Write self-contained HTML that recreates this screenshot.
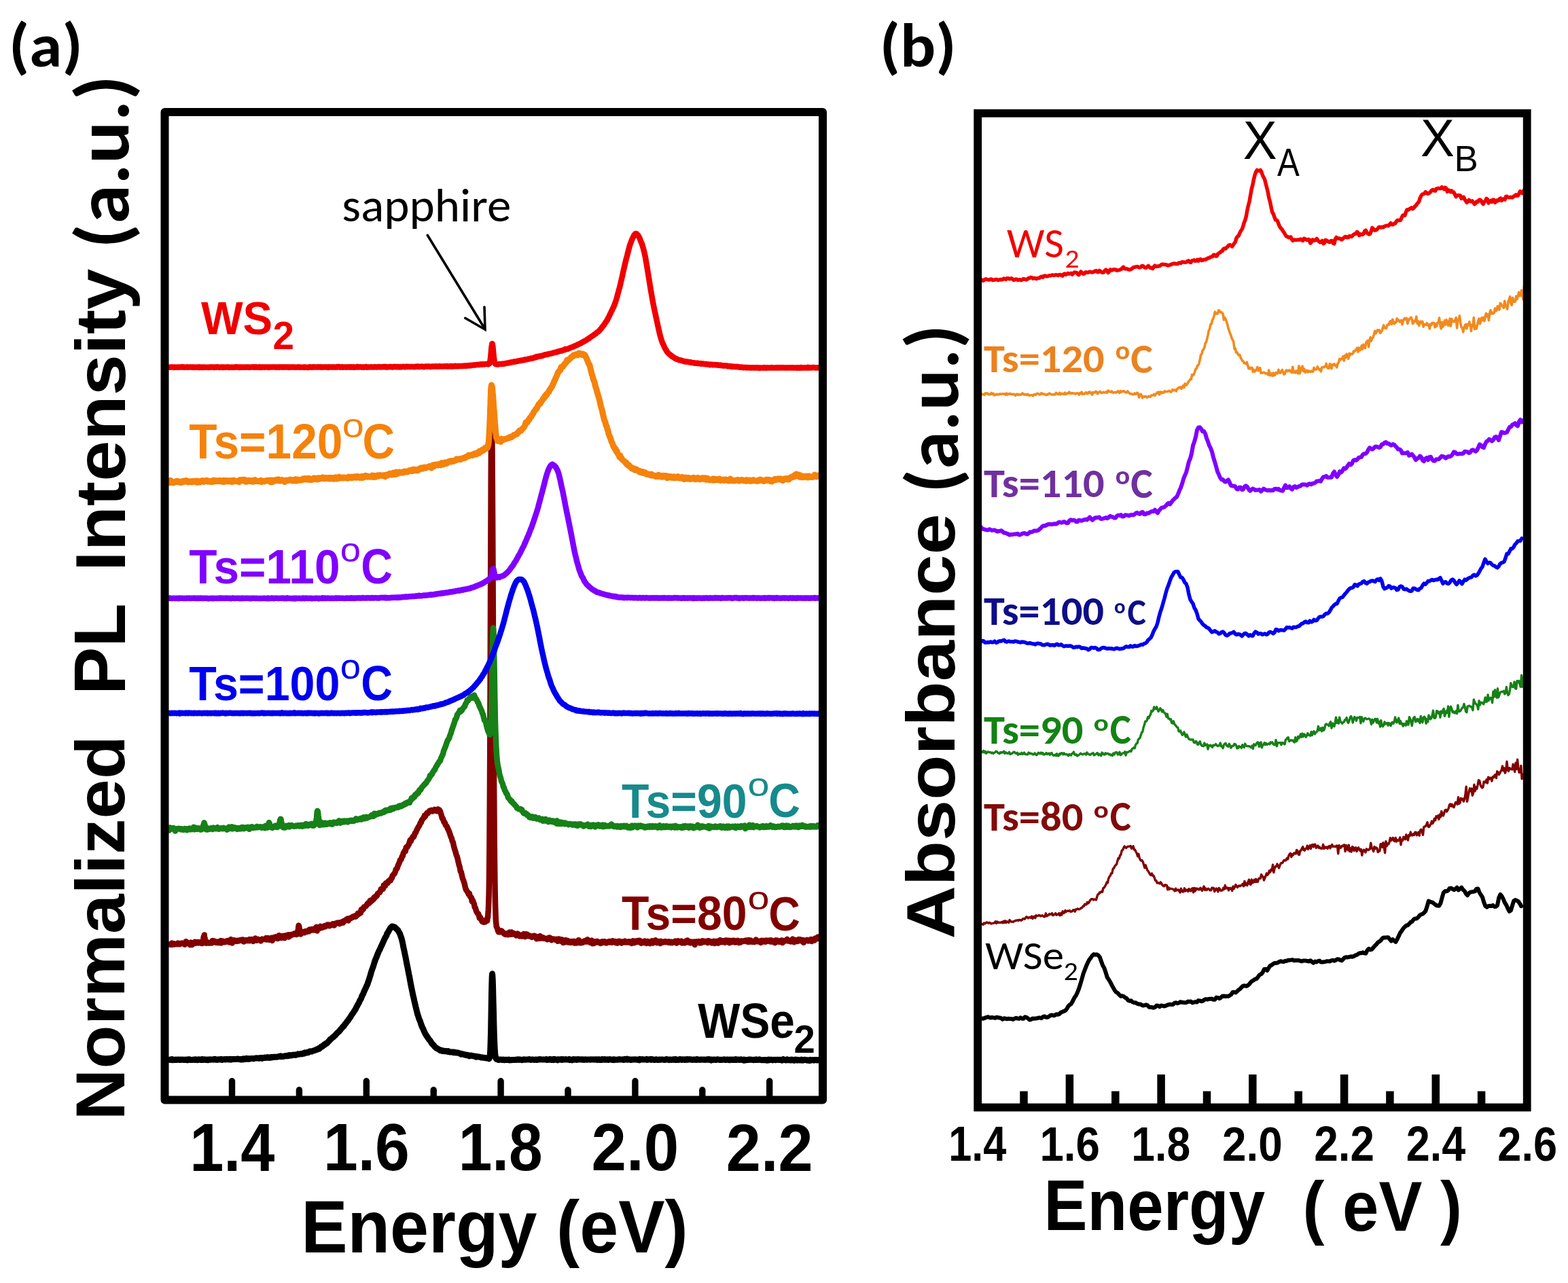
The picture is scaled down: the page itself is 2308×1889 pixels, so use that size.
<!DOCTYPE html>
<html><head><meta charset="utf-8"><title>PL and absorbance spectra</title>
<style>html,body{margin:0;padding:0;background:#fff;}svg{display:block;}</style></head>
<body><svg xmlns="http://www.w3.org/2000/svg" width="2308" height="1889" viewBox="0 0 2308 1889">
<rect width="2308" height="1889" fill="#fff"/>
<polyline points="249.8,1390.4 250.8,1390.9 251.8,1390.3 252.8,1388.5 253.8,1390.9 254.8,1390.3 255.8,1389.2 256.8,1390.4 257.8,1390.1 258.8,1390.0 259.8,1389.7 260.8,1390.2 261.8,1388.8 262.8,1389.4 263.8,1389.0 264.8,1390.1 265.8,1389.5 266.8,1389.1 267.8,1388.5 268.8,1389.1 269.8,1389.3 270.8,1389.0 271.8,1390.6 272.8,1390.3 273.8,1386.2 274.8,1387.0 275.8,1388.9 276.8,1388.6 277.8,1389.2 278.8,1389.2 279.8,1391.2 280.8,1387.6 281.8,1388.4 282.8,1391.0 283.8,1389.4 284.8,1389.4 285.8,1388.1 286.8,1386.8 287.8,1388.7 288.8,1388.6 289.8,1387.1 290.8,1387.7 291.8,1388.3 292.8,1387.3 293.8,1388.2 294.8,1388.3 295.8,1388.2 296.5,1387.6 296.8,1388.8 296.8,1389.1 297.0,1388.5 297.2,1387.2 297.5,1388.8 297.8,1387.3 297.8,1388.8 298.0,1386.5 298.2,1388.3 298.5,1386.7 298.8,1384.5 298.8,1385.4 299.0,1384.9 299.2,1383.8 299.5,1380.9 299.8,1379.2 299.8,1380.4 300.0,1378.7 300.2,1378.6 300.5,1378.8 300.8,1376.5 300.8,1378.7 301.0,1380.5 301.2,1380.1 301.5,1381.0 301.8,1384.2 301.8,1383.9 302.0,1385.6 302.2,1385.4 302.5,1384.9 302.8,1387.0 302.8,1386.7 303.0,1388.3 303.2,1387.8 303.5,1385.9 303.8,1386.5 303.8,1388.7 304.0,1388.5 304.2,1387.1 304.8,1387.8 305.8,1388.2 306.8,1388.2 307.8,1388.6 308.8,1387.8 309.8,1387.4 310.8,1387.2 311.8,1388.6 312.8,1384.9 313.8,1387.1 314.8,1387.3 315.8,1385.6 316.8,1387.5 317.8,1386.4 318.8,1388.0 319.8,1386.8 320.8,1387.6 321.8,1388.2 322.8,1387.2 323.8,1385.8 324.8,1385.0 325.8,1388.5 326.8,1386.4 327.8,1385.7 328.8,1386.6 329.8,1386.2 330.8,1387.3 331.8,1386.3 332.8,1386.2 333.8,1385.4 334.8,1386.6 335.8,1384.9 336.8,1386.7 337.8,1387.6 338.8,1384.2 339.8,1383.1 340.8,1386.4 341.8,1388.5 342.8,1384.5 343.8,1384.2 344.8,1386.2 345.8,1384.5 346.8,1384.8 347.8,1385.0 348.8,1385.9 349.8,1384.8 350.8,1385.5 351.8,1384.9 352.8,1384.2 353.8,1384.7 354.8,1383.9 355.8,1384.9 356.8,1383.6 357.8,1383.6 358.8,1386.4 359.8,1384.7 360.8,1384.6 361.8,1385.2 362.8,1384.1 363.8,1384.3 364.8,1385.0 365.8,1384.7 366.8,1383.1 367.8,1385.2 368.8,1383.6 369.8,1383.1 370.8,1383.2 371.8,1383.7 372.8,1385.9 373.8,1382.7 374.8,1384.1 375.8,1381.5 376.8,1383.8 377.8,1384.8 378.8,1383.4 379.8,1382.9 380.8,1383.8 381.8,1384.3 382.8,1384.2 383.8,1385.5 384.8,1383.5 385.8,1382.6 386.8,1383.0 387.8,1383.0 388.8,1383.1 389.8,1382.9 390.8,1383.0 391.8,1380.9 392.8,1383.5 393.8,1381.9 394.8,1381.1 395.8,1383.0 396.8,1383.7 397.8,1382.6 398.8,1382.1 399.8,1380.8 400.8,1384.9 401.8,1382.5 402.8,1380.2 403.8,1380.4 404.8,1381.2 405.8,1379.3 406.8,1381.0 407.8,1380.2 408.8,1381.9 409.8,1381.4 410.8,1377.2 411.8,1380.1 412.8,1378.1 413.8,1380.9 414.8,1379.7 415.8,1379.9 416.8,1377.9 417.8,1380.9 418.8,1381.0 419.8,1377.4 420.8,1378.8 421.8,1377.4 422.8,1377.9 423.8,1376.4 424.8,1379.6 425.8,1376.3 426.8,1376.9 427.8,1377.5 428.8,1376.1 429.8,1376.3 430.8,1375.7 431.8,1376.0 432.8,1374.7 433.8,1375.3 434.8,1375.3 435.8,1375.0 436.1,1375.3 436.3,1374.9 436.6,1376.0 436.8,1374.7 437.1,1374.7 437.3,1373.9 437.6,1373.6 437.8,1372.2 438.1,1373.3 438.3,1370.3 438.6,1369.4 438.8,1369.0 439.1,1367.5 439.3,1365.3 439.6,1362.6 439.8,1364.9 440.1,1365.0 440.3,1364.0 440.6,1367.6 440.8,1367.4 441.1,1368.4 441.3,1371.0 441.6,1371.7 441.8,1372.9 442.1,1371.4 442.3,1375.4 442.6,1372.9 442.8,1372.0 443.1,1374.3 443.3,1373.2 443.6,1373.9 443.8,1373.2 444.8,1373.2 445.8,1373.3 446.8,1372.0 447.8,1373.3 448.8,1371.7 449.8,1371.0 450.8,1371.8 451.8,1371.9 452.8,1370.9 453.8,1370.0 454.8,1371.3 455.8,1368.4 456.8,1368.9 457.8,1369.8 458.8,1368.0 459.8,1369.2 460.8,1368.9 461.8,1369.6 462.8,1367.3 463.8,1367.4 464.8,1368.1 465.8,1364.8 466.8,1370.6 467.8,1366.1 468.8,1365.8 469.8,1367.3 470.8,1366.0 471.8,1363.8 472.8,1366.1 473.8,1366.1 474.8,1364.4 475.8,1364.3 476.8,1364.9 477.8,1363.1 478.8,1364.3 479.8,1363.7 480.8,1362.5 481.8,1361.5 482.8,1362.5 483.8,1361.5 484.8,1363.3 485.8,1362.2 486.8,1362.6 487.8,1361.7 488.8,1361.6 489.8,1360.2 490.8,1361.6 491.8,1362.6 492.8,1360.0 493.8,1359.5 494.8,1359.7 495.8,1359.1 496.8,1358.6 497.8,1359.3 498.8,1358.6 499.8,1360.2 500.8,1358.3 501.8,1358.4 502.8,1358.8 503.8,1357.1 504.8,1358.6 505.8,1356.0 506.8,1355.5 507.8,1355.6 508.8,1355.5 509.8,1353.7 510.8,1354.8 511.8,1352.6 512.8,1355.5 513.8,1353.4 514.8,1352.4 515.8,1351.6 516.8,1351.7 517.8,1351.3 518.8,1349.9 519.8,1349.5 520.8,1349.7 521.8,1348.8 522.8,1349.8 523.8,1349.4 524.8,1347.5 525.8,1347.4 526.8,1344.7 527.8,1346.1 528.8,1344.5 529.8,1344.1 530.8,1344.3 531.8,1338.9 532.8,1340.6 533.8,1337.9 534.8,1338.6 535.8,1335.3 536.8,1335.0 537.8,1334.6 538.8,1333.9 539.8,1332.3 540.8,1330.4 541.8,1329.7 542.8,1330.4 543.8,1328.5 544.8,1325.8 545.8,1327.7 546.8,1326.4 547.8,1326.0 548.8,1323.7 549.8,1324.1 550.8,1321.1 551.8,1321.8 552.8,1319.6 553.8,1319.8 554.8,1318.9 555.8,1315.8 556.8,1315.3 557.8,1314.1 558.8,1314.1 559.8,1312.3 560.8,1308.9 561.8,1309.4 562.8,1308.5 563.8,1308.8 564.8,1303.5 565.8,1303.6 566.8,1304.6 567.8,1300.6 568.8,1299.8 569.8,1300.6 570.8,1300.2 571.8,1297.3 572.8,1297.5 573.8,1295.9 574.8,1296.2 575.8,1293.2 576.8,1292.9 577.8,1289.2 578.8,1288.3 579.8,1286.6 580.8,1286.1 581.8,1283.5 582.8,1280.0 583.8,1279.5 584.8,1277.5 585.8,1274.5 586.8,1272.2 587.8,1270.2 588.8,1266.5 589.8,1266.5 590.8,1264.4 591.8,1260.9 592.8,1260.5 593.8,1255.9 594.8,1254.7 595.8,1252.6 596.8,1253.3 597.8,1247.4 598.8,1248.0 599.8,1246.7 600.8,1244.4 601.8,1243.7 602.8,1239.8 603.8,1236.8 604.8,1238.6 605.8,1234.9 606.8,1234.2 607.8,1231.6 608.8,1232.3 609.8,1230.2 610.8,1226.6 611.8,1226.4 612.8,1223.6 613.8,1221.4 614.8,1219.6 615.8,1217.4 616.8,1216.4 617.8,1214.1 618.8,1211.5 619.8,1211.1 620.8,1207.4 621.8,1206.4 622.8,1204.8 623.8,1204.3 624.8,1200.8 625.8,1202.2 626.8,1199.5 627.8,1198.2 628.8,1196.8 629.8,1197.5 630.8,1196.2 631.8,1194.3 632.8,1193.6 633.8,1193.6 634.8,1193.0 635.8,1194.5 636.8,1194.5 637.8,1193.7 638.8,1193.0 639.8,1191.9 640.8,1192.3 641.8,1193.0 642.8,1194.3 643.8,1192.9 644.8,1191.5 645.8,1192.0 646.8,1192.6 647.8,1194.2 648.8,1197.4 649.8,1200.5 650.8,1204.8 651.8,1205.0 652.8,1208.4 653.8,1210.9 654.8,1211.0 655.8,1214.7 656.8,1215.7 657.8,1216.6 658.8,1219.5 659.8,1221.5 660.8,1223.6 661.8,1226.3 662.8,1229.4 663.8,1232.6 664.8,1234.2 665.8,1238.4 666.8,1240.0 667.8,1245.2 668.8,1249.0 669.8,1251.9 670.8,1255.3 671.8,1259.1 672.8,1261.2 673.8,1265.3 674.8,1269.7 675.8,1273.9 676.8,1276.9 677.8,1283.0 678.8,1283.7 679.8,1288.6 680.8,1292.8 681.8,1295.3 682.8,1298.4 683.8,1301.5 684.8,1306.1 685.8,1309.7 686.8,1310.9 687.8,1312.8 688.8,1314.0 689.8,1316.7 690.8,1315.4 691.8,1319.6 692.8,1321.0 693.8,1321.3 694.8,1327.2 695.8,1325.5 696.8,1328.3 697.8,1330.8 698.8,1336.0 699.8,1336.5 700.8,1340.7 701.8,1343.0 702.8,1344.8 703.8,1344.9 704.8,1347.5 705.8,1351.8 706.8,1350.4 707.8,1352.5 708.8,1354.7 709.8,1356.9 710.8,1357.0 711.8,1357.8 712.8,1355.7 713.8,1357.6 714.8,1356.8 715.8,1353.9 716.8,1355.9 717.2,1355.7 717.6,1350.9 717.8,1350.9 718.0,1351.3 718.4,1345.1 718.8,1339.5 719.2,1331.3 719.6,1316.3 719.8,1304.7 720.0,1291.2 720.4,1249.4 720.8,1187.3 720.8,1189.3 721.2,1109.4 721.6,1008.5 721.8,953.1 722.0,895.1 722.4,784.1 722.8,685.7 722.8,687.6 723.2,621.5 723.6,600.1 723.8,602.9 724.0,610.8 724.4,649.0 724.8,707.3 724.8,704.7 725.2,777.5 725.6,858.5 725.8,899.8 726.0,944.6 726.4,1026.6 726.8,1100.8 726.8,1100.2 727.2,1164.9 727.6,1219.4 727.8,1241.3 728.0,1263.3 728.4,1296.4 728.8,1320.5 728.8,1318.9 729.2,1336.7 729.6,1348.2 729.8,1354.7 730.8,1364.6 731.8,1366.0 732.8,1369.9 733.8,1372.2 734.8,1371.5 735.8,1372.3 736.8,1372.0 737.8,1370.3 738.8,1371.0 739.8,1372.1 740.8,1373.7 741.8,1374.6 742.8,1375.3 743.8,1374.4 744.8,1376.0 745.8,1374.8 746.8,1374.4 747.8,1376.3 748.8,1374.4 749.8,1372.5 750.8,1374.4 751.8,1375.8 752.8,1372.4 753.8,1375.4 754.8,1375.5 755.8,1374.4 756.8,1374.3 757.8,1375.5 758.8,1375.5 759.8,1377.5 760.8,1376.6 761.8,1374.5 762.8,1375.3 763.8,1377.1 764.8,1378.4 765.8,1376.8 766.8,1376.8 767.8,1378.5 768.8,1376.5 769.8,1376.3 770.8,1375.1 771.8,1376.2 772.8,1379.2 773.8,1375.3 774.8,1377.0 775.8,1375.5 776.8,1377.3 777.8,1378.3 778.8,1377.2 779.8,1378.4 780.8,1378.5 781.8,1378.4 782.8,1379.9 783.8,1379.0 784.8,1378.0 785.8,1377.8 786.8,1377.8 787.8,1379.4 788.8,1378.7 789.8,1382.2 790.8,1381.5 791.8,1379.4 792.8,1379.4 793.8,1381.8 794.8,1378.1 795.8,1379.8 796.8,1381.5 797.8,1379.7 798.8,1380.3 799.8,1380.6 800.8,1381.8 801.8,1381.4 802.8,1381.9 803.8,1382.3 804.8,1381.8 805.8,1383.2 806.8,1381.3 807.8,1380.7 808.8,1380.5 809.8,1380.9 810.8,1382.2 811.8,1384.2 812.8,1383.4 813.8,1382.7 814.8,1382.4 815.8,1383.2 816.8,1383.5 817.8,1383.5 818.8,1382.7 819.8,1384.0 820.8,1385.8 821.8,1382.4 822.8,1384.7 823.8,1382.8 824.8,1385.5 825.8,1384.7 826.8,1383.3 827.8,1385.9 828.8,1387.9 829.8,1386.2 830.8,1387.4 831.8,1386.2 832.8,1384.0 833.8,1387.0 834.8,1386.1 835.8,1385.1 836.8,1387.6 837.8,1387.1 838.8,1386.3 839.8,1387.9 840.8,1386.0 841.8,1387.7 842.8,1386.0 843.8,1387.6 844.8,1385.8 845.8,1388.6 846.8,1387.3 847.8,1388.6 848.8,1386.1 849.8,1386.5 850.8,1388.0 851.8,1384.0 852.8,1385.9 853.8,1388.2 854.8,1387.6 855.8,1388.1 856.8,1386.7 857.8,1387.7 858.8,1386.3 859.8,1385.6 860.8,1385.2 861.8,1386.5 862.8,1386.5 863.8,1386.4 864.8,1383.2 865.8,1384.9 866.8,1386.5 867.8,1387.4 868.8,1386.5 869.8,1386.1 870.8,1384.6 871.8,1389.3 872.8,1385.9 873.8,1389.0 874.8,1388.8 875.8,1387.4 876.8,1386.5 877.8,1387.3 878.8,1385.8 879.8,1387.4 880.8,1387.1 881.8,1387.7 882.8,1388.2 883.8,1389.0 884.8,1386.7 885.8,1388.3 886.8,1386.3 887.8,1386.2 888.8,1386.5 889.8,1386.1 890.8,1388.2 891.8,1388.2 892.8,1388.5 893.8,1387.1 894.8,1387.5 895.8,1386.5 896.8,1385.9 897.8,1387.6 898.8,1387.5 899.8,1385.9 900.8,1387.8 901.8,1385.2 902.8,1387.0 903.8,1386.5 904.8,1386.6 905.8,1386.0 906.8,1388.2 907.8,1387.8 908.8,1388.5 909.8,1387.3 910.8,1385.7 911.8,1386.8 912.8,1385.9 913.8,1387.7 914.8,1388.5 915.8,1387.5 916.8,1386.5 917.8,1386.8 918.8,1387.4 919.8,1385.6 920.8,1387.3 921.8,1387.4 922.8,1386.6 923.8,1386.7 924.8,1387.4 925.8,1386.3 926.8,1386.3 927.8,1388.0 928.8,1387.4 929.8,1389.0 930.8,1386.1 931.8,1385.2 932.8,1388.2 933.8,1388.2 934.8,1386.4 935.8,1385.6 936.8,1387.1 937.8,1385.2 938.8,1386.8 939.8,1384.8 940.8,1386.9 941.8,1384.8 942.8,1386.9 943.8,1388.8 944.8,1386.9 945.8,1388.0 946.8,1386.5 947.8,1386.2 948.8,1385.5 949.8,1388.3 950.8,1387.1 951.8,1388.9 952.8,1385.9 953.8,1386.9 954.8,1387.2 955.8,1388.7 956.8,1389.2 957.8,1386.4 958.8,1385.9 959.8,1385.2 960.8,1388.6 961.8,1387.0 962.8,1386.4 963.8,1387.1 964.8,1384.3 965.8,1385.2 966.8,1388.2 967.8,1387.6 968.8,1387.3 969.8,1386.0 970.8,1387.8 971.8,1389.1 972.8,1385.8 973.8,1387.1 974.8,1386.6 975.8,1387.5 976.8,1387.1 977.8,1386.9 978.8,1386.1 979.8,1387.1 980.8,1386.4 981.8,1386.9 982.8,1387.0 983.8,1387.8 984.8,1386.4 985.8,1386.7 986.8,1388.2 987.8,1386.8 988.8,1386.8 989.8,1388.0 990.8,1387.3 991.8,1387.1 992.8,1387.3 993.8,1385.6 994.8,1387.5 995.8,1388.5 996.8,1387.6 997.8,1385.3 998.8,1387.3 999.8,1386.0 1000.8,1386.7 1001.8,1387.1 1002.8,1385.6 1003.8,1388.4 1004.8,1386.9 1005.8,1387.8 1006.8,1387.6 1007.8,1388.4 1008.8,1388.2 1009.8,1385.3 1010.8,1386.9 1011.8,1384.5 1012.8,1386.4 1013.8,1387.7 1014.8,1387.9 1015.8,1388.3 1016.8,1386.4 1017.8,1387.2 1018.8,1386.9 1019.8,1388.2 1020.8,1388.6 1021.8,1386.4 1022.8,1391.0 1023.8,1386.8 1024.8,1386.4 1025.8,1387.4 1026.8,1387.6 1027.8,1387.3 1028.8,1386.0 1029.8,1388.4 1030.8,1386.8 1031.8,1388.4 1032.8,1388.2 1033.8,1385.3 1034.8,1385.6 1035.8,1385.6 1036.8,1386.9 1037.8,1386.7 1038.8,1386.9 1039.8,1385.7 1040.8,1387.1 1041.8,1388.2 1042.8,1385.1 1043.8,1386.4 1044.8,1386.9 1045.8,1386.4 1046.8,1386.3 1047.8,1388.5 1048.8,1388.0 1049.8,1387.5 1050.8,1385.7 1051.8,1389.0 1052.8,1386.9 1053.8,1385.9 1054.8,1386.1 1055.8,1385.9 1056.8,1388.8 1057.8,1386.7 1058.8,1386.5 1059.8,1384.1 1060.8,1387.2 1061.8,1385.2 1062.8,1385.1 1063.8,1387.1 1064.8,1385.4 1065.8,1387.3 1066.8,1387.6 1067.8,1384.4 1068.8,1386.2 1069.8,1384.6 1070.8,1386.2 1071.8,1387.3 1072.8,1384.8 1073.8,1388.2 1074.8,1385.9 1075.8,1384.9 1076.8,1386.1 1077.8,1387.1 1078.8,1384.7 1079.8,1386.2 1080.8,1384.7 1081.8,1387.5 1082.8,1386.3 1083.8,1385.7 1084.8,1387.3 1085.8,1384.7 1086.8,1385.7 1087.8,1388.1 1088.8,1386.0 1089.8,1387.6 1090.8,1386.3 1091.8,1385.3 1092.8,1385.8 1093.8,1386.1 1094.8,1385.6 1095.8,1385.1 1096.8,1385.1 1097.8,1384.4 1098.8,1386.1 1099.8,1386.4 1100.8,1386.8 1101.8,1384.0 1102.8,1386.8 1103.8,1385.9 1104.8,1384.4 1105.8,1386.0 1106.8,1386.8 1107.8,1386.5 1108.8,1386.7 1109.8,1386.9 1110.8,1386.9 1111.8,1385.8 1112.8,1383.6 1113.8,1385.0 1114.8,1386.2 1115.8,1385.3 1116.8,1386.6 1117.8,1386.7 1118.8,1385.9 1119.8,1387.9 1120.8,1384.7 1121.8,1386.8 1122.8,1385.3 1123.8,1384.9 1124.8,1386.4 1125.8,1385.1 1126.8,1386.7 1127.8,1384.5 1128.8,1385.8 1129.8,1384.8 1130.8,1385.5 1131.8,1385.3 1132.8,1384.5 1133.8,1386.4 1134.8,1384.3 1135.8,1384.6 1136.8,1386.7 1137.8,1386.7 1138.8,1386.4 1139.8,1386.0 1140.8,1388.2 1141.8,1384.3 1142.8,1384.8 1143.8,1384.5 1144.8,1386.6 1145.8,1385.9 1146.8,1386.8 1147.8,1386.7 1148.8,1385.3 1149.8,1384.7 1150.8,1384.5 1151.8,1388.0 1152.8,1386.6 1153.8,1386.2 1154.8,1385.1 1155.8,1385.3 1156.8,1385.1 1157.8,1385.1 1158.8,1382.8 1159.8,1385.4 1160.8,1385.0 1161.8,1385.7 1162.8,1385.6 1163.8,1386.3 1164.8,1385.3 1165.8,1386.2 1166.8,1382.5 1167.8,1384.1 1168.8,1387.2 1169.8,1383.9 1170.8,1384.9 1171.8,1386.0 1172.8,1384.2 1173.8,1386.0 1174.8,1383.6 1175.8,1383.0 1176.8,1383.7 1177.8,1383.3 1178.8,1385.1 1179.8,1384.7 1180.8,1385.4 1181.8,1383.9 1182.8,1387.8 1183.8,1384.8 1184.8,1384.8 1185.8,1385.3 1186.8,1384.5 1187.8,1383.9 1188.8,1384.6 1189.8,1385.4 1190.8,1385.0 1191.8,1385.2 1192.8,1383.4 1193.8,1383.0 1194.8,1385.9 1195.8,1383.3 1196.8,1383.9 1197.8,1384.0 1198.8,1384.6 1199.8,1381.4 1200.8,1382.2 1201.8,1382.0 1202.8,1382.0 1203.8,1379.5 1204.8,1381.9" fill="none" stroke="#820000" stroke-width="8.5" stroke-linejoin="round" stroke-linecap="round"/>
<polyline points="249.8,1560.4 250.8,1560.1 251.8,1560.2 252.8,1559.6 253.8,1560.8 254.8,1560.6 255.8,1560.2 256.8,1560.5 257.8,1560.4 258.8,1560.1 259.8,1560.6 260.8,1560.2 261.8,1560.2 262.8,1560.0 263.8,1560.4 264.8,1560.3 265.8,1560.4 266.8,1560.1 267.8,1560.3 268.8,1560.0 269.8,1560.5 270.8,1560.3 271.8,1560.4 272.8,1560.4 273.8,1560.0 274.8,1560.5 275.8,1560.9 276.8,1559.7 277.8,1559.7 278.8,1559.8 279.8,1560.5 280.8,1560.3 281.8,1560.5 282.8,1560.4 283.8,1560.3 284.8,1560.3 285.8,1560.1 286.8,1560.5 287.8,1559.8 288.8,1560.1 289.8,1560.2 290.8,1560.7 291.8,1559.9 292.8,1559.8 293.8,1560.0 294.8,1560.4 295.8,1560.1 296.8,1560.5 297.8,1559.6 298.8,1560.4 299.8,1560.4 300.8,1559.7 301.8,1560.1 302.8,1560.4 303.8,1560.1 304.8,1560.4 305.8,1560.8 306.8,1560.1 307.8,1560.0 308.8,1559.8 309.8,1560.2 310.8,1559.9 311.8,1559.9 312.8,1560.0 313.8,1560.2 314.8,1559.6 315.8,1559.5 316.8,1559.2 317.8,1560.3 318.8,1560.0 319.8,1560.4 320.8,1559.9 321.8,1559.7 322.8,1560.0 323.8,1559.9 324.8,1559.5 325.8,1559.6 326.8,1560.4 327.8,1559.9 328.8,1559.9 329.8,1559.7 330.8,1559.6 331.8,1560.0 332.8,1559.7 333.8,1559.5 334.8,1559.7 335.8,1559.5 336.8,1559.8 337.8,1560.0 338.8,1559.4 339.8,1560.1 340.8,1559.5 341.8,1559.7 342.8,1559.4 343.8,1559.6 344.8,1559.6 345.8,1559.5 346.8,1559.4 347.8,1559.4 348.8,1559.3 349.8,1559.0 350.8,1559.4 351.8,1559.6 352.8,1559.7 353.8,1559.6 354.8,1560.1 355.8,1559.4 356.8,1559.2 357.8,1559.8 358.8,1558.9 359.8,1559.5 360.8,1558.8 361.8,1559.2 362.8,1558.4 363.8,1559.3 364.8,1558.9 365.8,1558.6 366.8,1559.3 367.8,1559.0 368.8,1558.7 369.8,1558.4 370.8,1558.6 371.8,1558.5 372.8,1558.7 373.8,1558.7 374.8,1558.2 375.8,1558.1 376.8,1558.1 377.8,1557.8 378.8,1557.9 379.8,1558.0 380.8,1558.2 381.8,1558.3 382.8,1557.6 383.8,1557.9 384.8,1557.6 385.8,1558.3 386.8,1557.6 387.8,1557.7 388.8,1557.2 389.8,1557.1 390.8,1557.4 391.8,1557.1 392.8,1557.3 393.8,1556.6 394.8,1557.2 395.8,1556.7 396.8,1557.4 397.8,1556.7 398.8,1557.1 399.8,1556.2 400.8,1556.7 401.8,1556.2 402.8,1556.3 403.8,1556.4 404.8,1556.2 405.8,1556.3 406.8,1556.3 407.8,1556.2 408.8,1555.9 409.8,1555.4 410.8,1555.5 411.8,1555.6 412.8,1554.9 413.8,1555.7 414.8,1555.3 415.8,1555.2 416.8,1555.5 417.8,1555.3 418.8,1555.0 419.8,1554.6 420.8,1554.8 421.8,1554.7 422.8,1554.3 423.8,1554.7 424.8,1554.4 425.8,1553.6 426.8,1554.1 427.8,1553.5 428.8,1554.1 429.8,1553.9 430.8,1553.2 431.8,1553.1 432.8,1553.3 433.8,1553.0 434.8,1553.4 435.8,1553.1 436.8,1552.6 437.8,1552.7 438.8,1551.8 439.8,1552.3 440.8,1552.3 441.8,1551.8 442.8,1551.5 443.8,1551.7 444.8,1551.9 445.8,1551.2 446.8,1550.5 447.8,1551.1 448.8,1549.9 449.8,1550.4 450.8,1549.8 451.8,1550.0 452.8,1549.2 453.8,1549.6 454.8,1549.0 455.8,1548.2 456.8,1547.8 457.8,1548.0 458.8,1548.2 459.8,1547.5 460.8,1547.2 461.8,1546.7 462.8,1546.7 463.8,1546.2 464.8,1545.8 465.8,1545.1 466.8,1545.3 467.8,1544.9 468.8,1543.7 469.8,1544.2 470.8,1543.2 471.8,1542.2 472.8,1541.1 473.8,1541.2 474.8,1540.5 475.8,1539.4 476.8,1538.3 477.8,1538.4 478.8,1537.1 479.8,1536.3 480.8,1536.5 481.8,1535.4 482.8,1534.2 483.8,1532.9 484.8,1532.3 485.8,1530.5 486.8,1530.3 487.8,1529.2 488.8,1528.1 489.8,1527.1 490.8,1526.8 491.8,1525.8 492.8,1524.8 493.8,1524.1 494.8,1522.6 495.8,1521.5 496.8,1520.3 497.8,1519.7 498.8,1518.9 499.8,1517.6 500.8,1516.7 501.8,1515.0 502.8,1514.1 503.8,1512.9 504.8,1511.5 505.8,1511.3 506.8,1509.7 507.8,1508.0 508.8,1506.8 509.8,1505.7 510.8,1504.0 511.8,1503.2 512.8,1501.4 513.8,1500.3 514.8,1498.7 515.8,1497.4 516.8,1495.7 517.8,1494.1 518.8,1492.8 519.8,1491.2 520.8,1489.7 521.8,1488.1 522.8,1486.8 523.8,1484.8 524.8,1482.6 525.8,1481.1 526.8,1478.8 527.8,1477.5 528.8,1475.3 529.8,1472.8 530.8,1471.4 531.8,1469.4 532.8,1466.3 533.8,1464.7 534.8,1462.7 535.8,1460.0 536.8,1458.0 537.8,1455.7 538.8,1453.7 539.8,1451.2 540.8,1449.4 541.8,1445.9 542.8,1443.5 543.8,1440.2 544.8,1437.2 545.8,1433.5 546.8,1430.1 547.8,1427.2 548.8,1424.5 549.8,1421.6 550.8,1418.2 551.8,1415.3 552.8,1412.1 553.8,1410.3 554.8,1407.7 555.8,1404.8 556.8,1402.6 557.8,1400.0 558.8,1398.6 559.8,1396.1 560.8,1393.8 561.8,1391.9 562.8,1389.8 563.8,1387.4 564.8,1385.1 565.8,1383.0 566.8,1380.8 567.8,1379.3 568.8,1377.7 569.8,1374.4 570.8,1373.1 571.8,1371.4 572.8,1369.4 573.8,1368.0 574.8,1366.0 575.8,1365.4 576.8,1364.0 577.8,1364.0 578.8,1364.4 579.8,1364.6 580.8,1364.8 581.8,1365.9 582.8,1367.1 583.8,1367.7 584.8,1368.8 585.8,1369.7 586.8,1371.5 587.8,1373.4 588.8,1375.1 589.8,1378.2 590.8,1380.9 591.8,1384.7 592.8,1389.0 593.8,1394.6 594.8,1398.9 595.8,1403.8 596.8,1408.4 597.8,1413.8 598.8,1418.8 599.8,1423.6 600.8,1428.9 601.8,1434.2 602.8,1438.7 603.8,1444.7 604.8,1449.8 605.8,1454.9 606.8,1459.6 607.8,1464.6 608.8,1468.7 609.8,1473.5 610.8,1477.6 611.8,1482.0 612.8,1485.9 613.8,1490.0 614.8,1493.9 615.8,1496.5 616.8,1500.2 617.8,1502.1 618.8,1504.7 619.8,1508.0 620.8,1510.5 621.8,1513.1 622.8,1514.7 623.8,1517.4 624.8,1519.5 625.8,1521.8 626.8,1523.2 627.8,1525.1 628.8,1526.2 629.8,1527.9 630.8,1529.2 631.8,1530.9 632.8,1531.8 633.8,1533.2 634.8,1534.9 635.8,1536.5 636.8,1537.3 637.8,1538.5 638.8,1539.4 639.8,1540.9 640.8,1541.7 641.8,1543.0 642.8,1543.4 643.8,1543.8 644.8,1544.6 645.8,1545.0 646.8,1545.4 647.8,1546.6 648.8,1546.8 649.8,1546.4 650.8,1547.5 651.8,1547.3 652.8,1547.1 653.8,1547.7 654.8,1547.8 655.8,1547.7 656.8,1547.5 657.8,1548.2 658.8,1548.4 659.8,1547.7 660.8,1548.8 661.8,1548.9 662.8,1548.7 663.8,1549.0 664.8,1549.0 665.8,1548.9 666.8,1549.2 667.8,1549.8 668.8,1549.1 669.8,1549.7 670.8,1549.9 671.8,1549.7 672.8,1550.0 673.8,1549.9 674.8,1550.2 675.8,1550.7 676.8,1551.0 677.8,1550.9 678.8,1552.3 679.8,1551.5 680.8,1551.9 681.8,1552.1 682.8,1552.3 683.8,1553.0 684.8,1552.7 685.8,1553.5 686.8,1553.7 687.8,1553.3 688.8,1554.1 689.8,1553.8 690.8,1555.0 691.8,1554.2 692.8,1554.2 693.8,1554.1 694.8,1554.4 695.8,1554.8 696.8,1554.8 697.8,1554.9 698.8,1555.2 699.8,1555.5 700.8,1556.2 701.8,1555.4 702.8,1555.9 703.8,1555.9 704.8,1555.9 705.8,1556.1 706.8,1556.3 707.8,1556.9 708.8,1556.8 709.8,1556.8 710.8,1557.3 711.8,1557.3 712.8,1557.3 713.8,1557.6 714.8,1557.4 715.8,1557.9 716.8,1558.0 717.8,1557.9 718.8,1557.8 719.3,1558.6 719.6,1558.2 719.8,1559.0 720.0,1557.8 720.3,1558.0 720.6,1556.9 720.8,1556.3 720.9,1555.8 721.3,1552.8 721.6,1548.6 721.8,1544.2 721.9,1541.7 722.2,1531.8 722.6,1518.4 722.8,1505.8 722.9,1501.6 723.2,1482.8 723.5,1464.1 723.8,1450.5 723.9,1448.4 724.2,1438.0 724.5,1433.8 724.8,1435.3 724.8,1436.2 725.2,1441.7 725.5,1450.9 725.8,1462.8 725.8,1463.0 726.1,1475.3 726.5,1489.4 726.8,1503.1 726.8,1503.9 727.1,1515.0 727.4,1525.8 727.8,1535.3 727.8,1536.0 728.1,1542.2 728.4,1547.7 728.7,1551.4 728.8,1552.4 729.1,1554.3 729.4,1556.2 729.7,1557.4 729.8,1558.3 730.8,1559.4 731.8,1559.7 732.8,1559.6 733.8,1560.6 734.8,1560.4 735.8,1560.2 736.8,1560.1 737.8,1559.9 738.8,1560.5 739.8,1560.5 740.8,1560.1 741.8,1560.8 742.8,1560.7 743.8,1560.2 744.8,1560.3 745.8,1560.4 746.8,1560.5 747.8,1560.4 748.8,1560.0 749.8,1560.9 750.8,1560.6 751.8,1560.8 752.8,1560.8 753.8,1560.4 754.8,1560.5 755.8,1560.6 756.8,1560.6 757.8,1560.4 758.8,1560.2 759.8,1560.4 760.8,1560.1 761.8,1560.2 762.8,1559.7 763.8,1560.4 764.8,1560.0 765.8,1560.1 766.8,1560.3 767.8,1560.4 768.8,1560.8 769.8,1560.3 770.8,1559.8 771.8,1560.3 772.8,1560.0 773.8,1560.3 774.8,1560.0 775.8,1560.0 776.8,1560.0 777.8,1560.0 778.8,1559.6 779.8,1559.9 780.8,1560.1 781.8,1560.5 782.8,1560.0 783.8,1560.0 784.8,1560.2 785.8,1560.2 786.8,1560.5 787.8,1560.2 788.8,1560.0 789.8,1560.4 790.8,1560.5 791.8,1559.9 792.8,1560.1 793.8,1559.5 794.8,1559.9 795.8,1559.7 796.8,1559.9 797.8,1559.9 798.8,1560.0 799.8,1560.0 800.8,1560.1 801.8,1560.1 802.8,1559.8 803.8,1559.6 804.8,1560.4 805.8,1560.4 806.8,1559.9 807.8,1560.2 808.8,1559.5 809.8,1559.5 810.8,1559.9 811.8,1560.4 812.8,1559.7 813.8,1559.7 814.8,1560.5 815.8,1559.4 816.8,1560.2 817.8,1560.1 818.8,1559.9 819.8,1560.1 820.8,1560.8 821.8,1559.7 822.8,1559.9 823.8,1559.9 824.8,1559.8 825.8,1559.6 826.8,1560.5 827.8,1560.1 828.8,1559.5 829.8,1559.8 830.8,1560.1 831.8,1560.1 832.8,1559.6 833.8,1560.0 834.8,1560.1 835.8,1560.1 836.8,1560.1 837.8,1559.5 838.8,1560.6 839.8,1560.1 840.8,1560.5 841.8,1560.9 842.8,1560.0 843.8,1559.6 844.8,1560.3 845.8,1559.9 846.8,1559.9 847.8,1559.7 848.8,1560.5 849.8,1559.9 850.8,1559.6 851.8,1559.9 852.8,1559.7 853.8,1560.0 854.8,1559.9 855.8,1559.7 856.8,1560.2 857.8,1559.8 858.8,1560.2 859.8,1560.4 860.8,1559.9 861.8,1559.8 862.8,1560.1 863.8,1560.3 864.8,1560.0 865.8,1560.0 866.8,1560.0 867.8,1560.1 868.8,1560.2 869.8,1559.8 870.8,1559.9 871.8,1560.0 872.8,1559.8 873.8,1560.0 874.8,1560.2 875.8,1560.0 876.8,1559.8 877.8,1559.8 878.8,1560.5 879.8,1560.3 880.8,1559.7 881.8,1559.8 882.8,1560.6 883.8,1560.5 884.8,1560.0 885.8,1560.4 886.8,1559.6 887.8,1560.0 888.8,1560.2 889.8,1559.5 890.8,1559.8 891.8,1560.2 892.8,1560.3 893.8,1559.8 894.8,1560.1 895.8,1560.5 896.8,1559.9 897.8,1559.6 898.8,1560.0 899.8,1559.9 900.8,1560.4 901.8,1560.1 902.8,1559.8 903.8,1560.7 904.8,1559.9 905.8,1560.2 906.8,1560.2 907.8,1560.3 908.8,1560.1 909.8,1560.2 910.8,1560.0 911.8,1559.6 912.8,1560.0 913.8,1560.0 914.8,1560.0 915.8,1560.1 916.8,1559.8 917.8,1560.4 918.8,1560.5 919.8,1559.4 920.8,1560.0 921.8,1559.8 922.8,1559.2 923.8,1560.1 924.8,1559.8 925.8,1559.9 926.8,1559.8 927.8,1560.4 928.8,1560.4 929.8,1560.1 930.8,1560.2 931.8,1560.0 932.8,1560.1 933.8,1559.8 934.8,1560.0 935.8,1559.8 936.8,1560.1 937.8,1560.3 938.8,1560.1 939.8,1560.4 940.8,1560.8 941.8,1559.4 942.8,1560.0 943.8,1559.9 944.8,1559.9 945.8,1559.6 946.8,1560.1 947.8,1560.0 948.8,1559.9 949.8,1560.0 950.8,1559.9 951.8,1559.3 952.8,1560.4 953.8,1560.0 954.8,1559.8 955.8,1560.1 956.8,1559.8 957.8,1559.4 958.8,1560.3 959.8,1559.5 960.8,1560.0 961.8,1560.1 962.8,1560.5 963.8,1560.4 964.8,1560.1 965.8,1559.8 966.8,1559.9 967.8,1560.4 968.8,1560.6 969.8,1560.2 970.8,1559.9 971.8,1560.4 972.8,1560.0 973.8,1559.9 974.8,1560.0 975.8,1560.2 976.8,1560.2 977.8,1560.4 978.8,1560.5 979.8,1560.2 980.8,1559.4 981.8,1559.6 982.8,1560.1 983.8,1560.1 984.8,1560.7 985.8,1560.1 986.8,1560.0 987.8,1560.4 988.8,1560.4 989.8,1560.0 990.8,1560.2 991.8,1559.7 992.8,1559.8 993.8,1560.5 994.8,1559.7 995.8,1560.4 996.8,1560.3 997.8,1560.3 998.8,1560.4 999.8,1560.3 1000.8,1559.5 1001.8,1559.8 1002.8,1559.9 1003.8,1560.4 1004.8,1559.8 1005.8,1559.9 1006.8,1560.0 1007.8,1560.5 1008.8,1559.7 1009.8,1559.7 1010.8,1560.3 1011.8,1559.5 1012.8,1560.2 1013.8,1560.0 1014.8,1559.6 1015.8,1560.0 1016.8,1559.8 1017.8,1560.2 1018.8,1560.2 1019.8,1560.6 1020.8,1560.1 1021.8,1560.2 1022.8,1560.0 1023.8,1560.1 1024.8,1560.5 1025.8,1559.6 1026.8,1560.3 1027.8,1560.0 1028.8,1560.2 1029.8,1560.2 1030.8,1560.4 1031.8,1560.2 1032.8,1560.0 1033.8,1560.2 1034.8,1560.2 1035.8,1560.1 1036.8,1560.2 1037.8,1560.4 1038.8,1560.2 1039.8,1560.2 1040.8,1559.8 1041.8,1560.1 1042.8,1559.6 1043.8,1560.4 1044.8,1559.9 1045.8,1560.6 1046.8,1561.1 1047.8,1560.1 1048.8,1560.6 1049.8,1560.3 1050.8,1560.0 1051.8,1559.9 1052.8,1560.4 1053.8,1560.6 1054.8,1560.3 1055.8,1559.7 1056.8,1559.9 1057.8,1560.1 1058.8,1560.6 1059.8,1560.3 1060.8,1560.3 1061.8,1560.6 1062.8,1560.2 1063.8,1560.2 1064.8,1560.2 1065.8,1559.7 1066.8,1560.4 1067.8,1560.4 1068.8,1560.5 1069.8,1559.9 1070.8,1560.0 1071.8,1560.5 1072.8,1560.3 1073.8,1560.7 1074.8,1560.0 1075.8,1560.3 1076.8,1560.1 1077.8,1560.4 1078.8,1560.1 1079.8,1560.4 1080.8,1560.6 1081.8,1560.5 1082.8,1559.7 1083.8,1560.6 1084.8,1560.4 1085.8,1560.0 1086.8,1560.0 1087.8,1560.3 1088.8,1560.5 1089.8,1560.2 1090.8,1559.8 1091.8,1560.4 1092.8,1560.4 1093.8,1561.0 1094.8,1559.9 1095.8,1561.1 1096.8,1560.8 1097.8,1560.4 1098.8,1560.8 1099.8,1560.4 1100.8,1560.6 1101.8,1560.1 1102.8,1560.4 1103.8,1560.0 1104.8,1559.9 1105.8,1560.3 1106.8,1560.2 1107.8,1560.5 1108.8,1560.7 1109.8,1560.3 1110.8,1560.4 1111.8,1560.4 1112.8,1559.9 1113.8,1560.5 1114.8,1560.4 1115.8,1560.4 1116.8,1560.1 1117.8,1559.8 1118.8,1560.3 1119.8,1560.5 1120.8,1560.8 1121.8,1560.7 1122.8,1560.8 1123.8,1560.5 1124.8,1560.8 1125.8,1560.4 1126.8,1560.6 1127.8,1560.7 1128.8,1561.2 1129.8,1560.5 1130.8,1560.1 1131.8,1560.9 1132.8,1560.2 1133.8,1560.4 1134.8,1560.4 1135.8,1560.2 1136.8,1560.9 1137.8,1560.6 1138.8,1560.3 1139.8,1560.5 1140.8,1560.3 1141.8,1560.7 1142.8,1560.4 1143.8,1560.3 1144.8,1560.3 1145.8,1560.4 1146.8,1560.6 1147.8,1560.2 1148.8,1560.5 1149.8,1560.6 1150.8,1561.2 1151.8,1560.8 1152.8,1559.6 1153.8,1560.4 1154.8,1560.4 1155.8,1560.6 1156.8,1561.0 1157.8,1560.8 1158.8,1559.9 1159.8,1560.7 1160.8,1560.6 1161.8,1560.7 1162.8,1561.0 1163.8,1560.3 1164.8,1560.9 1165.8,1560.1 1166.8,1560.6 1167.8,1560.7 1168.8,1561.3 1169.8,1560.4 1170.8,1560.1 1171.8,1560.8 1172.8,1560.4 1173.8,1561.1 1174.8,1560.4 1175.8,1560.4 1176.8,1561.0 1177.8,1560.7 1178.8,1561.0 1179.8,1560.2 1180.8,1561.2 1181.8,1560.5 1182.8,1560.9 1183.8,1560.4 1184.8,1560.2 1185.8,1560.6 1186.8,1560.7 1187.8,1561.2 1188.8,1560.8 1189.8,1560.9 1190.8,1560.9 1191.8,1561.7 1192.8,1560.5 1193.8,1561.1 1194.8,1560.7 1195.8,1560.8 1196.8,1560.6 1197.8,1561.1 1198.8,1560.4 1199.8,1560.4 1200.8,1560.7 1201.8,1560.4 1202.8,1561.0 1203.8,1561.1 1204.8,1560.6" fill="none" stroke="#000000" stroke-width="9" stroke-linejoin="round" stroke-linecap="round"/>
<polyline points="249.0,1222.5 250.0,1218.4 251.0,1221.1 252.0,1220.2 253.0,1220.3 254.0,1220.5 255.0,1218.9 256.0,1220.5 257.0,1219.9 258.0,1223.6 259.0,1220.9 260.0,1220.3 261.0,1220.4 262.0,1220.0 263.0,1219.7 264.0,1220.3 265.0,1221.0 266.0,1220.4 267.0,1221.4 268.0,1220.4 269.0,1220.6 270.0,1221.9 271.0,1221.0 272.0,1220.1 273.0,1220.4 274.0,1221.0 275.0,1222.2 276.0,1220.2 277.0,1220.3 278.0,1221.4 279.0,1219.6 280.0,1220.2 281.0,1221.2 282.0,1220.9 283.0,1220.5 284.0,1221.0 285.0,1217.8 286.0,1221.3 287.0,1219.5 288.0,1218.8 289.0,1220.6 290.0,1220.9 291.0,1219.9 292.0,1219.3 293.0,1220.3 294.0,1220.2 295.0,1221.5 296.0,1220.9 296.5,1220.4 296.8,1221.2 297.0,1220.0 297.2,1219.3 297.5,1220.6 297.8,1220.5 298.0,1219.7 298.2,1218.9 298.5,1219.4 298.8,1216.4 299.0,1218.5 299.2,1217.4 299.5,1214.4 299.8,1214.9 300.0,1213.1 300.2,1214.0 300.5,1211.3 300.8,1212.5 301.0,1214.6 301.2,1215.9 301.5,1213.9 301.8,1216.4 302.0,1218.1 302.2,1218.0 302.5,1220.6 302.8,1218.5 303.0,1220.1 303.2,1219.0 303.5,1221.3 303.8,1220.0 304.0,1219.7 304.2,1218.5 305.0,1221.6 306.0,1220.7 307.0,1220.7 308.0,1221.0 309.0,1220.3 310.0,1219.4 311.0,1219.2 312.0,1219.2 313.0,1221.1 314.0,1218.6 315.0,1219.3 316.0,1219.5 317.0,1220.0 318.0,1220.3 319.0,1218.6 320.0,1218.2 321.0,1219.7 322.0,1220.8 323.0,1220.4 324.0,1219.9 325.0,1219.4 326.0,1219.9 327.0,1219.4 328.0,1220.3 329.0,1218.8 330.0,1219.7 331.0,1219.4 332.0,1220.0 333.0,1219.7 334.0,1221.7 335.0,1220.8 336.0,1220.8 337.0,1217.6 338.0,1219.1 339.0,1218.8 340.0,1219.8 341.0,1217.3 342.0,1220.3 343.0,1220.2 344.0,1218.1 345.0,1218.3 346.0,1218.5 347.0,1219.2 348.0,1219.7 349.0,1221.0 350.0,1218.9 351.0,1219.8 352.0,1219.2 353.0,1220.6 354.0,1219.7 355.0,1220.2 356.0,1218.0 357.0,1218.7 358.0,1218.1 359.0,1220.2 360.0,1219.4 361.0,1218.5 362.0,1218.3 363.0,1219.2 364.0,1218.1 365.0,1217.8 366.0,1219.1 367.0,1220.8 368.0,1218.3 369.0,1218.0 370.0,1217.4 371.0,1217.3 372.0,1218.9 373.0,1219.1 374.0,1218.4 375.0,1218.6 376.0,1218.4 377.0,1218.4 378.0,1216.8 379.0,1217.7 380.0,1218.2 381.0,1217.4 382.0,1217.6 383.0,1217.3 384.0,1217.7 385.0,1218.7 386.0,1217.5 387.0,1217.7 388.0,1218.5 389.0,1218.4 390.0,1219.3 391.0,1215.8 392.0,1218.4 392.2,1217.2 392.5,1217.7 392.8,1218.3 393.0,1218.5 393.2,1218.4 393.5,1217.5 393.8,1218.6 394.0,1216.5 394.2,1216.1 394.5,1216.3 394.8,1214.3 395.0,1215.8 395.2,1213.9 395.5,1214.2 395.8,1211.7 396.0,1211.1 396.2,1211.8 396.5,1212.8 396.8,1212.4 397.0,1214.2 397.2,1214.7 397.5,1216.9 397.8,1215.5 398.0,1217.5 398.2,1216.3 398.5,1216.3 398.8,1216.6 399.0,1216.2 399.2,1217.5 399.5,1218.3 399.8,1217.5 400.0,1217.9 401.0,1218.7 402.0,1217.5 403.0,1217.4 404.0,1216.9 405.0,1215.7 406.0,1217.7 407.0,1215.4 408.0,1217.5 408.2,1216.9 408.5,1217.9 408.8,1216.8 409.0,1216.1 409.1,1217.2 409.4,1216.3 409.7,1216.5 410.0,1216.5 410.0,1216.3 410.3,1215.9 410.6,1214.7 410.9,1214.5 411.0,1212.4 411.2,1213.4 411.5,1211.1 411.8,1211.7 412.0,1210.8 412.1,1207.5 412.4,1208.1 412.7,1206.9 413.0,1205.8 413.0,1207.2 413.3,1206.6 413.6,1206.3 413.9,1208.9 414.0,1209.5 414.2,1210.7 414.5,1211.0 414.8,1213.9 415.0,1214.8 415.1,1213.4 415.4,1214.7 415.7,1215.7 416.0,1215.6 416.0,1217.7 416.3,1216.5 416.6,1215.5 416.9,1215.8 417.0,1216.4 417.2,1218.6 417.5,1216.3 417.8,1216.6 418.0,1216.9 419.0,1216.4 420.0,1218.4 421.0,1215.8 422.0,1216.9 423.0,1216.4 424.0,1216.7 425.0,1215.0 426.0,1217.6 427.0,1215.9 428.0,1216.0 429.0,1215.1 430.0,1215.2 431.0,1216.3 432.0,1216.6 433.0,1216.3 434.0,1216.7 435.0,1216.2 436.0,1215.5 437.0,1216.2 438.0,1215.9 439.0,1215.2 440.0,1215.9 441.0,1216.4 442.0,1215.4 443.0,1214.8 444.0,1215.7 445.0,1216.7 446.0,1214.7 447.0,1214.8 448.0,1214.7 449.0,1215.8 450.0,1213.0 451.0,1214.9 452.0,1215.6 453.0,1213.8 454.0,1215.8 455.0,1214.8 456.0,1213.8 457.0,1214.4 458.0,1212.8 459.0,1213.6 460.0,1215.7 461.0,1213.2 462.0,1215.6 462.6,1213.8 462.9,1214.7 463.0,1213.8 463.2,1211.8 463.5,1213.2 463.8,1213.7 464.0,1212.4 464.1,1212.1 464.4,1213.2 464.7,1211.5 465.0,1209.5 465.0,1210.4 465.3,1210.1 465.6,1206.7 465.9,1205.3 466.0,1204.9 466.2,1201.5 466.5,1197.5 466.8,1194.7 467.0,1194.6 467.1,1194.9 467.4,1193.8 467.7,1194.6 468.0,1195.4 468.0,1196.1 468.3,1197.9 468.6,1201.0 468.9,1203.1 469.0,1203.8 469.2,1206.4 469.5,1208.0 469.8,1209.8 470.0,1212.0 470.1,1211.6 470.4,1215.0 470.7,1213.6 471.0,1212.4 471.0,1213.7 471.3,1213.4 471.6,1212.5 471.9,1214.1 472.0,1212.4 472.2,1210.4 473.0,1213.8 474.0,1212.4 475.0,1214.3 476.0,1212.2 477.0,1211.7 478.0,1214.1 479.0,1211.6 480.0,1212.7 481.0,1213.7 482.0,1212.4 483.0,1212.1 484.0,1212.2 485.0,1212.8 486.0,1211.2 487.0,1212.4 488.0,1212.3 489.0,1213.7 490.0,1211.2 491.0,1210.6 492.0,1212.0 493.0,1210.9 494.0,1211.4 495.0,1211.1 496.0,1212.0 497.0,1210.2 498.0,1210.6 499.0,1208.3 500.0,1209.6 501.0,1211.7 502.0,1209.6 503.0,1209.4 504.0,1208.9 505.0,1210.3 506.0,1209.8 507.0,1208.5 508.0,1210.0 509.0,1209.5 510.0,1209.8 511.0,1208.4 512.0,1210.4 513.0,1209.1 514.0,1208.5 515.0,1208.0 516.0,1208.0 517.0,1208.9 518.0,1207.7 519.0,1208.8 520.0,1208.1 521.0,1208.7 522.0,1208.0 523.0,1207.1 524.0,1205.2 525.0,1207.0 526.0,1207.3 527.0,1206.5 528.0,1206.7 529.0,1205.6 530.0,1205.4 531.0,1204.7 532.0,1206.6 533.0,1205.2 534.0,1204.4 535.0,1203.4 536.0,1204.2 537.0,1205.3 538.0,1204.1 539.0,1202.8 540.0,1204.4 541.0,1204.1 542.0,1203.4 543.0,1202.9 544.0,1202.9 545.0,1202.0 546.0,1201.9 547.0,1200.2 548.0,1201.9 549.0,1200.4 550.0,1201.7 551.0,1197.7 552.0,1199.9 553.0,1199.8 554.0,1198.2 555.0,1198.6 556.0,1198.6 557.0,1198.1 558.0,1196.8 559.0,1196.8 560.0,1197.5 561.0,1197.4 562.0,1196.1 563.0,1195.7 564.0,1195.5 565.0,1196.0 566.0,1193.8 567.0,1193.2 568.0,1194.2 569.0,1192.8 570.0,1192.9 571.0,1193.2 572.0,1193.2 573.0,1191.5 574.0,1192.8 575.0,1190.2 576.0,1191.9 577.0,1189.7 578.0,1189.6 579.0,1190.9 580.0,1189.6 581.0,1188.9 582.0,1188.9 583.0,1189.3 584.0,1188.5 585.0,1188.2 586.0,1188.8 587.0,1186.8 588.0,1186.7 589.0,1186.2 590.0,1187.4 591.0,1186.8 592.0,1186.6 593.0,1185.0 594.0,1184.5 595.0,1184.9 596.0,1183.3 597.0,1183.9 598.0,1183.3 599.0,1181.5 600.0,1181.4 601.0,1180.8 602.0,1181.7 603.0,1181.7 604.0,1178.5 605.0,1177.8 606.0,1174.8 607.0,1176.1 608.0,1174.9 609.0,1172.9 610.0,1173.6 611.0,1170.4 612.0,1170.6 613.0,1169.8 614.0,1167.5 615.0,1168.3 616.0,1167.3 617.0,1163.9 618.0,1162.6 619.0,1163.1 620.0,1161.2 621.0,1158.8 622.0,1158.3 623.0,1157.1 624.0,1155.6 625.0,1155.1 626.0,1153.3 627.0,1153.2 628.0,1151.4 629.0,1149.4 630.0,1148.3 631.0,1147.1 632.0,1145.1 633.0,1141.8 634.0,1142.2 635.0,1140.0 636.0,1139.8 637.0,1136.9 638.0,1135.7 639.0,1133.9 640.0,1133.5 641.0,1130.6 642.0,1128.6 643.0,1127.5 644.0,1125.2 645.0,1124.1 646.0,1122.2 647.0,1120.7 648.0,1120.3 649.0,1116.3 650.0,1114.6 651.0,1112.1 652.0,1110.3 653.0,1105.8 654.0,1103.3 655.0,1100.9 656.0,1098.6 657.0,1095.4 658.0,1092.5 659.0,1089.8 660.0,1088.7 661.0,1087.2 662.0,1083.8 663.0,1081.2 664.0,1078.8 665.0,1074.6 666.0,1072.1 667.0,1069.0 668.0,1066.4 669.0,1063.3 670.0,1059.4 671.0,1058.7 672.0,1056.4 673.0,1052.3 674.0,1051.0 675.0,1049.5 676.0,1048.8 677.0,1045.8 678.0,1047.7 679.0,1045.0 680.0,1045.7 681.0,1043.7 682.0,1042.2 683.0,1041.0 684.0,1040.3 685.0,1036.9 686.0,1035.4 687.0,1033.4 688.0,1030.5 689.0,1031.6 690.0,1029.7 691.0,1028.1 692.0,1028.1 693.0,1025.4 694.0,1025.9 695.0,1027.6 696.0,1027.0 697.0,1024.3 698.0,1023.5 699.0,1026.1 700.0,1029.0 701.0,1029.1 702.0,1031.1 703.0,1033.8 704.0,1034.6 705.0,1037.8 706.0,1040.4 707.0,1042.3 708.0,1044.6 709.0,1046.3 710.0,1050.0 711.0,1052.0 712.0,1056.4 713.0,1060.5 714.0,1060.7 715.0,1062.9 716.0,1067.9 717.0,1071.8 718.0,1075.4 719.0,1078.1 719.6,1077.9 720.0,1078.8 720.4,1081.4 720.8,1079.7 721.0,1081.7 721.2,1080.4 721.6,1080.2 722.0,1077.4 722.0,1077.5 722.4,1072.4 722.8,1062.2 723.0,1057.5 723.2,1050.2 723.6,1033.1 724.0,1012.3 724.0,1010.9 724.4,986.3 724.8,962.2 725.0,951.6 725.2,942.9 725.6,927.8 726.0,925.4 726.0,924.6 726.4,929.2 726.8,941.0 727.0,951.2 727.2,961.7 727.6,982.1 728.0,1008.7 728.0,1009.1 728.4,1031.0 728.8,1051.7 729.0,1062.5 729.2,1069.6 729.6,1081.4 730.0,1092.9 730.0,1092.8 730.4,1101.2 730.8,1106.0 731.0,1111.7 731.2,1113.1 731.6,1118.3 732.0,1121.8 732.0,1122.7 733.0,1128.1 734.0,1132.6 735.0,1138.3 736.0,1143.1 737.0,1145.3 738.0,1150.1 739.0,1152.2 740.0,1154.4 741.0,1159.1 742.0,1159.7 743.0,1163.9 744.0,1164.9 745.0,1168.0 746.0,1168.6 747.0,1171.0 748.0,1174.5 749.0,1175.3 750.0,1176.7 751.0,1177.6 752.0,1179.7 753.0,1179.2 754.0,1180.6 755.0,1182.6 756.0,1183.0 757.0,1184.1 758.0,1185.6 759.0,1186.5 760.0,1187.3 761.0,1189.8 762.0,1190.1 763.0,1191.1 764.0,1190.7 765.0,1191.1 766.0,1191.0 767.0,1192.8 768.0,1192.0 769.0,1194.1 770.0,1196.0 771.0,1197.5 772.0,1197.7 773.0,1196.7 774.0,1198.6 775.0,1198.0 776.0,1200.1 777.0,1199.8 778.0,1201.2 779.0,1203.2 780.0,1202.1 781.0,1203.8 782.0,1202.2 783.0,1202.2 784.0,1204.0 785.0,1204.7 786.0,1203.0 787.0,1203.9 788.0,1202.9 789.0,1204.3 790.0,1205.6 791.0,1205.0 792.0,1204.9 793.0,1204.4 794.0,1206.2 795.0,1206.9 796.0,1207.0 797.0,1206.9 798.0,1205.8 799.0,1208.7 800.0,1207.3 801.0,1207.5 802.0,1208.5 803.0,1206.0 804.0,1208.1 805.0,1208.3 806.0,1208.9 807.0,1210.0 808.0,1209.3 809.0,1207.4 810.0,1209.0 811.0,1209.6 812.0,1209.7 813.0,1208.6 814.0,1208.5 815.0,1210.6 816.0,1210.6 817.0,1210.4 818.0,1209.1 819.0,1212.4 820.0,1208.3 821.0,1210.8 822.0,1213.1 823.0,1211.3 824.0,1211.8 825.0,1210.6 826.0,1213.1 827.0,1210.8 828.0,1212.4 829.0,1212.4 830.0,1211.5 831.0,1213.3 832.0,1211.4 833.0,1212.2 834.0,1212.9 835.0,1212.7 836.0,1213.6 837.0,1214.1 838.0,1213.1 839.0,1213.0 840.0,1213.2 841.0,1213.4 842.0,1214.6 843.0,1213.7 844.0,1214.4 845.0,1214.1 846.0,1213.5 847.0,1215.1 848.0,1213.5 849.0,1214.5 850.0,1215.9 851.0,1213.6 852.0,1214.6 853.0,1213.3 854.0,1214.3 855.0,1213.5 856.0,1214.6 857.0,1214.5 858.0,1215.1 859.0,1216.5 860.0,1215.3 861.0,1215.7 862.0,1215.1 863.0,1215.0 864.0,1214.5 865.0,1213.6 866.0,1215.4 867.0,1216.8 868.0,1215.8 869.0,1214.9 870.0,1216.9 871.0,1215.1 872.0,1214.9 873.0,1214.4 874.0,1214.7 875.0,1215.4 876.0,1217.4 877.0,1215.5 878.0,1214.8 879.0,1215.2 880.0,1215.6 881.0,1214.3 882.0,1215.9 883.0,1216.5 884.0,1216.2 885.0,1216.5 886.0,1214.8 887.0,1214.5 888.0,1217.2 889.0,1217.0 890.0,1214.7 891.0,1216.3 892.0,1216.1 893.0,1216.6 894.0,1216.4 895.0,1215.8 896.0,1216.4 897.0,1216.4 898.0,1216.2 899.0,1214.6 900.0,1213.6 901.0,1215.7 902.0,1214.9 903.0,1216.6 904.0,1217.1 905.0,1216.7 906.0,1216.2 907.0,1216.6 908.0,1217.6 909.0,1215.9 910.0,1217.4 911.0,1217.2 912.0,1216.9 913.0,1218.0 914.0,1216.0 915.0,1217.5 916.0,1215.9 917.0,1216.0 918.0,1215.8 919.0,1217.2 920.0,1215.9 921.0,1216.9 922.0,1215.8 923.0,1217.8 924.0,1218.5 925.0,1217.1 926.0,1218.4 927.0,1217.4 928.0,1218.9 929.0,1217.0 930.0,1215.6 931.0,1218.3 932.0,1216.9 933.0,1216.1 934.0,1216.4 935.0,1215.6 936.0,1216.9 937.0,1216.1 938.0,1218.4 939.0,1217.7 940.0,1215.6 941.0,1215.8 942.0,1216.6 943.0,1215.4 944.0,1217.1 945.0,1217.1 946.0,1216.5 947.0,1216.7 948.0,1217.6 949.0,1218.5 950.0,1218.6 951.0,1217.2 952.0,1218.0 953.0,1216.6 954.0,1217.6 955.0,1216.4 956.0,1217.9 957.0,1216.1 958.0,1216.4 959.0,1217.3 960.0,1217.8 961.0,1216.0 962.0,1216.8 963.0,1217.4 964.0,1217.5 965.0,1216.5 966.0,1217.4 967.0,1217.1 968.0,1218.6 969.0,1217.8 970.0,1216.1 971.0,1215.3 972.0,1217.4 973.0,1218.4 974.0,1217.5 975.0,1218.1 976.0,1216.9 977.0,1216.1 978.0,1218.0 979.0,1217.4 980.0,1217.9 981.0,1216.1 982.0,1217.5 983.0,1216.7 984.0,1218.0 985.0,1216.8 986.0,1216.8 987.0,1216.8 988.0,1218.4 989.0,1217.3 990.0,1216.6 991.0,1216.4 992.0,1216.4 993.0,1218.6 994.0,1215.7 995.0,1216.5 996.0,1217.9 997.0,1218.4 998.0,1217.2 999.0,1218.0 1000.0,1218.0 1001.0,1218.2 1002.0,1217.3 1003.0,1218.8 1004.0,1217.5 1005.0,1218.7 1006.0,1216.3 1007.0,1218.2 1008.0,1216.2 1009.0,1216.0 1010.0,1217.8 1011.0,1216.6 1012.0,1217.7 1013.0,1216.4 1014.0,1218.8 1015.0,1217.3 1016.0,1216.3 1017.0,1217.5 1018.0,1218.1 1019.0,1216.6 1020.0,1217.8 1021.0,1219.2 1022.0,1218.1 1023.0,1217.3 1024.0,1216.8 1025.0,1217.9 1026.0,1216.0 1027.0,1214.6 1028.0,1216.7 1029.0,1216.4 1030.0,1218.9 1031.0,1217.5 1032.0,1216.5 1033.0,1216.3 1034.0,1217.8 1035.0,1216.6 1036.0,1216.8 1037.0,1217.3 1038.0,1217.4 1039.0,1217.4 1040.0,1217.4 1041.0,1218.5 1042.0,1218.9 1043.0,1215.9 1044.0,1219.7 1045.0,1217.5 1046.0,1218.5 1047.0,1216.7 1048.0,1217.6 1049.0,1217.5 1050.0,1217.4 1051.0,1218.1 1052.0,1217.9 1053.0,1216.4 1054.0,1217.2 1055.0,1218.0 1056.0,1217.9 1057.0,1217.0 1058.0,1217.1 1059.0,1217.2 1060.0,1216.3 1061.0,1216.2 1062.0,1218.7 1063.0,1217.0 1064.0,1217.4 1065.0,1216.6 1066.0,1218.5 1067.0,1218.9 1068.0,1217.1 1069.0,1217.8 1070.0,1216.6 1071.0,1218.9 1072.0,1218.1 1073.0,1216.5 1074.0,1218.4 1075.0,1217.6 1076.0,1217.7 1077.0,1217.6 1078.0,1216.7 1079.0,1216.8 1080.0,1217.8 1081.0,1217.2 1082.0,1216.4 1083.0,1219.1 1084.0,1217.1 1085.0,1216.8 1086.0,1216.6 1087.0,1217.9 1088.0,1218.1 1089.0,1217.5 1090.0,1218.0 1091.0,1215.9 1092.0,1216.9 1093.0,1216.8 1094.0,1217.3 1095.0,1217.7 1096.0,1215.4 1097.0,1220.0 1098.0,1216.5 1099.0,1217.5 1100.0,1218.0 1101.0,1218.0 1102.0,1217.4 1103.0,1214.6 1104.0,1216.2 1105.0,1217.9 1106.0,1216.4 1107.0,1216.2 1108.0,1215.1 1109.0,1218.3 1110.0,1217.6 1111.0,1216.4 1112.0,1217.0 1113.0,1217.1 1114.0,1216.1 1115.0,1216.9 1116.0,1217.4 1117.0,1217.6 1118.0,1218.3 1119.0,1217.2 1120.0,1216.7 1121.0,1217.5 1122.0,1216.5 1123.0,1216.0 1124.0,1218.1 1125.0,1216.7 1126.0,1217.2 1127.0,1217.7 1128.0,1216.1 1129.0,1217.7 1130.0,1217.5 1131.0,1217.0 1132.0,1217.4 1133.0,1216.4 1134.0,1215.1 1135.0,1216.8 1136.0,1216.2 1137.0,1217.8 1138.0,1217.3 1139.0,1216.5 1140.0,1217.1 1141.0,1218.2 1142.0,1218.0 1143.0,1217.3 1144.0,1217.4 1145.0,1216.7 1146.0,1216.9 1147.0,1217.5 1148.0,1216.9 1149.0,1217.2 1150.0,1216.0 1151.0,1215.5 1152.0,1215.4 1153.0,1216.5 1154.0,1218.1 1155.0,1218.0 1156.0,1216.0 1157.0,1215.5 1158.0,1217.6 1159.0,1217.3 1160.0,1215.7 1161.0,1217.8 1162.0,1217.0 1163.0,1218.1 1164.0,1217.2 1165.0,1217.7 1166.0,1217.1 1167.0,1216.0 1168.0,1216.6 1169.0,1216.2 1170.0,1217.6 1171.0,1215.9 1172.0,1215.4 1173.0,1217.4 1174.0,1217.8 1175.0,1218.1 1176.0,1217.8 1177.0,1215.4 1178.0,1216.1 1179.0,1216.3 1180.0,1216.7 1181.0,1214.8 1182.0,1216.7 1183.0,1217.0 1184.0,1215.9 1185.0,1216.8 1186.0,1217.8 1187.0,1216.7 1188.0,1217.6 1189.0,1217.6 1190.0,1217.0 1191.0,1217.0 1192.0,1216.3 1193.0,1217.7 1194.0,1216.2 1195.0,1216.0 1196.0,1217.2 1197.0,1215.9 1198.0,1217.0 1199.0,1217.5 1200.0,1216.6 1201.0,1216.6 1202.0,1217.4 1203.0,1217.2 1204.0,1215.1 1205.0,1215.3" fill="none" stroke="#178017" stroke-width="8.5" stroke-linejoin="round" stroke-linecap="round"/>
<polyline points="249.0,1049.9 250.0,1050.0 251.0,1050.3 252.0,1050.1 253.0,1049.7 254.0,1050.0 255.0,1049.9 256.0,1050.0 257.0,1049.7 258.0,1050.0 259.0,1050.0 260.0,1050.3 261.0,1050.1 262.0,1050.1 263.0,1049.7 264.0,1050.5 265.0,1049.6 266.0,1050.2 267.0,1049.9 268.0,1049.8 269.0,1049.9 270.0,1049.9 271.0,1050.1 272.0,1050.0 273.0,1050.3 274.0,1049.6 275.0,1050.0 276.0,1049.8 277.0,1050.2 278.0,1049.6 279.0,1049.9 280.0,1050.0 281.0,1049.7 282.0,1050.2 283.0,1050.0 284.0,1050.2 285.0,1050.2 286.0,1049.8 287.0,1049.8 288.0,1050.0 289.0,1050.1 290.0,1050.2 291.0,1049.9 292.0,1049.9 293.0,1049.8 294.0,1049.9 295.0,1050.0 296.0,1050.0 297.0,1050.4 298.0,1049.9 299.0,1049.9 300.0,1050.1 301.0,1049.8 302.0,1049.9 303.0,1050.0 304.0,1050.2 305.0,1049.7 306.0,1050.3 307.0,1049.9 308.0,1050.0 309.0,1050.2 310.0,1050.1 311.0,1050.2 312.0,1050.0 313.0,1050.0 314.0,1050.1 315.0,1049.8 316.0,1050.2 317.0,1049.8 318.0,1049.7 319.0,1050.4 320.0,1050.0 321.0,1049.8 322.0,1050.4 323.0,1049.9 324.0,1050.2 325.0,1049.8 326.0,1050.0 327.0,1049.7 328.0,1049.6 329.0,1049.8 330.0,1050.0 331.0,1050.2 332.0,1050.5 333.0,1049.8 334.0,1050.2 335.0,1049.9 336.0,1050.0 337.0,1049.7 338.0,1049.7 339.0,1049.8 340.0,1049.8 341.0,1050.0 342.0,1049.9 343.0,1050.3 344.0,1050.0 345.0,1050.0 346.0,1050.2 347.0,1050.1 348.0,1050.0 349.0,1050.0 350.0,1050.0 351.0,1050.2 352.0,1050.2 353.0,1050.1 354.0,1050.2 355.0,1049.9 356.0,1050.1 357.0,1049.7 358.0,1050.3 359.0,1050.0 360.0,1050.0 361.0,1050.1 362.0,1050.0 363.0,1049.9 364.0,1050.2 365.0,1050.0 366.0,1049.8 367.0,1050.1 368.0,1049.7 369.0,1050.3 370.0,1050.0 371.0,1050.0 372.0,1050.5 373.0,1050.4 374.0,1050.0 375.0,1050.1 376.0,1050.2 377.0,1050.3 378.0,1050.0 379.0,1050.0 380.0,1050.2 381.0,1050.1 382.0,1050.2 383.0,1050.1 384.0,1049.8 385.0,1049.8 386.0,1049.5 387.0,1049.9 388.0,1050.3 389.0,1049.8 390.0,1050.2 391.0,1050.2 392.0,1050.0 393.0,1050.0 394.0,1050.0 395.0,1049.8 396.0,1049.9 397.0,1050.0 398.0,1050.1 399.0,1050.2 400.0,1049.9 401.0,1050.2 402.0,1049.8 403.0,1050.0 404.0,1050.1 405.0,1050.0 406.0,1050.0 407.0,1050.1 408.0,1049.9 409.0,1049.9 410.0,1050.0 411.0,1050.2 412.0,1050.0 413.0,1050.4 414.0,1050.0 415.0,1049.4 416.0,1049.9 417.0,1050.3 418.0,1050.0 419.0,1049.9 420.0,1049.8 421.0,1050.3 422.0,1050.2 423.0,1050.1 424.0,1050.1 425.0,1050.3 426.0,1050.2 427.0,1049.8 428.0,1050.2 429.0,1050.0 430.0,1050.0 431.0,1050.2 432.0,1050.0 433.0,1049.4 434.0,1050.3 435.0,1050.2 436.0,1050.0 437.0,1049.9 438.0,1050.0 439.0,1049.7 440.0,1050.1 441.0,1050.0 442.0,1049.9 443.0,1049.8 444.0,1049.9 445.0,1050.2 446.0,1050.3 447.0,1050.1 448.0,1050.0 449.0,1049.8 450.0,1050.1 451.0,1050.3 452.0,1049.7 453.0,1050.2 454.0,1049.6 455.0,1049.9 456.0,1050.1 457.0,1049.7 458.0,1049.7 459.0,1050.0 460.0,1050.2 461.0,1049.9 462.0,1050.3 463.0,1049.8 464.0,1050.4 465.0,1050.0 466.0,1050.0 467.0,1050.1 468.0,1050.1 469.0,1050.4 470.0,1050.4 471.0,1050.1 472.0,1050.0 473.0,1049.8 474.0,1049.8 475.0,1050.0 476.0,1050.0 477.0,1050.0 478.0,1050.0 479.0,1050.1 480.0,1049.7 481.0,1049.8 482.0,1050.2 483.0,1050.2 484.0,1049.9 485.0,1050.3 486.0,1049.9 487.0,1049.9 488.0,1049.6 489.0,1050.1 490.0,1050.0 491.0,1050.2 492.0,1050.1 493.0,1050.0 494.0,1050.0 495.0,1050.2 496.0,1049.9 497.0,1049.9 498.0,1049.9 499.0,1050.1 500.0,1050.1 501.0,1050.3 502.0,1049.9 503.0,1050.1 504.0,1049.7 505.0,1050.0 506.0,1049.8 507.0,1050.2 508.0,1049.9 509.0,1049.7 510.0,1049.9 511.0,1049.8 512.0,1049.7 513.0,1049.6 514.0,1049.5 515.0,1050.2 516.0,1049.7 517.0,1049.8 518.0,1049.4 519.0,1049.4 520.0,1049.5 521.0,1049.5 522.0,1049.7 523.0,1049.3 524.0,1049.6 525.0,1049.8 526.0,1049.3 527.0,1049.6 528.0,1049.2 529.0,1049.4 530.0,1049.4 531.0,1049.7 532.0,1049.2 533.0,1049.3 534.0,1049.5 535.0,1049.0 536.0,1049.2 537.0,1049.0 538.0,1049.0 539.0,1049.3 540.0,1049.2 541.0,1049.6 542.0,1049.3 543.0,1049.3 544.0,1049.0 545.0,1048.9 546.0,1049.0 547.0,1048.4 548.0,1049.2 549.0,1048.7 550.0,1048.6 551.0,1048.7 552.0,1048.9 553.0,1049.0 554.0,1048.6 555.0,1048.7 556.0,1048.6 557.0,1048.4 558.0,1048.6 559.0,1048.5 560.0,1048.2 561.0,1048.7 562.0,1048.1 563.0,1048.5 564.0,1048.2 565.0,1048.2 566.0,1048.1 567.0,1048.4 568.0,1048.0 569.0,1048.1 570.0,1048.4 571.0,1047.9 572.0,1048.0 573.0,1048.1 574.0,1047.8 575.0,1047.9 576.0,1047.7 577.0,1047.9 578.0,1047.7 579.0,1047.4 580.0,1047.8 581.0,1047.5 582.0,1047.4 583.0,1047.2 584.0,1047.2 585.0,1047.2 586.0,1047.2 587.0,1047.3 588.0,1046.7 589.0,1046.9 590.0,1047.1 591.0,1046.8 592.0,1046.8 593.0,1046.9 594.0,1046.6 595.0,1046.5 596.0,1046.3 597.0,1046.6 598.0,1046.4 599.0,1045.9 600.0,1046.1 601.0,1045.7 602.0,1046.0 603.0,1045.8 604.0,1045.6 605.0,1045.4 606.0,1045.0 607.0,1045.4 608.0,1045.1 609.0,1044.9 610.0,1045.0 611.0,1044.6 612.0,1044.5 613.0,1044.3 614.0,1044.0 615.0,1044.6 616.0,1044.0 617.0,1043.8 618.0,1043.9 619.0,1042.9 620.0,1043.3 621.0,1043.2 622.0,1042.8 623.0,1042.9 624.0,1042.2 625.0,1042.5 626.0,1042.4 627.0,1041.6 628.0,1041.6 629.0,1041.6 630.0,1041.5 631.0,1041.1 632.0,1041.1 633.0,1040.9 634.0,1040.3 635.0,1040.4 636.0,1039.9 637.0,1039.5 638.0,1039.2 639.0,1039.7 640.0,1039.2 641.0,1039.4 642.0,1038.5 643.0,1038.5 644.0,1038.4 645.0,1038.0 646.0,1037.9 647.0,1037.6 648.0,1037.2 649.0,1036.5 650.0,1036.5 651.0,1036.8 652.0,1036.3 653.0,1036.1 654.0,1035.3 655.0,1035.1 656.0,1034.6 657.0,1034.5 658.0,1034.0 659.0,1033.7 660.0,1033.6 661.0,1032.7 662.0,1032.6 663.0,1031.7 664.0,1031.8 665.0,1031.1 666.0,1030.7 667.0,1030.3 668.0,1030.2 669.0,1029.4 670.0,1028.9 671.0,1028.3 672.0,1028.1 673.0,1027.5 674.0,1027.1 675.0,1026.7 676.0,1026.4 677.0,1025.6 678.0,1025.4 679.0,1025.1 680.0,1023.9 681.0,1024.0 682.0,1023.6 683.0,1022.5 684.0,1022.1 685.0,1021.1 686.0,1020.8 687.0,1020.1 688.0,1019.5 689.0,1018.6 690.0,1017.9 691.0,1017.2 692.0,1016.4 693.0,1015.6 694.0,1014.7 695.0,1013.6 696.0,1012.8 697.0,1012.0 698.0,1010.3 699.0,1009.7 700.0,1008.4 701.0,1007.2 702.0,1006.0 703.0,1004.8 704.0,1003.6 705.0,1002.5 706.0,1000.8 707.0,999.9 708.0,998.0 709.0,996.8 710.0,995.3 711.0,993.2 712.0,992.0 713.0,990.4 714.0,988.1 715.0,986.5 716.0,984.5 717.0,982.6 718.0,980.6 719.0,978.4 720.0,976.4 721.0,974.2 722.0,971.7 723.0,969.5 724.0,967.0 725.0,964.4 726.0,961.5 727.0,959.4 728.0,956.7 729.0,953.3 730.0,950.9 731.0,948.3 732.0,945.8 733.0,943.0 734.0,939.8 735.0,937.0 736.0,934.0 737.0,930.6 738.0,927.8 739.0,924.4 740.0,921.1 741.0,917.7 742.0,913.7 743.0,909.9 744.0,906.2 745.0,902.2 746.0,898.1 747.0,894.5 748.0,890.6 749.0,886.9 750.0,883.6 751.0,880.1 752.0,876.7 753.0,873.7 754.0,870.5 755.0,867.7 756.0,865.0 757.0,862.4 758.0,860.3 759.0,857.9 760.0,856.3 761.0,854.8 762.0,854.2 763.0,853.4 764.0,852.9 765.0,852.9 766.0,853.0 767.0,853.1 768.0,853.4 769.0,854.3 770.0,855.0 771.0,856.1 772.0,858.0 773.0,860.1 774.0,862.4 775.0,865.2 776.0,867.4 777.0,870.2 778.0,873.5 779.0,876.5 780.0,879.8 781.0,883.3 782.0,887.2 783.0,890.8 784.0,894.5 785.0,898.2 786.0,902.1 787.0,906.6 788.0,910.4 789.0,915.0 790.0,919.3 791.0,924.0 792.0,928.9 793.0,934.3 794.0,938.7 795.0,944.7 796.0,949.4 797.0,954.5 798.0,959.2 799.0,963.4 800.0,968.1 801.0,972.6 802.0,976.7 803.0,980.7 804.0,984.7 805.0,988.2 806.0,991.3 807.0,995.1 808.0,998.1 809.0,1000.6 810.0,1003.9 811.0,1007.2 812.0,1009.9 813.0,1012.1 814.0,1014.1 815.0,1016.5 816.0,1018.7 817.0,1020.4 818.0,1022.0 819.0,1023.7 820.0,1025.7 821.0,1027.0 822.0,1028.7 823.0,1030.1 824.0,1031.7 825.0,1032.7 826.0,1033.8 827.0,1034.5 828.0,1036.0 829.0,1036.7 830.0,1037.2 831.0,1037.5 832.0,1038.5 833.0,1039.3 834.0,1040.3 835.0,1040.6 836.0,1041.2 837.0,1041.7 838.0,1042.3 839.0,1042.3 840.0,1042.9 841.0,1043.2 842.0,1043.8 843.0,1044.2 844.0,1044.6 845.0,1044.7 846.0,1045.2 847.0,1045.3 848.0,1046.1 849.0,1045.8 850.0,1046.6 851.0,1046.6 852.0,1046.2 853.0,1046.8 854.0,1046.9 855.0,1046.7 856.0,1047.2 857.0,1047.2 858.0,1047.4 859.0,1047.3 860.0,1047.6 861.0,1047.8 862.0,1047.8 863.0,1047.8 864.0,1048.0 865.0,1047.9 866.0,1048.3 867.0,1047.8 868.0,1048.7 869.0,1048.5 870.0,1048.6 871.0,1048.7 872.0,1048.4 873.0,1049.1 874.0,1048.5 875.0,1048.9 876.0,1048.9 877.0,1049.2 878.0,1049.0 879.0,1048.7 880.0,1049.1 881.0,1048.6 882.0,1049.1 883.0,1049.1 884.0,1049.6 885.0,1049.3 886.0,1049.3 887.0,1049.3 888.0,1049.3 889.0,1049.4 890.0,1049.7 891.0,1049.3 892.0,1049.6 893.0,1049.4 894.0,1049.7 895.0,1049.8 896.0,1049.5 897.0,1049.7 898.0,1049.8 899.0,1050.0 900.0,1050.1 901.0,1049.9 902.0,1049.7 903.0,1049.6 904.0,1050.1 905.0,1050.2 906.0,1050.0 907.0,1050.3 908.0,1049.9 909.0,1049.9 910.0,1050.3 911.0,1049.8 912.0,1050.1 913.0,1050.1 914.0,1050.1 915.0,1050.4 916.0,1049.9 917.0,1050.0 918.0,1049.6 919.0,1049.9 920.0,1050.0 921.0,1050.0 922.0,1050.0 923.0,1050.1 924.0,1050.0 925.0,1049.7 926.0,1050.1 927.0,1050.2 928.0,1049.9 929.0,1050.0 930.0,1050.5 931.0,1050.3 932.0,1050.4 933.0,1050.3 934.0,1050.2 935.0,1050.1 936.0,1050.3 937.0,1050.1 938.0,1050.1 939.0,1050.2 940.0,1050.2 941.0,1050.4 942.0,1050.0 943.0,1050.7 944.0,1050.0 945.0,1050.1 946.0,1050.4 947.0,1050.1 948.0,1050.1 949.0,1050.2 950.0,1049.6 951.0,1050.1 952.0,1050.1 953.0,1050.2 954.0,1050.4 955.0,1050.4 956.0,1050.6 957.0,1050.6 958.0,1050.5 959.0,1050.3 960.0,1050.5 961.0,1050.1 962.0,1050.3 963.0,1050.6 964.0,1050.5 965.0,1050.0 966.0,1050.2 967.0,1050.5 968.0,1050.5 969.0,1050.6 970.0,1050.0 971.0,1050.1 972.0,1050.3 973.0,1050.2 974.0,1050.4 975.0,1050.4 976.0,1050.4 977.0,1050.3 978.0,1050.5 979.0,1050.5 980.0,1050.4 981.0,1050.1 982.0,1050.7 983.0,1050.4 984.0,1050.5 985.0,1050.4 986.0,1050.1 987.0,1050.5 988.0,1050.3 989.0,1050.2 990.0,1050.7 991.0,1050.4 992.0,1050.5 993.0,1050.6 994.0,1050.8 995.0,1050.1 996.0,1050.3 997.0,1050.6 998.0,1050.3 999.0,1049.8 1000.0,1050.5 1001.0,1050.5 1002.0,1050.6 1003.0,1050.5 1004.0,1050.4 1005.0,1050.5 1006.0,1050.5 1007.0,1050.4 1008.0,1050.5 1009.0,1050.6 1010.0,1050.3 1011.0,1050.7 1012.0,1050.7 1013.0,1050.7 1014.0,1050.0 1015.0,1050.5 1016.0,1050.5 1017.0,1050.3 1018.0,1050.6 1019.0,1050.2 1020.0,1050.8 1021.0,1050.6 1022.0,1050.4 1023.0,1050.8 1024.0,1050.6 1025.0,1050.6 1026.0,1050.3 1027.0,1050.7 1028.0,1050.8 1029.0,1050.8 1030.0,1050.3 1031.0,1050.9 1032.0,1050.9 1033.0,1050.7 1034.0,1050.5 1035.0,1050.3 1036.0,1050.4 1037.0,1050.5 1038.0,1050.6 1039.0,1050.7 1040.0,1050.4 1041.0,1050.3 1042.0,1050.5 1043.0,1050.3 1044.0,1050.9 1045.0,1050.4 1046.0,1050.7 1047.0,1050.8 1048.0,1050.4 1049.0,1050.8 1050.0,1050.6 1051.0,1050.5 1052.0,1050.4 1053.0,1050.6 1054.0,1050.8 1055.0,1050.2 1056.0,1050.8 1057.0,1050.6 1058.0,1050.5 1059.0,1050.6 1060.0,1050.6 1061.0,1050.6 1062.0,1050.8 1063.0,1050.5 1064.0,1051.0 1065.0,1050.8 1066.0,1050.5 1067.0,1050.3 1068.0,1050.7 1069.0,1050.6 1070.0,1050.8 1071.0,1050.8 1072.0,1051.1 1073.0,1050.6 1074.0,1050.8 1075.0,1050.6 1076.0,1050.6 1077.0,1051.0 1078.0,1050.7 1079.0,1050.7 1080.0,1050.6 1081.0,1050.8 1082.0,1050.8 1083.0,1050.7 1084.0,1050.5 1085.0,1050.8 1086.0,1050.5 1087.0,1050.6 1088.0,1050.7 1089.0,1050.8 1090.0,1050.2 1091.0,1051.1 1092.0,1050.9 1093.0,1051.1 1094.0,1051.2 1095.0,1050.5 1096.0,1050.6 1097.0,1050.8 1098.0,1050.9 1099.0,1050.6 1100.0,1050.7 1101.0,1050.9 1102.0,1050.5 1103.0,1050.8 1104.0,1050.9 1105.0,1050.7 1106.0,1050.9 1107.0,1050.7 1108.0,1050.4 1109.0,1050.6 1110.0,1050.7 1111.0,1050.7 1112.0,1050.7 1113.0,1050.8 1114.0,1050.8 1115.0,1050.8 1116.0,1050.6 1117.0,1050.7 1118.0,1050.7 1119.0,1050.6 1120.0,1051.0 1121.0,1050.4 1122.0,1050.8 1123.0,1050.4 1124.0,1050.6 1125.0,1050.9 1126.0,1050.7 1127.0,1051.0 1128.0,1050.5 1129.0,1050.7 1130.0,1050.6 1131.0,1050.7 1132.0,1050.7 1133.0,1050.7 1134.0,1050.8 1135.0,1051.0 1136.0,1050.8 1137.0,1050.7 1138.0,1050.7 1139.0,1050.6 1140.0,1050.4 1141.0,1050.5 1142.0,1050.7 1143.0,1050.3 1144.0,1050.9 1145.0,1050.6 1146.0,1050.5 1147.0,1050.6 1148.0,1050.9 1149.0,1050.8 1150.0,1050.8 1151.0,1051.1 1152.0,1051.2 1153.0,1050.5 1154.0,1050.9 1155.0,1050.6 1156.0,1050.5 1157.0,1050.6 1158.0,1051.0 1159.0,1050.7 1160.0,1050.7 1161.0,1051.1 1162.0,1050.9 1163.0,1050.8 1164.0,1051.1 1165.0,1050.9 1166.0,1050.6 1167.0,1050.6 1168.0,1050.7 1169.0,1050.8 1170.0,1051.0 1171.0,1051.0 1172.0,1050.8 1173.0,1050.6 1174.0,1051.0 1175.0,1050.8 1176.0,1050.6 1177.0,1050.5 1178.0,1050.8 1179.0,1050.9 1180.0,1051.0 1181.0,1050.5 1182.0,1051.2 1183.0,1050.4 1184.0,1050.8 1185.0,1051.1 1186.0,1051.0 1187.0,1050.6 1188.0,1050.9 1189.0,1051.0 1190.0,1050.9 1191.0,1050.6 1192.0,1051.1 1193.0,1050.5 1194.0,1050.8 1195.0,1050.6 1196.0,1050.7 1197.0,1050.7 1198.0,1050.9 1199.0,1050.5 1200.0,1050.8 1201.0,1051.0 1202.0,1050.8 1203.0,1050.9 1204.0,1050.9 1205.0,1050.6" fill="none" stroke="#0000EE" stroke-width="8.5" stroke-linejoin="round" stroke-linecap="round"/>
<polyline points="249.0,880.7 250.0,880.6 251.0,880.9 252.0,881.0 253.0,881.1 254.0,880.9 255.0,880.8 256.0,880.7 257.0,881.0 258.0,881.2 259.0,881.0 260.0,880.7 261.0,880.7 262.0,881.2 263.0,880.9 264.0,880.6 265.0,880.9 266.0,880.7 267.0,880.8 268.0,880.8 269.0,880.8 270.0,881.0 271.0,880.9 272.0,880.8 273.0,881.0 274.0,881.1 275.0,880.6 276.0,880.8 277.0,880.7 278.0,880.9 279.0,880.6 280.0,880.9 281.0,880.9 282.0,880.8 283.0,880.7 284.0,880.8 285.0,880.7 286.0,880.6 287.0,880.9 288.0,880.7 289.0,881.1 290.0,881.0 291.0,880.5 292.0,881.0 293.0,880.7 294.0,880.9 295.0,880.9 296.0,880.5 297.0,880.9 298.0,880.8 299.0,881.1 300.0,880.7 301.0,881.0 302.0,880.7 303.0,880.8 304.0,880.7 305.0,881.2 306.0,881.0 307.0,881.4 308.0,881.0 309.0,881.1 310.0,881.1 311.0,880.8 312.0,880.9 313.0,881.2 314.0,880.8 315.0,880.9 316.0,880.9 317.0,881.0 318.0,880.8 319.0,880.9 320.0,880.9 321.0,880.9 322.0,880.7 323.0,881.1 324.0,880.6 325.0,880.7 326.0,880.6 327.0,881.1 328.0,880.8 329.0,880.7 330.0,880.7 331.0,881.0 332.0,880.7 333.0,880.6 334.0,881.0 335.0,880.7 336.0,880.8 337.0,880.9 338.0,880.8 339.0,880.9 340.0,881.2 341.0,880.8 342.0,880.6 343.0,880.5 344.0,880.9 345.0,880.8 346.0,881.0 347.0,880.8 348.0,880.8 349.0,880.8 350.0,880.8 351.0,880.9 352.0,880.8 353.0,880.9 354.0,881.3 355.0,881.0 356.0,880.6 357.0,881.2 358.0,881.0 359.0,880.7 360.0,881.1 361.0,880.9 362.0,880.8 363.0,880.8 364.0,880.7 365.0,880.9 366.0,881.1 367.0,880.8 368.0,881.0 369.0,881.3 370.0,880.7 371.0,881.0 372.0,880.8 373.0,880.7 374.0,880.7 375.0,880.9 376.0,881.0 377.0,880.8 378.0,880.9 379.0,881.0 380.0,881.0 381.0,881.1 382.0,881.0 383.0,881.0 384.0,881.3 385.0,881.0 386.0,880.9 387.0,881.0 388.0,880.7 389.0,880.8 390.0,881.1 391.0,881.0 392.0,881.2 393.0,880.9 394.0,880.6 395.0,881.3 396.0,881.1 397.0,880.7 398.0,881.2 399.0,880.9 400.0,880.5 401.0,880.8 402.0,880.8 403.0,881.2 404.0,880.7 405.0,880.8 406.0,880.8 407.0,880.8 408.0,880.7 409.0,880.9 410.0,881.1 411.0,881.0 412.0,880.7 413.0,880.7 414.0,880.9 415.0,880.8 416.0,880.8 417.0,880.6 418.0,881.3 419.0,881.1 420.0,880.7 421.0,881.1 422.0,881.2 423.0,880.4 424.0,880.8 425.0,880.8 426.0,881.0 427.0,880.9 428.0,880.9 429.0,880.9 430.0,881.3 431.0,881.3 432.0,880.8 433.0,880.7 434.0,881.4 435.0,880.7 436.0,880.8 437.0,880.9 438.0,881.0 439.0,881.1 440.0,881.0 441.0,880.7 442.0,881.0 443.0,880.9 444.0,881.3 445.0,880.9 446.0,880.6 447.0,880.7 448.0,881.2 449.0,880.8 450.0,880.5 451.0,880.8 452.0,880.9 453.0,881.1 454.0,880.7 455.0,881.0 456.0,881.0 457.0,880.7 458.0,880.8 459.0,881.2 460.0,881.2 461.0,881.1 462.0,880.9 463.0,881.1 464.0,880.8 465.0,880.9 466.0,880.7 467.0,880.9 468.0,880.9 469.0,881.4 470.0,880.8 471.0,881.1 472.0,881.1 473.0,880.8 474.0,881.1 475.0,880.4 476.0,880.9 477.0,881.0 478.0,880.4 479.0,880.6 480.0,881.0 481.0,880.8 482.0,880.6 483.0,880.7 484.0,880.7 485.0,881.0 486.0,880.9 487.0,880.8 488.0,880.7 489.0,880.8 490.0,881.1 491.0,880.9 492.0,880.9 493.0,880.8 494.0,880.5 495.0,880.6 496.0,880.9 497.0,880.8 498.0,880.6 499.0,880.4 500.0,880.8 501.0,880.7 502.0,880.7 503.0,880.7 504.0,880.8 505.0,880.8 506.0,880.9 507.0,880.9 508.0,881.0 509.0,880.9 510.0,880.6 511.0,880.7 512.0,880.8 513.0,880.6 514.0,880.8 515.0,880.9 516.0,880.5 517.0,880.3 518.0,880.9 519.0,880.6 520.0,880.8 521.0,880.4 522.0,881.0 523.0,880.8 524.0,880.6 525.0,880.5 526.0,880.6 527.0,880.5 528.0,880.5 529.0,880.3 530.0,880.8 531.0,880.5 532.0,880.6 533.0,880.6 534.0,880.1 535.0,880.6 536.0,880.4 537.0,880.4 538.0,880.5 539.0,880.3 540.0,880.6 541.0,880.3 542.0,880.3 543.0,880.3 544.0,880.5 545.0,880.6 546.0,880.3 547.0,880.1 548.0,880.6 549.0,880.2 550.0,880.6 551.0,880.4 552.0,880.2 553.0,880.2 554.0,880.4 555.0,880.5 556.0,880.3 557.0,880.5 558.0,880.7 559.0,880.2 560.0,880.1 561.0,880.1 562.0,880.0 563.0,880.1 564.0,880.1 565.0,880.0 566.0,880.3 567.0,879.7 568.0,879.9 569.0,880.6 570.0,880.4 571.0,880.2 572.0,880.2 573.0,880.4 574.0,880.2 575.0,880.1 576.0,879.8 577.0,880.0 578.0,879.8 579.0,879.8 580.0,879.7 581.0,879.8 582.0,879.7 583.0,879.9 584.0,879.4 585.0,879.6 586.0,879.9 587.0,879.5 588.0,879.7 589.0,879.6 590.0,879.6 591.0,879.4 592.0,878.9 593.0,879.1 594.0,879.0 595.0,878.7 596.0,878.9 597.0,878.6 598.0,878.5 599.0,878.8 600.0,878.7 601.0,878.5 602.0,878.3 603.0,878.3 604.0,878.3 605.0,878.2 606.0,878.2 607.0,878.0 608.0,878.1 609.0,878.1 610.0,878.0 611.0,877.7 612.0,877.6 613.0,877.7 614.0,877.5 615.0,877.5 616.0,876.9 617.0,876.8 618.0,877.3 619.0,877.2 620.0,877.3 621.0,877.1 622.0,876.9 623.0,876.8 624.0,876.4 625.0,876.8 626.0,876.4 627.0,876.5 628.0,876.4 629.0,876.3 630.0,876.3 631.0,875.9 632.0,875.8 633.0,875.6 634.0,875.6 635.0,875.9 636.0,875.4 637.0,875.5 638.0,875.4 639.0,875.2 640.0,875.1 641.0,874.6 642.0,874.7 643.0,874.8 644.0,874.3 645.0,874.2 646.0,874.0 647.0,874.0 648.0,873.6 649.0,874.0 650.0,873.5 651.0,873.1 652.0,873.6 653.0,873.3 654.0,873.0 655.0,872.9 656.0,872.6 657.0,872.4 658.0,872.5 659.0,872.3 660.0,872.2 661.0,871.9 662.0,871.6 663.0,871.5 664.0,871.6 665.0,871.5 666.0,871.0 667.0,870.8 668.0,871.0 669.0,870.7 670.0,870.5 671.0,870.0 672.0,870.0 673.0,869.8 674.0,869.8 675.0,869.2 676.0,869.7 677.0,869.3 678.0,869.1 679.0,868.6 680.0,868.7 681.0,868.8 682.0,868.0 683.0,868.2 684.0,868.0 685.0,867.5 686.0,867.6 687.0,867.2 688.0,867.2 689.0,866.9 690.0,866.5 691.0,866.6 692.0,866.1 693.0,865.9 694.0,865.1 695.0,864.9 696.0,864.9 697.0,864.6 698.0,864.0 699.0,863.9 700.0,863.1 701.0,863.0 702.0,862.3 703.0,862.2 704.0,861.6 705.0,861.2 706.0,860.9 707.0,860.8 708.0,859.8 709.0,859.4 710.0,859.3 711.0,858.4 712.0,858.2 713.0,857.3 714.0,856.6 715.0,855.9 716.0,855.5 717.0,854.7 718.0,854.0 719.0,853.4 719.8,852.6 720.0,852.6 720.2,853.0 720.5,852.7 720.9,852.4 721.0,852.4 721.3,852.0 721.7,851.9 722.0,851.3 722.0,851.4 722.4,850.6 722.8,849.8 723.0,849.3 723.2,848.6 723.5,847.1 723.9,845.1 724.0,844.7 724.3,843.1 724.7,840.4 725.0,838.7 725.0,838.9 725.4,837.7 725.8,837.4 726.0,837.3 726.2,837.5 726.5,838.3 726.9,840.4 727.0,840.8 727.3,842.0 727.7,844.1 728.0,845.8 728.0,846.1 728.4,846.9 728.8,848.6 729.0,849.1 729.2,849.3 729.5,849.8 729.9,850.1 730.0,849.8 730.3,850.2 730.7,850.1 731.0,849.9 731.0,850.2 731.4,850.4 732.0,849.7 733.0,849.5 734.0,849.3 735.0,849.9 736.0,849.2 737.0,849.0 738.0,848.6 739.0,848.3 740.0,847.7 741.0,847.7 742.0,847.1 743.0,846.0 744.0,845.3 745.0,844.4 746.0,843.6 747.0,842.5 748.0,841.5 749.0,840.4 750.0,839.1 751.0,837.9 752.0,836.1 753.0,834.9 754.0,834.0 755.0,832.4 756.0,830.9 757.0,829.0 758.0,827.4 759.0,826.2 760.0,824.4 761.0,822.5 762.0,820.7 763.0,818.6 764.0,817.1 765.0,815.4 766.0,813.6 767.0,811.3 768.0,809.3 769.0,807.2 770.0,805.6 771.0,803.6 772.0,801.0 773.0,799.0 774.0,796.7 775.0,794.4 776.0,791.7 777.0,789.7 778.0,787.5 779.0,784.7 780.0,782.3 781.0,779.2 782.0,777.5 783.0,774.6 784.0,771.8 785.0,768.9 786.0,765.9 787.0,763.0 788.0,759.9 789.0,756.8 790.0,753.7 791.0,750.4 792.0,747.3 793.0,743.1 794.0,739.8 795.0,735.8 796.0,732.0 797.0,728.0 798.0,724.8 799.0,720.8 800.0,716.9 801.0,713.1 802.0,708.8 803.0,705.1 804.0,701.4 805.0,698.1 806.0,695.2 807.0,692.1 808.0,690.0 809.0,687.8 810.0,686.3 811.0,685.0 812.0,684.2 813.0,683.6 814.0,684.2 815.0,685.0 816.0,685.5 817.0,686.9 818.0,687.6 819.0,689.4 820.0,691.3 821.0,693.4 822.0,696.2 823.0,699.9 824.0,704.1 825.0,708.4 826.0,713.4 827.0,718.1 828.0,722.0 829.0,727.3 830.0,732.2 831.0,737.3 832.0,743.0 833.0,747.9 834.0,752.8 835.0,757.7 836.0,762.2 837.0,767.7 838.0,772.3 839.0,777.4 840.0,782.3 841.0,787.5 842.0,792.9 843.0,798.0 844.0,803.4 845.0,808.3 846.0,813.4 847.0,817.9 848.0,821.5 849.0,826.1 850.0,829.4 851.0,832.9 852.0,836.8 853.0,840.1 854.0,842.3 855.0,844.8 856.0,847.8 857.0,849.3 858.0,850.8 859.0,853.0 860.0,855.3 861.0,856.7 862.0,858.2 863.0,859.7 864.0,860.8 865.0,861.7 866.0,862.5 867.0,863.8 868.0,864.3 869.0,865.4 870.0,866.5 871.0,867.0 872.0,867.7 873.0,868.4 874.0,869.1 875.0,869.8 876.0,869.9 877.0,870.8 878.0,871.6 879.0,871.9 880.0,872.0 881.0,872.4 882.0,872.5 883.0,873.0 884.0,873.8 885.0,873.8 886.0,873.9 887.0,874.3 888.0,874.6 889.0,874.9 890.0,875.1 891.0,875.3 892.0,875.8 893.0,876.3 894.0,876.1 895.0,876.3 896.0,876.9 897.0,876.6 898.0,877.0 899.0,877.3 900.0,877.6 901.0,877.7 902.0,877.8 903.0,878.2 904.0,878.1 905.0,878.1 906.0,878.2 907.0,878.9 908.0,878.6 909.0,879.2 910.0,879.3 911.0,879.5 912.0,879.4 913.0,879.4 914.0,879.6 915.0,879.6 916.0,879.5 917.0,880.1 918.0,879.7 919.0,880.2 920.0,880.0 921.0,879.8 922.0,880.0 923.0,880.2 924.0,879.7 925.0,879.8 926.0,879.8 927.0,880.0 928.0,880.1 929.0,880.0 930.0,879.9 931.0,880.0 932.0,880.3 933.0,880.3 934.0,880.1 935.0,879.9 936.0,880.3 937.0,880.2 938.0,880.2 939.0,880.5 940.0,880.3 941.0,880.0 942.0,880.0 943.0,880.5 944.0,880.3 945.0,880.4 946.0,880.2 947.0,880.1 948.0,880.3 949.0,880.6 950.0,880.4 951.0,880.1 952.0,880.2 953.0,880.2 954.0,880.4 955.0,880.5 956.0,880.7 957.0,880.4 958.0,880.3 959.0,880.4 960.0,880.4 961.0,880.3 962.0,880.4 963.0,880.4 964.0,880.2 965.0,880.5 966.0,880.3 967.0,880.2 968.0,880.5 969.0,880.3 970.0,880.8 971.0,880.5 972.0,880.5 973.0,880.3 974.0,880.4 975.0,880.6 976.0,880.3 977.0,880.6 978.0,880.1 979.0,880.5 980.0,880.6 981.0,880.6 982.0,880.5 983.0,880.7 984.0,880.3 985.0,880.3 986.0,880.5 987.0,880.7 988.0,880.6 989.0,880.5 990.0,880.6 991.0,880.6 992.0,880.3 993.0,879.9 994.0,880.3 995.0,880.2 996.0,880.4 997.0,880.3 998.0,880.3 999.0,880.6 1000.0,880.5 1001.0,880.5 1002.0,880.8 1003.0,880.4 1004.0,880.4 1005.0,880.8 1006.0,880.3 1007.0,880.2 1008.0,880.8 1009.0,880.6 1010.0,880.6 1011.0,880.6 1012.0,880.7 1013.0,880.4 1014.0,880.5 1015.0,880.3 1016.0,880.5 1017.0,880.6 1018.0,880.4 1019.0,880.7 1020.0,881.1 1021.0,880.3 1022.0,880.7 1023.0,880.7 1024.0,880.7 1025.0,880.4 1026.0,880.8 1027.0,880.7 1028.0,880.5 1029.0,880.5 1030.0,880.6 1031.0,880.7 1032.0,880.7 1033.0,881.0 1034.0,880.5 1035.0,880.7 1036.0,880.4 1037.0,880.7 1038.0,880.6 1039.0,880.4 1040.0,880.3 1041.0,880.4 1042.0,880.6 1043.0,880.8 1044.0,880.7 1045.0,880.3 1046.0,880.4 1047.0,880.5 1048.0,880.5 1049.0,880.5 1050.0,880.7 1051.0,880.6 1052.0,880.4 1053.0,880.1 1054.0,880.4 1055.0,880.2 1056.0,880.5 1057.0,880.6 1058.0,880.2 1059.0,880.5 1060.0,880.4 1061.0,880.9 1062.0,880.6 1063.0,880.1 1064.0,880.6 1065.0,880.6 1066.0,880.5 1067.0,880.4 1068.0,880.6 1069.0,880.6 1070.0,880.6 1071.0,880.3 1072.0,880.4 1073.0,880.2 1074.0,880.2 1075.0,880.4 1076.0,880.3 1077.0,880.4 1078.0,881.0 1079.0,880.6 1080.0,880.3 1081.0,880.0 1082.0,880.3 1083.0,880.2 1084.0,880.0 1085.0,880.6 1086.0,880.4 1087.0,880.6 1088.0,881.1 1089.0,880.5 1090.0,880.5 1091.0,880.5 1092.0,880.4 1093.0,880.3 1094.0,880.4 1095.0,880.7 1096.0,880.4 1097.0,880.2 1098.0,880.2 1099.0,880.3 1100.0,880.5 1101.0,880.6 1102.0,880.6 1103.0,880.7 1104.0,880.4 1105.0,880.6 1106.0,880.5 1107.0,880.6 1108.0,880.1 1109.0,880.7 1110.0,880.2 1111.0,880.3 1112.0,880.6 1113.0,880.4 1114.0,880.8 1115.0,880.5 1116.0,880.3 1117.0,880.5 1118.0,880.4 1119.0,880.8 1120.0,880.8 1121.0,880.6 1122.0,880.4 1123.0,880.5 1124.0,880.7 1125.0,880.3 1126.0,880.3 1127.0,880.7 1128.0,880.6 1129.0,880.5 1130.0,880.4 1131.0,880.1 1132.0,880.7 1133.0,880.5 1134.0,880.2 1135.0,880.3 1136.0,880.3 1137.0,880.8 1138.0,880.6 1139.0,880.2 1140.0,880.9 1141.0,880.8 1142.0,880.3 1143.0,880.0 1144.0,880.7 1145.0,880.4 1146.0,880.5 1147.0,880.4 1148.0,880.8 1149.0,880.8 1150.0,880.7 1151.0,880.5 1152.0,880.6 1153.0,880.6 1154.0,880.2 1155.0,880.7 1156.0,880.4 1157.0,880.6 1158.0,880.5 1159.0,880.7 1160.0,880.7 1161.0,880.9 1162.0,880.4 1163.0,880.3 1164.0,880.5 1165.0,880.4 1166.0,880.7 1167.0,880.3 1168.0,880.5 1169.0,880.7 1170.0,880.7 1171.0,880.5 1172.0,880.8 1173.0,880.8 1174.0,880.2 1175.0,880.6 1176.0,880.5 1177.0,880.4 1178.0,880.4 1179.0,880.5 1180.0,880.6 1181.0,880.6 1182.0,880.8 1183.0,880.7 1184.0,880.4 1185.0,880.4 1186.0,880.7 1187.0,880.4 1188.0,880.5 1189.0,880.6 1190.0,880.7 1191.0,880.6 1192.0,880.8 1193.0,880.4 1194.0,880.6 1195.0,880.4 1196.0,880.5 1197.0,880.5 1198.0,880.3 1199.0,880.0 1200.0,880.7 1201.0,880.6 1202.0,880.5 1203.0,880.4 1204.0,880.4 1205.0,880.6" fill="none" stroke="#8000FF" stroke-width="8.5" stroke-linejoin="round" stroke-linecap="round"/>
<polyline points="249.0,710.2 250.0,710.8 251.0,707.3 252.0,709.2 253.0,710.1 254.0,710.4 255.0,709.8 256.0,710.5 257.0,709.5 258.0,709.7 259.0,709.4 260.0,708.3 261.0,708.5 262.0,709.5 263.0,708.7 264.0,710.1 265.0,710.1 266.0,710.5 267.0,709.1 268.0,710.2 269.0,708.3 270.0,708.4 271.0,709.1 272.0,709.2 273.0,707.7 274.0,707.6 275.0,709.2 276.0,708.2 277.0,709.9 278.0,709.2 279.0,709.1 280.0,709.0 281.0,709.6 282.0,708.7 283.0,709.7 284.0,708.4 285.0,708.6 286.0,708.2 287.0,709.2 288.0,708.8 289.0,708.0 290.0,710.3 291.0,708.4 292.0,708.6 293.0,709.0 294.0,710.1 295.0,708.5 296.0,709.2 297.0,708.7 298.0,707.5 299.0,709.2 300.0,709.4 301.0,708.4 302.0,708.6 303.0,707.4 304.0,707.3 305.0,708.2 306.0,709.0 307.0,708.2 308.0,708.8 309.0,709.3 310.0,708.6 311.0,709.0 312.0,709.6 313.0,707.5 314.0,709.1 315.0,707.0 316.0,708.8 317.0,708.6 318.0,708.0 319.0,707.6 320.0,708.4 321.0,708.1 322.0,708.5 323.0,707.7 324.0,708.8 325.0,707.6 326.0,708.1 327.0,708.1 328.0,709.4 329.0,707.2 330.0,708.0 331.0,709.3 332.0,707.8 333.0,707.4 334.0,708.6 335.0,708.1 336.0,709.0 337.0,707.6 338.0,708.5 339.0,708.8 340.0,709.1 341.0,707.4 342.0,709.4 343.0,707.6 344.0,707.1 345.0,707.5 346.0,708.4 347.0,708.0 348.0,708.6 349.0,708.7 350.0,708.5 351.0,708.0 352.0,709.7 353.0,706.5 354.0,706.8 355.0,707.8 356.0,707.2 357.0,706.2 358.0,707.6 359.0,707.6 360.0,706.2 361.0,708.9 362.0,709.2 363.0,709.2 364.0,707.8 365.0,708.3 366.0,707.3 367.0,708.3 368.0,707.6 369.0,708.5 370.0,707.8 371.0,708.9 372.0,708.8 373.0,709.1 374.0,706.8 375.0,706.6 376.0,708.4 377.0,707.6 378.0,708.4 379.0,708.3 380.0,708.2 381.0,708.8 382.0,708.5 383.0,708.4 384.0,707.3 385.0,709.4 386.0,708.1 387.0,708.8 388.0,708.2 389.0,708.9 390.0,708.0 391.0,708.1 392.0,708.0 393.0,707.3 394.0,707.4 395.0,707.7 396.0,707.7 397.0,707.0 398.0,709.7 399.0,707.0 400.0,707.5 401.0,709.7 402.0,707.1 403.0,708.3 404.0,708.2 405.0,707.4 406.0,706.4 407.0,706.3 408.0,707.5 409.0,707.8 410.0,705.7 411.0,707.5 412.0,706.8 413.0,708.0 414.0,707.4 415.0,706.6 416.0,706.9 417.0,707.2 418.0,708.2 419.0,709.5 420.0,707.3 421.0,707.1 422.0,707.5 423.0,707.0 424.0,707.5 425.0,707.2 426.0,706.9 427.0,706.2 428.0,706.9 429.0,707.5 430.0,706.8 431.0,707.9 432.0,707.4 433.0,706.4 434.0,707.9 435.0,705.6 436.0,707.4 437.0,707.9 438.0,706.1 439.0,706.2 440.0,707.0 441.0,707.3 442.0,706.5 443.0,706.3 444.0,706.8 445.0,706.2 446.0,705.0 447.0,705.7 448.0,705.8 449.0,704.6 450.0,706.1 451.0,705.1 452.0,706.2 453.0,704.4 454.0,704.8 455.0,704.3 456.0,706.5 457.0,706.4 458.0,706.5 459.0,706.5 460.0,706.0 461.0,705.9 462.0,703.8 463.0,705.4 464.0,704.7 465.0,704.8 466.0,704.0 467.0,706.0 468.0,705.0 469.0,703.7 470.0,705.2 471.0,704.7 472.0,703.9 473.0,704.5 474.0,704.0 475.0,702.8 476.0,703.3 477.0,704.9 478.0,704.7 479.0,704.6 480.0,703.4 481.0,703.8 482.0,704.3 483.0,704.8 484.0,703.5 485.0,703.3 486.0,705.0 487.0,704.1 488.0,703.8 489.0,703.4 490.0,703.5 491.0,705.2 492.0,704.7 493.0,703.5 494.0,702.8 495.0,705.1 496.0,705.0 497.0,704.7 498.0,704.4 499.0,702.1 500.0,702.6 501.0,704.0 502.0,703.3 503.0,703.7 504.0,703.1 505.0,702.9 506.0,703.8 507.0,703.0 508.0,703.3 509.0,703.5 510.0,703.4 511.0,704.1 512.0,704.3 513.0,702.0 514.0,702.9 515.0,702.5 516.0,703.6 517.0,702.1 518.0,703.5 519.0,703.4 520.0,703.3 521.0,702.0 522.0,702.6 523.0,701.8 524.0,703.0 525.0,703.4 526.0,701.3 527.0,701.9 528.0,702.3 529.0,702.0 530.0,703.6 531.0,702.2 532.0,702.5 533.0,701.3 534.0,703.4 535.0,702.3 536.0,702.7 537.0,702.1 538.0,700.3 539.0,700.6 540.0,700.8 541.0,702.2 542.0,701.3 543.0,702.0 544.0,701.8 545.0,701.7 546.0,702.2 547.0,701.6 548.0,700.0 549.0,700.7 550.0,702.6 551.0,700.3 552.0,702.2 553.0,702.3 554.0,700.5 555.0,701.2 556.0,699.7 557.0,701.3 558.0,700.0 559.0,699.5 560.0,700.2 561.0,700.1 562.0,699.9 563.0,700.4 564.0,700.0 565.0,699.5 566.0,700.7 567.0,701.7 568.0,699.7 569.0,699.0 570.0,698.6 571.0,699.7 572.0,698.9 573.0,699.0 574.0,697.2 575.0,697.7 576.0,697.5 577.0,699.1 578.0,697.9 579.0,696.0 580.0,698.2 581.0,698.5 582.0,698.5 583.0,695.0 584.0,697.2 585.0,697.5 586.0,697.2 587.0,696.3 588.0,694.9 589.0,695.8 590.0,695.7 591.0,696.2 592.0,696.0 593.0,695.1 594.0,695.8 595.0,694.1 596.0,694.2 597.0,694.5 598.0,694.8 599.0,693.9 600.0,695.0 601.0,694.1 602.0,692.9 603.0,693.5 604.0,692.5 605.0,692.3 606.0,691.7 607.0,693.8 608.0,693.2 609.0,691.0 610.0,692.9 611.0,692.6 612.0,691.4 613.0,691.8 614.0,693.0 615.0,691.2 616.0,691.1 617.0,691.5 618.0,689.6 619.0,689.2 620.0,688.8 621.0,689.7 622.0,690.2 623.0,688.6 624.0,688.0 625.0,689.0 626.0,688.3 627.0,688.9 628.0,688.1 629.0,687.8 630.0,687.7 631.0,687.6 632.0,686.5 633.0,686.2 634.0,688.1 635.0,689.1 636.0,687.3 637.0,684.8 638.0,685.9 639.0,686.6 640.0,684.1 641.0,684.8 642.0,684.6 643.0,684.0 644.0,683.8 645.0,685.0 646.0,683.6 647.0,683.6 648.0,684.9 649.0,682.6 650.0,681.5 651.0,683.3 652.0,684.1 653.0,682.5 654.0,682.3 655.0,680.8 656.0,680.8 657.0,682.5 658.0,682.1 659.0,681.3 660.0,680.0 661.0,679.3 662.0,679.2 663.0,678.8 664.0,680.0 665.0,678.6 666.0,678.6 667.0,679.3 668.0,679.0 669.0,678.2 670.0,678.3 671.0,677.6 672.0,675.8 673.0,677.0 674.0,676.4 675.0,676.2 676.0,676.4 677.0,675.4 678.0,676.6 679.0,675.2 680.0,675.1 681.0,675.0 682.0,674.2 683.0,674.6 684.0,674.4 685.0,674.0 686.0,672.6 687.0,672.1 688.0,672.0 689.0,672.1 690.0,670.3 691.0,670.8 692.0,670.2 693.0,670.2 694.0,669.6 695.0,670.6 696.0,670.0 697.0,670.0 698.0,668.0 699.0,667.8 700.0,667.7 701.0,668.9 702.0,668.4 703.0,666.1 704.0,666.6 705.0,667.3 706.0,664.2 707.0,664.3 708.0,665.0 709.0,663.9 710.0,662.0 711.0,663.5 712.0,662.5 713.0,661.7 714.0,659.5 715.0,659.9 716.0,660.5 716.1,659.8 716.5,659.7 717.0,658.5 717.5,659.4 717.9,657.2 718.0,657.9 718.4,656.4 718.8,653.3 719.0,654.0 719.3,649.8 719.5,647.7 719.7,645.9 720.0,640.1 720.2,637.2 720.5,631.3 720.6,628.8 721.0,618.6 721.1,617.8 721.5,606.2 721.5,604.1 722.0,593.3 722.0,590.1 722.4,579.8 722.5,575.5 722.9,570.4 723.0,570.1 723.3,568.3 723.5,566.9 723.8,567.9 724.0,569.1 724.2,568.9 724.5,570.2 724.7,572.0 725.0,576.0 725.1,577.6 725.5,582.9 725.6,582.1 726.0,588.9 726.0,588.6 726.5,595.0 726.5,596.6 726.9,602.3 727.0,602.3 727.4,607.0 727.5,609.0 727.8,613.3 728.0,616.1 728.3,619.6 728.5,622.6 728.7,624.6 729.0,628.1 729.2,630.8 729.5,636.5 729.6,636.0 730.0,639.6 730.1,639.8 730.5,642.6 730.5,644.4 731.0,645.2 731.5,646.5 732.0,647.5 732.5,649.3 733.0,648.6 733.5,648.8 734.0,648.8 734.5,648.3 735.0,649.3 736.0,647.5 737.0,650.4 738.0,646.1 739.0,646.9 740.0,647.7 741.0,647.7 742.0,646.8 743.0,647.0 744.0,646.5 745.0,646.1 746.0,646.0 747.0,645.4 748.0,644.7 749.0,644.2 750.0,644.6 751.0,643.3 752.0,643.4 753.0,643.7 754.0,642.3 755.0,642.4 756.0,640.6 757.0,640.6 758.0,640.2 759.0,639.4 760.0,638.9 761.0,639.0 762.0,637.0 763.0,636.0 764.0,636.0 765.0,633.8 766.0,634.1 767.0,634.2 768.0,632.2 769.0,631.5 770.0,630.1 771.0,629.5 772.0,627.6 773.0,626.0 774.0,621.8 775.0,622.6 776.0,622.1 777.0,620.0 778.0,618.0 779.0,617.9 780.0,615.1 781.0,614.1 782.0,613.5 783.0,611.0 784.0,610.1 785.0,608.4 786.0,605.9 787.0,604.9 788.0,603.5 789.0,601.7 790.0,601.6 791.0,599.2 792.0,597.2 793.0,595.1 794.0,594.6 795.0,594.5 796.0,591.8 797.0,591.3 798.0,589.8 799.0,587.7 800.0,586.1 801.0,586.0 802.0,582.9 803.0,583.4 804.0,580.7 805.0,580.9 806.0,578.6 807.0,577.4 808.0,576.8 809.0,573.7 810.0,572.9 811.0,571.0 812.0,569.8 813.0,568.0 814.0,565.6 815.0,563.4 816.0,560.7 817.0,559.3 818.0,556.4 819.0,554.5 820.0,552.4 821.0,549.2 822.0,547.5 823.0,546.8 824.0,545.1 825.0,544.7 826.0,540.3 827.0,541.1 828.0,540.5 829.0,538.5 830.0,537.8 831.0,536.0 832.0,534.8 833.0,534.5 834.0,531.7 835.0,529.9 836.0,531.0 837.0,529.8 838.0,528.8 839.0,527.9 840.0,527.3 841.0,525.5 842.0,525.5 843.0,524.7 844.0,523.0 845.0,523.3 846.0,523.2 847.0,521.9 848.0,523.1 849.0,521.7 850.0,522.4 851.0,522.7 852.0,520.1 853.0,520.1 854.0,521.5 855.0,520.8 856.0,521.5 857.0,522.6 858.0,521.1 859.0,522.5 860.0,522.1 861.0,522.7 862.0,525.1 863.0,526.8 864.0,529.6 865.0,531.4 866.0,534.2 867.0,536.5 868.0,537.8 869.0,542.3 870.0,546.1 871.0,550.8 872.0,552.9 873.0,557.4 874.0,560.2 875.0,562.3 876.0,566.8 877.0,570.6 878.0,573.1 879.0,577.5 880.0,580.5 881.0,584.1 882.0,587.3 883.0,591.6 884.0,596.3 885.0,600.1 886.0,603.2 887.0,607.9 888.0,612.1 889.0,616.3 890.0,619.6 891.0,621.6 892.0,626.3 893.0,627.7 894.0,631.6 895.0,634.5 896.0,639.2 897.0,641.5 898.0,644.0 899.0,646.1 900.0,650.2 901.0,651.6 902.0,654.6 903.0,657.4 904.0,658.3 905.0,660.9 906.0,660.6 907.0,664.4 908.0,664.2 909.0,667.4 910.0,668.8 911.0,670.4 912.0,673.2 913.0,670.7 914.0,674.3 915.0,674.8 916.0,676.9 917.0,677.6 918.0,678.5 919.0,679.0 920.0,679.9 921.0,681.7 922.0,681.2 923.0,684.2 924.0,683.7 925.0,685.4 926.0,684.9 927.0,687.0 928.0,687.2 929.0,688.7 930.0,689.7 931.0,688.9 932.0,690.0 933.0,690.6 934.0,692.0 935.0,690.3 936.0,692.3 937.0,692.2 938.0,691.7 939.0,692.9 940.0,693.0 941.0,694.8 942.0,693.6 943.0,695.5 944.0,694.7 945.0,696.0 946.0,694.5 947.0,695.5 948.0,696.6 949.0,696.1 950.0,695.8 951.0,697.4 952.0,698.3 953.0,697.9 954.0,698.0 955.0,698.7 956.0,698.3 957.0,699.5 958.0,699.9 959.0,698.2 960.0,700.2 961.0,700.0 962.0,699.9 963.0,700.3 964.0,701.1 965.0,701.6 966.0,701.5 967.0,700.1 968.0,701.5 969.0,699.2 970.0,701.4 971.0,701.4 972.0,701.7 973.0,700.3 974.0,702.3 975.0,702.3 976.0,701.5 977.0,700.3 978.0,701.8 979.0,701.0 980.0,700.5 981.0,701.3 982.0,703.8 983.0,700.9 984.0,701.9 985.0,702.4 986.0,703.0 987.0,701.6 988.0,701.7 989.0,703.2 990.0,702.8 991.0,703.7 992.0,701.8 993.0,702.7 994.0,703.6 995.0,703.0 996.0,702.1 997.0,703.2 998.0,701.6 999.0,702.6 1000.0,703.9 1001.0,704.1 1002.0,703.7 1003.0,704.0 1004.0,702.3 1005.0,703.1 1006.0,704.5 1007.0,705.6 1008.0,704.2 1009.0,703.1 1010.0,703.2 1011.0,704.9 1012.0,704.9 1013.0,703.2 1014.0,704.3 1015.0,705.3 1016.0,705.4 1017.0,704.0 1018.0,704.3 1019.0,704.9 1020.0,703.7 1021.0,703.3 1022.0,704.1 1023.0,705.7 1024.0,705.7 1025.0,705.2 1026.0,704.0 1027.0,703.4 1028.0,704.2 1029.0,705.1 1030.0,705.9 1031.0,704.5 1032.0,705.3 1033.0,703.8 1034.0,703.6 1035.0,705.3 1036.0,704.4 1037.0,704.6 1038.0,703.7 1039.0,706.2 1040.0,704.1 1041.0,705.6 1042.0,704.5 1043.0,705.4 1044.0,706.8 1045.0,706.0 1046.0,705.9 1047.0,706.6 1048.0,706.3 1049.0,707.1 1050.0,704.8 1051.0,707.1 1052.0,706.1 1053.0,705.3 1054.0,706.6 1055.0,706.6 1056.0,706.2 1057.0,706.9 1058.0,705.2 1059.0,705.0 1060.0,705.9 1061.0,707.3 1062.0,706.8 1063.0,706.5 1064.0,706.0 1065.0,706.5 1066.0,707.5 1067.0,706.1 1068.0,706.1 1069.0,707.0 1070.0,707.2 1071.0,706.8 1072.0,707.9 1073.0,706.9 1074.0,706.0 1075.0,705.1 1076.0,707.8 1077.0,706.8 1078.0,707.2 1079.0,707.3 1080.0,708.1 1081.0,707.8 1082.0,707.8 1083.0,707.3 1084.0,706.9 1085.0,707.3 1086.0,706.5 1087.0,707.5 1088.0,708.1 1089.0,707.8 1090.0,707.4 1091.0,706.6 1092.0,706.6 1093.0,706.7 1094.0,707.0 1095.0,707.7 1096.0,707.8 1097.0,707.8 1098.0,708.2 1099.0,706.6 1100.0,707.3 1101.0,707.9 1102.0,708.1 1103.0,706.9 1104.0,706.9 1105.0,708.4 1106.0,708.0 1107.0,707.9 1108.0,707.3 1109.0,706.7 1110.0,707.5 1111.0,707.8 1112.0,707.9 1113.0,708.2 1114.0,707.6 1115.0,708.5 1116.0,707.2 1117.0,707.8 1118.0,707.5 1119.0,706.0 1120.0,706.4 1121.0,707.0 1122.0,707.5 1123.0,707.7 1124.0,708.4 1125.0,707.3 1126.0,707.1 1127.0,707.5 1128.0,706.3 1129.0,707.1 1130.0,706.4 1131.0,707.2 1132.0,706.5 1133.0,706.7 1134.0,708.5 1135.0,707.8 1136.0,708.9 1137.0,707.0 1138.0,706.7 1139.0,706.1 1140.0,706.7 1141.0,705.2 1142.0,706.6 1143.0,706.0 1144.0,705.4 1145.0,704.9 1146.0,705.6 1147.0,705.9 1148.0,706.1 1149.0,704.7 1150.0,705.9 1151.0,706.1 1152.0,707.5 1153.0,706.0 1154.0,706.3 1155.0,704.9 1156.0,705.4 1157.0,704.7 1158.0,704.5 1159.0,705.5 1160.0,704.8 1161.0,706.0 1162.0,704.5 1163.0,704.4 1164.0,702.6 1165.0,702.2 1166.0,702.9 1167.0,701.3 1168.0,702.2 1169.0,700.0 1170.0,699.4 1171.0,701.2 1172.0,697.9 1173.0,698.7 1174.0,699.4 1175.0,699.7 1176.0,698.9 1177.0,702.2 1178.0,700.9 1179.0,700.2 1180.0,702.7 1181.0,701.6 1182.0,702.0 1183.0,702.6 1184.0,701.3 1185.0,701.4 1186.0,701.9 1187.0,702.6 1188.0,700.9 1189.0,703.1 1190.0,702.2 1191.0,700.9 1192.0,701.8 1193.0,702.2 1194.0,702.6 1195.0,702.3 1196.0,702.4 1197.0,701.3 1198.0,701.8 1199.0,699.0 1200.0,701.8 1201.0,700.8 1202.0,701.9 1203.0,700.0 1204.0,699.9 1205.0,700.0" fill="none" stroke="#F5820A" stroke-width="9" stroke-linejoin="round" stroke-linecap="round"/>
<polyline points="249.0,540.7 250.0,540.8 251.0,540.6 252.0,540.5 253.0,540.6 254.0,540.5 255.0,540.7 256.0,541.0 257.0,540.6 258.0,540.6 259.0,540.8 260.0,540.8 261.0,540.7 262.0,540.5 263.0,540.7 264.0,540.8 265.0,540.4 266.0,540.6 267.0,540.3 268.0,540.4 269.0,540.3 270.0,540.7 271.0,540.4 272.0,540.8 273.0,540.7 274.0,540.7 275.0,540.2 276.0,540.6 277.0,540.7 278.0,540.7 279.0,540.4 280.0,540.6 281.0,540.5 282.0,540.5 283.0,540.9 284.0,540.5 285.0,540.7 286.0,540.9 287.0,540.6 288.0,540.7 289.0,540.7 290.0,540.7 291.0,540.5 292.0,540.7 293.0,541.0 294.0,540.4 295.0,540.9 296.0,540.7 297.0,540.6 298.0,541.1 299.0,540.8 300.0,540.5 301.0,540.7 302.0,540.8 303.0,540.7 304.0,540.8 305.0,540.7 306.0,540.8 307.0,541.0 308.0,540.6 309.0,540.7 310.0,540.6 311.0,540.7 312.0,540.5 313.0,540.6 314.0,540.6 315.0,540.9 316.0,540.9 317.0,540.4 318.0,540.5 319.0,540.8 320.0,540.3 321.0,540.6 322.0,540.7 323.0,540.9 324.0,540.8 325.0,540.6 326.0,540.6 327.0,540.6 328.0,541.0 329.0,540.6 330.0,540.6 331.0,540.8 332.0,540.7 333.0,540.6 334.0,540.5 335.0,540.7 336.0,540.6 337.0,540.9 338.0,540.8 339.0,540.7 340.0,540.8 341.0,540.6 342.0,540.9 343.0,540.7 344.0,540.8 345.0,540.4 346.0,540.7 347.0,540.3 348.0,540.3 349.0,540.6 350.0,540.5 351.0,540.7 352.0,541.1 353.0,540.5 354.0,540.5 355.0,540.7 356.0,540.8 357.0,540.6 358.0,540.6 359.0,540.8 360.0,540.8 361.0,540.5 362.0,540.7 363.0,540.7 364.0,540.5 365.0,540.7 366.0,540.5 367.0,540.9 368.0,540.7 369.0,540.7 370.0,540.5 371.0,540.6 372.0,540.3 373.0,540.4 374.0,540.7 375.0,540.2 376.0,540.8 377.0,540.3 378.0,540.8 379.0,540.5 380.0,540.8 381.0,540.7 382.0,540.3 383.0,540.9 384.0,540.9 385.0,540.6 386.0,540.6 387.0,540.6 388.0,540.5 389.0,540.9 390.0,540.5 391.0,540.6 392.0,540.5 393.0,540.5 394.0,540.4 395.0,540.9 396.0,540.6 397.0,540.8 398.0,540.6 399.0,540.5 400.0,540.6 401.0,540.5 402.0,540.6 403.0,540.6 404.0,540.6 405.0,540.4 406.0,540.5 407.0,541.0 408.0,540.5 409.0,540.4 410.0,540.7 411.0,540.9 412.0,540.3 413.0,540.6 414.0,540.5 415.0,540.3 416.0,540.8 417.0,540.6 418.0,540.6 419.0,540.5 420.0,540.7 421.0,540.5 422.0,540.6 423.0,540.4 424.0,540.4 425.0,540.9 426.0,540.5 427.0,540.7 428.0,540.6 429.0,540.5 430.0,540.5 431.0,540.7 432.0,540.6 433.0,540.6 434.0,540.6 435.0,540.8 436.0,540.7 437.0,540.7 438.0,540.5 439.0,540.3 440.0,540.8 441.0,540.8 442.0,540.6 443.0,540.7 444.0,540.8 445.0,540.8 446.0,540.8 447.0,540.5 448.0,540.9 449.0,540.4 450.0,540.8 451.0,540.7 452.0,540.8 453.0,541.0 454.0,540.9 455.0,540.4 456.0,540.3 457.0,540.8 458.0,540.4 459.0,540.6 460.0,540.8 461.0,540.3 462.0,540.2 463.0,540.6 464.0,540.6 465.0,540.5 466.0,540.6 467.0,540.4 468.0,540.3 469.0,540.5 470.0,540.4 471.0,540.2 472.0,540.7 473.0,540.6 474.0,540.7 475.0,540.4 476.0,540.4 477.0,540.4 478.0,540.4 479.0,540.6 480.0,540.4 481.0,540.6 482.0,540.6 483.0,541.0 484.0,540.3 485.0,540.7 486.0,540.5 487.0,540.5 488.0,540.3 489.0,540.5 490.0,540.7 491.0,540.5 492.0,540.6 493.0,540.5 494.0,540.8 495.0,540.5 496.0,540.1 497.0,540.4 498.0,540.1 499.0,539.9 500.0,540.4 501.0,540.8 502.0,540.5 503.0,540.3 504.0,540.3 505.0,540.7 506.0,540.5 507.0,540.5 508.0,540.5 509.0,540.5 510.0,540.7 511.0,540.6 512.0,540.5 513.0,540.3 514.0,540.6 515.0,540.3 516.0,540.7 517.0,540.2 518.0,540.4 519.0,540.5 520.0,540.2 521.0,540.8 522.0,540.8 523.0,540.4 524.0,540.6 525.0,540.5 526.0,539.9 527.0,540.5 528.0,540.4 529.0,540.4 530.0,540.2 531.0,540.4 532.0,540.4 533.0,540.7 534.0,540.5 535.0,540.4 536.0,540.7 537.0,540.3 538.0,540.3 539.0,540.0 540.0,540.7 541.0,540.6 542.0,540.6 543.0,540.5 544.0,540.4 545.0,540.4 546.0,540.3 547.0,540.3 548.0,540.4 549.0,540.6 550.0,540.5 551.0,540.3 552.0,540.2 553.0,540.2 554.0,540.6 555.0,540.4 556.0,540.3 557.0,540.2 558.0,540.1 559.0,540.3 560.0,540.5 561.0,540.2 562.0,540.2 563.0,540.2 564.0,540.3 565.0,539.9 566.0,540.2 567.0,540.1 568.0,540.4 569.0,540.1 570.0,540.3 571.0,540.5 572.0,540.2 573.0,540.1 574.0,540.2 575.0,540.2 576.0,540.0 577.0,540.3 578.0,540.6 579.0,540.1 580.0,540.1 581.0,539.9 582.0,540.2 583.0,539.9 584.0,539.9 585.0,540.4 586.0,539.9 587.0,540.3 588.0,540.4 589.0,540.1 590.0,540.2 591.0,540.5 592.0,540.0 593.0,539.9 594.0,539.8 595.0,540.1 596.0,540.3 597.0,540.2 598.0,539.8 599.0,539.8 600.0,539.9 601.0,540.1 602.0,539.9 603.0,540.0 604.0,540.0 605.0,539.9 606.0,539.9 607.0,540.0 608.0,539.9 609.0,540.0 610.0,540.3 611.0,540.0 612.0,539.9 613.0,539.5 614.0,540.0 615.0,539.5 616.0,539.6 617.0,540.0 618.0,540.0 619.0,539.8 620.0,539.5 621.0,539.7 622.0,539.7 623.0,539.9 624.0,540.2 625.0,539.8 626.0,539.6 627.0,539.5 628.0,539.7 629.0,539.7 630.0,539.5 631.0,539.7 632.0,539.4 633.0,539.9 634.0,539.9 635.0,539.9 636.0,539.5 637.0,539.7 638.0,539.6 639.0,539.5 640.0,539.5 641.0,539.3 642.0,539.3 643.0,539.7 644.0,539.5 645.0,539.6 646.0,539.7 647.0,539.1 648.0,539.3 649.0,539.5 650.0,539.5 651.0,539.4 652.0,539.6 653.0,539.5 654.0,539.2 655.0,539.2 656.0,539.5 657.0,539.4 658.0,539.0 659.0,539.6 660.0,539.4 661.0,539.6 662.0,539.2 663.0,539.2 664.0,539.0 665.0,539.7 666.0,539.2 667.0,539.5 668.0,539.1 669.0,539.2 670.0,538.8 671.0,539.1 672.0,539.3 673.0,538.9 674.0,539.3 675.0,539.2 676.0,538.9 677.0,538.9 678.0,538.9 679.0,539.0 680.0,538.9 681.0,538.8 682.0,538.9 683.0,538.7 684.0,538.6 685.0,538.7 686.0,538.9 687.0,538.3 688.0,538.5 689.0,538.3 690.0,538.1 691.0,538.4 692.0,538.0 693.0,538.3 694.0,537.7 695.0,537.8 696.0,537.6 697.0,537.4 698.0,537.6 699.0,537.3 700.0,537.4 701.0,537.2 702.0,536.9 703.0,537.0 704.0,537.0 705.0,537.1 706.0,536.6 707.0,536.7 708.0,536.3 709.0,536.7 710.0,536.3 711.0,536.1 712.0,536.3 713.0,536.5 714.0,536.0 715.0,536.0 716.0,536.1 717.0,536.0 718.0,536.3 718.1,536.0 718.5,536.0 718.9,536.3 719.0,536.0 719.3,536.1 719.7,535.7 720.0,535.4 720.1,535.1 720.5,535.3 720.9,533.7 721.0,533.5 721.3,532.1 721.7,529.7 722.0,527.4 722.1,526.8 722.5,522.3 722.9,517.7 723.0,516.7 723.3,513.3 723.7,509.9 724.0,507.8 724.1,506.9 724.5,505.9 724.9,507.1 725.0,507.9 725.3,509.2 725.7,513.7 726.0,516.7 726.1,518.2 726.5,522.2 726.9,526.4 727.0,527.0 727.3,529.5 727.7,532.4 728.0,533.6 728.1,533.7 728.5,534.7 728.9,535.1 729.0,535.5 729.3,535.9 729.7,536.0 730.0,536.1 730.1,535.9 730.5,536.2 731.0,536.2 732.0,536.5 733.0,536.6 734.0,536.2 735.0,536.0 736.0,536.1 737.0,536.0 738.0,535.9 739.0,535.9 740.0,535.6 741.0,535.8 742.0,535.5 743.0,535.4 744.0,535.2 745.0,534.9 746.0,534.7 747.0,534.6 748.0,534.4 749.0,534.3 750.0,534.1 751.0,533.6 752.0,533.7 753.0,533.2 754.0,533.2 755.0,533.0 756.0,532.5 757.0,532.7 758.0,532.6 759.0,532.3 760.0,532.1 761.0,531.9 762.0,531.6 763.0,531.6 764.0,531.3 765.0,531.3 766.0,530.8 767.0,530.9 768.0,530.7 769.0,530.4 770.0,530.2 771.0,530.2 772.0,529.5 773.0,529.7 774.0,529.5 775.0,529.3 776.0,529.1 777.0,528.7 778.0,528.5 779.0,528.5 780.0,528.2 781.0,527.9 782.0,527.4 783.0,527.5 784.0,527.4 785.0,527.1 786.0,526.7 787.0,526.1 788.0,526.4 789.0,525.9 790.0,525.1 791.0,525.5 792.0,524.8 793.0,524.6 794.0,524.5 795.0,524.6 796.0,524.0 797.0,523.9 798.0,523.9 799.0,523.6 800.0,523.0 801.0,522.8 802.0,522.3 803.0,522.2 804.0,522.1 805.0,521.9 806.0,521.6 807.0,521.5 808.0,521.0 809.0,520.9 810.0,520.8 811.0,520.5 812.0,520.4 813.0,520.0 814.0,519.6 815.0,519.5 816.0,519.0 817.0,518.7 818.0,518.8 819.0,518.5 820.0,518.3 821.0,517.6 822.0,517.6 823.0,517.3 824.0,517.0 825.0,516.4 826.0,516.5 827.0,516.4 828.0,516.0 829.0,515.5 830.0,515.3 831.0,515.2 832.0,514.1 833.0,514.3 834.0,514.1 835.0,513.8 836.0,513.7 837.0,513.2 838.0,512.7 839.0,512.3 840.0,512.0 841.0,511.3 842.0,511.1 843.0,510.8 844.0,510.6 845.0,509.8 846.0,509.4 847.0,509.0 848.0,508.8 849.0,508.1 850.0,507.9 851.0,507.0 852.0,506.6 853.0,506.2 854.0,505.9 855.0,505.4 856.0,504.4 857.0,504.0 858.0,503.7 859.0,502.9 860.0,502.2 861.0,502.1 862.0,501.4 863.0,500.8 864.0,499.9 865.0,499.6 866.0,498.7 867.0,498.3 868.0,497.2 869.0,496.5 870.0,496.0 871.0,495.2 872.0,494.8 873.0,494.0 874.0,493.1 875.0,492.6 876.0,491.7 877.0,491.2 878.0,490.1 879.0,489.3 880.0,488.7 881.0,488.0 882.0,487.0 883.0,485.6 884.0,484.5 885.0,483.7 886.0,482.2 887.0,480.8 888.0,479.7 889.0,478.5 890.0,476.8 891.0,475.2 892.0,473.8 893.0,472.7 894.0,470.6 895.0,468.8 896.0,466.8 897.0,464.8 898.0,462.5 899.0,460.7 900.0,458.4 901.0,456.4 902.0,454.2 903.0,452.4 904.0,449.9 905.0,447.2 906.0,444.5 907.0,441.5 908.0,438.3 909.0,434.2 910.0,430.6 911.0,426.8 912.0,423.5 913.0,419.2 914.0,414.9 915.0,410.8 916.0,406.6 917.0,401.6 918.0,397.1 919.0,392.9 920.0,388.5 921.0,384.5 922.0,380.3 923.0,376.8 924.0,372.8 925.0,368.7 926.0,365.1 927.0,361.2 928.0,358.7 929.0,355.8 930.0,353.3 931.0,351.1 932.0,348.9 933.0,346.9 934.0,345.6 935.0,344.2 936.0,343.9 937.0,344.3 938.0,345.2 939.0,346.0 940.0,347.9 941.0,349.5 942.0,352.0 943.0,354.7 944.0,356.9 945.0,359.4 946.0,362.7 947.0,366.1 948.0,370.1 949.0,374.4 950.0,379.0 951.0,385.0 952.0,390.5 953.0,396.8 954.0,402.7 955.0,408.9 956.0,415.4 957.0,421.7 958.0,427.8 959.0,433.3 960.0,439.0 961.0,444.7 962.0,449.8 963.0,454.6 964.0,459.3 965.0,463.7 966.0,468.8 967.0,473.1 968.0,477.8 969.0,482.4 970.0,487.1 971.0,491.3 972.0,495.3 973.0,498.6 974.0,501.6 975.0,504.6 976.0,506.6 977.0,508.8 978.0,511.1 979.0,513.1 980.0,514.6 981.0,516.4 982.0,518.1 983.0,519.2 984.0,520.2 985.0,521.4 986.0,521.9 987.0,522.9 988.0,523.6 989.0,524.8 990.0,524.8 991.0,525.7 992.0,526.4 993.0,527.2 994.0,527.8 995.0,528.4 996.0,528.3 997.0,529.2 998.0,529.4 999.0,529.7 1000.0,530.3 1001.0,530.3 1002.0,530.3 1003.0,531.0 1004.0,531.0 1005.0,531.4 1006.0,531.8 1007.0,532.0 1008.0,532.5 1009.0,532.3 1010.0,532.3 1011.0,532.6 1012.0,532.7 1013.0,532.8 1014.0,533.3 1015.0,533.3 1016.0,533.1 1017.0,533.8 1018.0,533.8 1019.0,534.0 1020.0,534.1 1021.0,534.3 1022.0,534.3 1023.0,534.7 1024.0,534.7 1025.0,534.8 1026.0,534.9 1027.0,534.6 1028.0,535.0 1029.0,535.1 1030.0,535.3 1031.0,535.1 1032.0,535.8 1033.0,535.6 1034.0,535.4 1035.0,535.4 1036.0,535.8 1037.0,536.0 1038.0,535.9 1039.0,536.2 1040.0,536.1 1041.0,536.4 1042.0,536.3 1043.0,536.5 1044.0,536.8 1045.0,537.2 1046.0,536.6 1047.0,536.8 1048.0,536.8 1049.0,537.2 1050.0,536.9 1051.0,537.1 1052.0,537.2 1053.0,537.1 1054.0,537.2 1055.0,537.4 1056.0,537.2 1057.0,537.4 1058.0,537.7 1059.0,537.8 1060.0,537.9 1061.0,537.6 1062.0,538.0 1063.0,538.3 1064.0,538.4 1065.0,538.3 1066.0,538.2 1067.0,538.6 1068.0,538.5 1069.0,538.5 1070.0,538.6 1071.0,539.2 1072.0,539.0 1073.0,539.3 1074.0,539.1 1075.0,539.4 1076.0,539.2 1077.0,539.4 1078.0,540.0 1079.0,539.8 1080.0,539.6 1081.0,539.8 1082.0,540.0 1083.0,540.2 1084.0,540.0 1085.0,539.8 1086.0,540.2 1087.0,540.3 1088.0,540.4 1089.0,540.7 1090.0,540.6 1091.0,540.8 1092.0,540.5 1093.0,540.9 1094.0,541.3 1095.0,541.1 1096.0,541.0 1097.0,541.0 1098.0,541.4 1099.0,540.9 1100.0,541.1 1101.0,541.3 1102.0,541.4 1103.0,541.2 1104.0,541.4 1105.0,541.3 1106.0,541.4 1107.0,541.4 1108.0,541.2 1109.0,541.4 1110.0,541.6 1111.0,541.2 1112.0,541.4 1113.0,541.5 1114.0,541.2 1115.0,541.4 1116.0,541.2 1117.0,541.6 1118.0,541.9 1119.0,541.8 1120.0,541.4 1121.0,541.5 1122.0,541.4 1123.0,541.4 1124.0,541.7 1125.0,541.1 1126.0,541.6 1127.0,541.4 1128.0,541.7 1129.0,541.4 1130.0,541.3 1131.0,541.5 1132.0,541.5 1133.0,541.4 1134.0,541.5 1135.0,541.3 1136.0,541.0 1137.0,541.6 1138.0,541.5 1139.0,541.4 1140.0,541.4 1141.0,541.6 1142.0,541.3 1143.0,541.3 1144.0,541.4 1145.0,541.6 1146.0,541.1 1147.0,541.6 1148.0,541.3 1149.0,541.2 1150.0,541.6 1151.0,541.4 1152.0,541.1 1153.0,541.3 1154.0,541.6 1155.0,541.6 1156.0,541.3 1157.0,541.5 1158.0,541.5 1159.0,541.3 1160.0,541.5 1161.0,541.4 1162.0,541.3 1163.0,541.3 1164.0,541.4 1165.0,541.4 1166.0,541.3 1167.0,541.3 1168.0,541.6 1169.0,541.4 1170.0,541.6 1171.0,541.6 1172.0,541.5 1173.0,541.8 1174.0,541.2 1175.0,541.5 1176.0,541.3 1177.0,541.7 1178.0,541.7 1179.0,541.0 1180.0,541.2 1181.0,541.5 1182.0,541.5 1183.0,541.5 1184.0,541.3 1185.0,541.4 1186.0,541.5 1187.0,541.3 1188.0,541.6 1189.0,540.9 1190.0,541.5 1191.0,541.1 1192.0,541.5 1193.0,541.3 1194.0,541.2 1195.0,541.4 1196.0,541.1 1197.0,541.1 1198.0,541.0 1199.0,541.3 1200.0,541.4 1201.0,541.5 1202.0,541.3 1203.0,541.5 1204.0,541.3 1205.0,541.3" fill="none" stroke="#F00000" stroke-width="8.5" stroke-linejoin="round" stroke-linecap="round"/>
<rect x="242.5" y="165" width="968.5" height="1454.5" fill="none" stroke="#000" stroke-width="12" stroke-linejoin="round"/>
<line x1="341.5" y1="1613" x2="341.5" y2="1591.7" stroke="#000" stroke-width="9.4" stroke-linecap="round"/>
<line x1="440.4" y1="1613" x2="440.4" y2="1604.7" stroke="#000" stroke-width="9.4" stroke-linecap="round"/>
<line x1="539.3" y1="1613" x2="539.3" y2="1591.7" stroke="#000" stroke-width="9.4" stroke-linecap="round"/>
<line x1="638.2" y1="1613" x2="638.2" y2="1604.7" stroke="#000" stroke-width="9.4" stroke-linecap="round"/>
<line x1="737.1" y1="1613" x2="737.1" y2="1591.7" stroke="#000" stroke-width="9.4" stroke-linecap="round"/>
<line x1="836.0" y1="1613" x2="836.0" y2="1604.7" stroke="#000" stroke-width="9.4" stroke-linecap="round"/>
<line x1="934.9" y1="1613" x2="934.9" y2="1591.7" stroke="#000" stroke-width="9.4" stroke-linecap="round"/>
<line x1="1033.8" y1="1613" x2="1033.8" y2="1604.7" stroke="#000" stroke-width="9.4" stroke-linecap="round"/>
<line x1="1132.7" y1="1613" x2="1132.7" y2="1591.7" stroke="#000" stroke-width="9.4" stroke-linecap="round"/>
<text x="279.22" y="1723.50" style="font-family:'Liberation Sans', Arial, sans-serif;font-weight:bold;font-size:100.29px" fill="#000" textLength="125.26" lengthAdjust="spacingAndGlyphs">1.4</text>
<text x="475.95" y="1722.55" style="font-family:'Liberation Sans', Arial, sans-serif;font-weight:bold;font-size:97.46px" fill="#000" textLength="126.95" lengthAdjust="spacingAndGlyphs">1.6</text>
<text x="674.68" y="1722.55" style="font-family:'Liberation Sans', Arial, sans-serif;font-weight:bold;font-size:97.46px" fill="#000" textLength="124.07" lengthAdjust="spacingAndGlyphs">1.8</text>
<text x="870.49" y="1722.55" style="font-family:'Liberation Sans', Arial, sans-serif;font-weight:bold;font-size:97.46px" fill="#000" textLength="128.60" lengthAdjust="spacingAndGlyphs">2.0</text>
<text x="1068.81" y="1723.50" style="font-family:'Liberation Sans', Arial, sans-serif;font-weight:bold;font-size:98.82px" fill="#000" textLength="127.87" lengthAdjust="spacingAndGlyphs">2.2</text>
<text x="443.14" y="1844.20" style="font-family:'Liberation Sans', Arial, sans-serif;font-weight:bold;font-size:109.74px" fill="#000" textLength="569.56" lengthAdjust="spacingAndGlyphs">Energy (eV)</text>
<text x="0" y="0" transform="translate(182.71,1649.53) rotate(-90)" style="font-family:'Liberation Sans', Arial, sans-serif;font-weight:bold;font-size:101.17px" fill="#000" textLength="566.77" lengthAdjust="spacingAndGlyphs">Normalized</text>
<text x="0" y="0" transform="translate(183.70,1023.05) rotate(-90)" style="font-family:'Liberation Sans', Arial, sans-serif;font-weight:bold;font-size:108.00px" fill="#000" textLength="134.69" lengthAdjust="spacingAndGlyphs">PL</text>
<text x="0" y="0" transform="translate(184.49,841.25) rotate(-90)" style="font-family:'Liberation Sans', Arial, sans-serif;font-weight:bold;font-size:103.63px" fill="#000" textLength="445.63" lengthAdjust="spacingAndGlyphs">Intensity</text>
<text x="0" y="0" transform="translate(189.01,365.81) rotate(-90)" style="font-family:Carlito, Calibri, 'Liberation Sans', sans-serif;font-weight:bold;font-size:112.25px" fill="#000" textLength="254.82" lengthAdjust="spacingAndGlyphs">(a.u.)</text>
<text x="13.06" y="98.43" style="font-family:Carlito, Calibri, 'Liberation Sans', sans-serif;font-weight:bold;font-size:91.66px" fill="#000" textLength="108.68" lengthAdjust="spacingAndGlyphs">(a)</text>
<text x="503.38" y="325.75" style="font-family:Carlito, Calibri, 'Liberation Sans', sans-serif;font-weight:normal;font-size:69.20px" fill="#000" textLength="249.07" lengthAdjust="spacingAndGlyphs">sapphire</text>
<line x1="629.2" y1="346.3" x2="713.2" y2="483.5" stroke="#000" stroke-width="3.6" stroke-linecap="round"/>
<polyline points="684.7,468.3 714,485.2 713,452" fill="none" stroke="#000" stroke-width="3.6" stroke-linecap="round" stroke-linejoin="miter"/>
<text x="295.94" y="491.70" style="font-family:'Liberation Sans', Arial, sans-serif;font-weight:bold;font-size:68.75px" fill="#F00000" textLength="105.22" lengthAdjust="spacingAndGlyphs">WS</text>
<text x="401.43" y="514.20" style="font-family:'Liberation Sans', Arial, sans-serif;font-weight:bold;font-size:56.86px" fill="#F00000" textLength="31.54" lengthAdjust="spacingAndGlyphs">2</text>
<text x="278.26" y="675.20" style="font-family:'Liberation Sans', Arial, sans-serif;font-weight:bold;font-size:72.38px" fill="#F5820A" textLength="226.05" lengthAdjust="spacingAndGlyphs">Ts=120</text>
<text x="503.68" y="643.72" style="font-family:'Liberation Sans', Arial, sans-serif;font-weight:normal;font-size:49.47px" fill="#F5820A" textLength="32.04" lengthAdjust="spacingAndGlyphs">o</text>
<text x="533.60" y="675.19" style="font-family:'Liberation Sans', Arial, sans-serif;font-weight:bold;font-size:72.46px" fill="#F5820A" textLength="47.50" lengthAdjust="spacingAndGlyphs">C</text>
<text x="278.27" y="858.60" style="font-family:'Liberation Sans', Arial, sans-serif;font-weight:bold;font-size:70.06px" fill="#8000FF" textLength="222.19" lengthAdjust="spacingAndGlyphs">Ts=110</text>
<text x="500.81" y="827.22" style="font-family:'Liberation Sans', Arial, sans-serif;font-weight:normal;font-size:49.47px" fill="#8000FF" textLength="30.27" lengthAdjust="spacingAndGlyphs">o</text>
<text x="531.35" y="859.49" style="font-family:'Liberation Sans', Arial, sans-serif;font-weight:bold;font-size:72.46px" fill="#8000FF" textLength="46.72" lengthAdjust="spacingAndGlyphs">C</text>
<text x="278.27" y="1030.60" style="font-family:'Liberation Sans', Arial, sans-serif;font-weight:bold;font-size:70.06px" fill="#0000EE" textLength="222.19" lengthAdjust="spacingAndGlyphs">Ts=100</text>
<text x="500.81" y="999.20" style="font-family:'Liberation Sans', Arial, sans-serif;font-weight:normal;font-size:50.93px" fill="#0000EE" textLength="30.27" lengthAdjust="spacingAndGlyphs">o</text>
<text x="531.35" y="1030.70" style="font-family:'Liberation Sans', Arial, sans-serif;font-weight:bold;font-size:71.33px" fill="#0000EE" textLength="46.72" lengthAdjust="spacingAndGlyphs">C</text>
<text x="915.08" y="1203.60" style="font-family:'Liberation Sans', Arial, sans-serif;font-weight:bold;font-size:70.06px" fill="#178A8C" textLength="184.47" lengthAdjust="spacingAndGlyphs">Ts=90</text>
<text x="1100.48" y="1171.53" style="font-family:'Liberation Sans', Arial, sans-serif;font-weight:normal;font-size:48.19px" fill="#178A8C" textLength="32.04" lengthAdjust="spacingAndGlyphs">o</text>
<text x="1131.25" y="1202.91" style="font-family:'Liberation Sans', Arial, sans-serif;font-weight:bold;font-size:70.20px" fill="#178A8C" textLength="46.61" lengthAdjust="spacingAndGlyphs">C</text>
<text x="915.08" y="1369.40" style="font-family:'Liberation Sans', Arial, sans-serif;font-weight:bold;font-size:70.20px" fill="#820000" textLength="184.47" lengthAdjust="spacingAndGlyphs">Ts=80</text>
<text x="1100.48" y="1338.73" style="font-family:'Liberation Sans', Arial, sans-serif;font-weight:normal;font-size:48.19px" fill="#820000" textLength="32.04" lengthAdjust="spacingAndGlyphs">o</text>
<text x="1131.25" y="1369.51" style="font-family:'Liberation Sans', Arial, sans-serif;font-weight:bold;font-size:70.34px" fill="#820000" textLength="46.61" lengthAdjust="spacingAndGlyphs">C</text>
<text x="1027.34" y="1528.00" style="font-family:'Liberation Sans', Arial, sans-serif;font-weight:bold;font-size:71.51px" fill="#000000" textLength="142.51" lengthAdjust="spacingAndGlyphs">WSe</text>
<text x="1168.45" y="1549.60" style="font-family:'Liberation Sans', Arial, sans-serif;font-weight:bold;font-size:56.71px" fill="#000000" textLength="31.31" lengthAdjust="spacingAndGlyphs">2</text>
<polyline points="1443.9,411.6 1445.5,412.5 1447.1,413.3 1448.7,412.1 1450.3,411.1 1451.9,411.1 1453.5,411.6 1455.1,411.9 1456.7,412.1 1458.3,410.9 1459.9,411.4 1461.5,412.6 1463.1,412.0 1464.7,412.0 1466.3,411.3 1467.9,411.7 1469.5,412.5 1471.1,412.0 1472.7,411.4 1474.3,412.0 1475.9,411.5 1477.5,410.0 1479.1,410.8 1480.7,411.4 1482.3,409.8 1483.9,409.7 1485.5,410.7 1487.1,410.5 1488.7,409.8 1490.3,410.6 1491.9,412.2 1493.5,412.1 1495.1,410.9 1496.7,411.4 1498.3,412.4 1499.9,411.9 1501.5,411.7 1503.1,412.6 1504.7,412.0 1506.3,410.6 1507.9,410.9 1509.5,411.5 1511.1,411.8 1512.7,410.6 1514.3,409.2 1515.9,409.3 1517.5,408.3 1519.1,408.8 1520.7,410.2 1522.3,409.3 1523.9,409.7 1525.5,410.6 1527.1,409.8 1528.7,409.2 1530.3,409.2 1531.9,407.7 1533.5,407.2 1535.1,408.3 1536.7,406.3 1538.3,405.9 1539.9,406.7 1541.5,406.8 1543.1,406.4 1544.7,405.6 1546.3,405.9 1547.9,405.1 1549.5,405.0 1551.1,405.4 1552.7,405.1 1554.3,404.6 1555.9,404.9 1557.5,405.6 1559.1,404.5 1560.7,404.4 1562.3,405.4 1563.9,406.1 1565.5,403.8 1567.1,403.0 1568.7,404.4 1570.3,403.6 1571.9,402.3 1573.5,403.2 1575.1,402.9 1576.7,402.3 1578.3,404.1 1579.9,402.3 1581.5,401.0 1583.1,401.1 1584.7,401.4 1586.3,403.5 1587.9,404.7 1589.5,402.1 1591.1,399.9 1592.7,401.8 1594.3,403.3 1595.9,403.0 1597.5,401.0 1599.1,400.8 1600.7,401.3 1602.3,400.8 1603.9,400.1 1605.5,400.4 1607.1,401.1 1608.7,400.6 1610.3,400.1 1611.9,399.0 1613.5,398.6 1615.1,400.5 1616.7,400.6 1618.3,398.3 1619.9,399.4 1621.5,400.8 1623.1,401.3 1624.7,400.8 1626.3,398.5 1627.9,397.2 1629.5,398.5 1631.1,401.6 1632.7,399.7 1634.3,396.9 1635.9,397.9 1637.5,397.6 1639.1,396.7 1640.7,396.9 1642.3,397.1 1643.9,398.2 1645.5,397.9 1647.1,397.6 1648.7,397.0 1650.3,396.4 1651.9,394.7 1653.5,393.1 1655.1,395.4 1656.7,395.9 1658.3,395.6 1659.9,396.4 1661.5,396.9 1663.1,396.9 1664.7,396.5 1666.3,395.5 1667.9,393.9 1669.5,393.2 1671.1,393.2 1672.7,392.7 1674.3,392.5 1675.9,393.3 1677.5,393.8 1679.1,393.4 1680.7,391.4 1682.3,391.5 1683.9,393.2 1685.5,394.0 1687.1,394.2 1688.7,392.6 1690.3,391.3 1691.9,393.4 1693.5,394.6 1695.1,394.3 1696.7,395.4 1698.3,392.9 1699.9,391.2 1701.5,392.2 1703.1,392.2 1704.7,392.1 1706.3,391.6 1707.9,391.1 1709.5,389.5 1711.1,389.0 1712.7,389.5 1714.3,389.6 1715.9,389.7 1717.5,390.0 1719.1,391.0 1720.7,390.5 1722.3,389.9 1723.9,389.5 1725.5,388.6 1727.1,388.2 1728.7,388.0 1730.3,388.3 1731.9,388.5 1733.5,388.5 1735.1,387.1 1736.7,387.1 1738.3,387.4 1739.9,385.7 1741.5,386.0 1743.1,386.0 1744.7,386.2 1746.3,385.9 1747.9,384.4 1749.5,383.9 1751.1,385.9 1752.7,386.5 1754.3,383.9 1755.9,383.6 1757.5,382.9 1759.1,384.3 1760.7,384.1 1762.3,382.5 1763.9,384.2 1765.5,382.0 1767.1,381.5 1768.7,383.5 1770.3,383.3 1771.9,382.2 1773.5,382.3 1775.1,381.8 1776.7,380.8 1778.3,380.0 1779.9,379.8 1781.5,378.5 1783.1,378.0 1784.7,377.8 1786.3,375.2 1787.9,375.3 1789.5,377.1 1791.1,376.9 1792.7,373.8 1794.3,372.7 1795.9,371.8 1797.5,370.1 1799.1,369.7 1800.7,366.6 1802.3,365.8 1803.9,366.2 1805.5,364.4 1807.1,362.9 1808.7,361.1 1810.3,360.5 1811.9,361.6 1813.5,362.9 1815.1,360.6 1816.7,358.5 1818.3,356.3 1819.9,350.7 1821.5,348.2 1823.1,347.3 1824.7,343.4 1826.3,340.1 1827.9,338.1 1829.5,333.9 1831.1,328.3 1832.7,324.4 1834.3,318.6 1835.9,309.6 1837.5,302.3 1839.1,296.4 1840.7,286.9 1842.3,278.2 1843.9,272.0 1845.5,264.0 1847.1,257.5 1848.7,252.9 1850.3,250.4 1851.9,251.5 1853.5,251.5 1855.1,250.4 1856.7,252.8 1858.3,257.7 1859.9,261.1 1861.5,263.8 1863.1,270.4 1864.7,276.4 1866.3,283.0 1867.9,291.8 1869.5,297.3 1871.1,305.3 1872.7,312.5 1874.3,315.0 1875.9,319.6 1877.5,323.8 1879.1,323.9 1880.7,326.1 1882.3,330.6 1883.9,334.1 1885.5,336.2 1887.1,337.8 1888.7,340.6 1890.3,342.7 1891.9,345.7 1893.5,348.0 1895.1,348.4 1896.7,349.8 1898.3,349.3 1899.9,348.9 1901.5,352.5 1903.1,354.3 1904.7,352.9 1906.3,353.3 1907.9,353.3 1909.5,353.3 1911.1,353.1 1912.7,353.1 1914.3,352.1 1915.9,353.2 1917.5,354.4 1919.1,351.2 1920.7,351.5 1922.3,352.8 1923.9,353.3 1925.5,352.4 1927.1,352.7 1928.7,358.0 1930.3,356.3 1931.9,352.8 1933.5,354.1 1935.1,354.2 1936.7,352.8 1938.3,351.5 1939.9,354.2 1941.5,355.5 1943.1,356.8 1944.7,356.1 1946.3,354.5 1947.9,358.6 1949.5,357.6 1951.1,353.3 1952.7,354.2 1954.3,355.2 1955.9,356.2 1957.5,356.4 1959.1,354.6 1960.7,354.6 1962.3,358.2 1963.9,358.8 1965.5,351.9 1967.1,349.5 1968.7,350.9 1970.3,351.0 1971.9,351.1 1973.5,352.0 1975.1,352.9 1976.7,351.3 1978.3,350.1 1979.9,348.6 1981.5,348.5 1983.1,349.7 1984.7,349.6 1986.3,347.5 1987.9,348.0 1989.5,348.4 1991.1,346.6 1992.7,345.1 1994.3,344.3 1995.9,344.2 1997.5,341.3 1999.1,342.9 2000.7,346.6 2002.3,344.8 2003.9,345.0 2005.5,345.4 2007.1,344.2 2008.7,340.3 2010.3,339.1 2011.9,342.3 2013.5,344.0 2015.1,345.0 2016.7,344.3 2018.3,340.2 2019.9,335.4 2021.5,336.9 2023.1,339.0 2024.7,338.9 2026.3,338.2 2027.9,336.7 2029.5,334.5 2031.1,334.2 2032.7,334.9 2034.3,334.2 2035.9,334.7 2037.5,333.5 2039.1,332.8 2040.7,332.3 2042.3,332.3 2043.9,332.4 2045.5,330.3 2047.1,328.5 2048.7,330.7 2050.3,330.7 2051.9,329.2 2053.5,329.2 2055.1,326.5 2056.7,324.4 2058.3,324.3 2059.9,324.6 2061.5,324.1 2063.1,320.6 2064.7,317.2 2066.3,316.5 2067.9,317.1 2069.5,312.1 2071.1,308.7 2072.7,309.2 2074.3,307.9 2075.9,306.8 2077.5,305.8 2079.1,307.5 2080.7,306.6 2082.3,304.2 2083.9,303.2 2085.5,300.4 2087.1,298.8 2088.7,296.7 2090.3,291.4 2091.9,288.2 2093.5,286.1 2095.1,285.6 2096.7,285.0 2098.3,282.6 2099.9,283.9 2101.5,285.3 2103.1,284.5 2104.7,283.6 2106.3,281.5 2107.9,279.8 2109.5,279.3 2111.1,280.8 2112.7,281.1 2114.3,277.8 2115.9,277.4 2117.5,277.3 2119.1,277.4 2120.7,277.5 2122.3,275.5 2123.9,277.1 2125.5,278.6 2127.1,276.2 2128.7,277.2 2130.3,282.2 2131.9,279.8 2133.5,280.3 2135.1,282.5 2136.7,280.9 2138.3,283.0 2139.9,283.1 2141.5,286.2 2143.1,289.7 2144.7,287.8 2146.3,287.6 2147.9,287.4 2149.5,288.1 2151.1,292.2 2152.7,291.2 2154.3,290.1 2155.9,293.3 2157.5,296.0 2159.1,298.2 2160.7,296.7 2162.3,294.4 2163.9,296.0 2165.5,296.8 2167.1,295.9 2168.7,297.9 2170.3,300.6 2171.9,299.5 2173.5,296.9 2175.1,297.3 2176.7,294.9 2178.3,294.0 2179.9,295.1 2181.5,298.2 2183.1,300.5 2184.7,297.4 2186.3,296.0 2187.9,292.3 2189.5,293.4 2191.1,298.9 2192.7,296.9 2194.3,295.4 2195.9,297.3 2197.5,294.1 2199.1,294.2 2200.7,298.1 2202.3,296.9 2203.9,294.8 2205.5,295.4 2207.1,293.1 2208.7,292.0 2210.3,295.3 2211.9,293.2 2213.5,292.9 2215.1,293.8 2216.7,289.2 2218.3,289.3 2219.9,290.6 2221.5,290.8 2223.1,290.2 2224.7,290.7 2226.3,290.8 2227.9,289.1 2229.5,288.6 2231.1,286.8 2232.7,288.4 2234.3,288.1 2235.9,284.9 2237.5,281.7 2239.1,282.8 2240.7,284.5 2242.3,281.2" fill="none" stroke="#F00000" stroke-width="5.5" stroke-linejoin="round" stroke-linecap="round"/>
<polyline points="1443.9,579.8 1445.2,580.8 1446.5,580.5 1447.8,580.6 1449.1,581.4 1450.4,578.9 1451.7,579.5 1453.0,578.9 1454.3,580.0 1455.6,581.0 1456.9,580.1 1458.2,580.6 1459.5,578.5 1460.8,580.4 1462.1,579.4 1463.4,581.9 1464.7,581.1 1466.0,581.2 1467.3,580.3 1468.6,580.9 1469.9,581.0 1471.2,580.1 1472.5,580.0 1473.8,580.3 1475.1,579.9 1476.4,579.9 1477.7,580.2 1479.0,579.8 1480.3,581.2 1481.6,579.1 1482.9,581.3 1484.2,580.0 1485.5,580.1 1486.8,579.4 1488.1,580.5 1489.4,580.4 1490.7,580.8 1492.0,580.1 1493.3,580.7 1494.6,582.3 1495.9,581.0 1497.2,580.1 1498.5,581.5 1499.8,580.5 1501.1,581.2 1502.4,581.2 1503.7,580.3 1505.0,578.9 1506.3,580.4 1507.6,581.2 1508.9,580.3 1510.2,581.1 1511.5,581.6 1512.8,580.2 1514.1,581.9 1515.4,582.2 1516.7,581.7 1518.0,581.8 1519.3,581.7 1520.6,582.8 1521.9,580.9 1523.2,580.7 1524.5,581.2 1525.8,579.8 1527.1,579.2 1528.4,579.8 1529.7,581.0 1531.0,581.0 1532.3,579.1 1533.6,578.7 1534.9,580.2 1536.2,580.3 1537.5,580.4 1538.8,581.1 1540.1,581.6 1541.4,580.6 1542.7,581.0 1544.0,579.3 1545.3,579.2 1546.6,580.5 1547.9,580.9 1549.2,580.9 1550.5,580.8 1551.8,580.9 1553.1,580.9 1554.4,578.3 1555.7,579.3 1557.0,580.4 1558.3,580.5 1559.6,578.4 1560.9,581.0 1562.2,579.4 1563.5,579.5 1564.8,580.0 1566.1,580.5 1567.4,578.2 1568.7,580.6 1570.0,579.6 1571.3,578.7 1572.6,579.2 1573.9,577.2 1575.2,578.7 1576.5,579.5 1577.8,578.6 1579.1,578.9 1580.4,579.1 1581.7,579.2 1583.0,580.2 1584.3,579.1 1585.6,578.8 1586.9,579.6 1588.2,581.2 1589.5,578.6 1590.8,579.5 1592.1,577.2 1593.4,580.3 1594.7,579.5 1596.0,580.2 1597.3,578.7 1598.6,577.6 1599.9,579.6 1601.2,579.4 1602.5,577.6 1603.8,576.9 1605.1,578.9 1606.4,578.2 1607.7,581.2 1609.0,577.6 1610.3,577.7 1611.6,578.1 1612.9,576.3 1614.2,577.1 1615.5,579.9 1616.8,577.8 1618.1,577.2 1619.4,576.4 1620.7,578.5 1622.0,578.5 1623.3,578.0 1624.6,577.2 1625.9,578.0 1627.2,578.0 1628.5,576.7 1629.8,578.2 1631.1,575.0 1632.4,575.9 1633.7,577.0 1635.0,577.2 1636.3,575.9 1637.6,577.6 1638.9,578.4 1640.2,577.7 1641.5,577.4 1642.8,578.1 1644.1,577.6 1645.4,575.7 1646.7,576.8 1648.0,578.6 1649.3,575.6 1650.6,577.1 1651.9,576.5 1653.2,575.9 1654.5,575.8 1655.8,577.3 1657.1,577.7 1658.4,577.9 1659.7,575.9 1661.0,577.6 1662.3,578.7 1663.6,579.7 1664.9,579.7 1666.2,580.2 1667.5,580.8 1668.8,580.8 1670.1,579.0 1671.4,580.4 1672.7,579.9 1674.0,578.2 1675.3,579.6 1676.6,585.0 1677.9,581.3 1679.2,580.3 1680.5,582.8 1681.8,585.8 1683.1,583.9 1684.4,584.5 1685.7,583.6 1687.0,583.7 1688.3,585.3 1689.6,584.5 1690.9,583.1 1692.2,584.1 1693.5,584.1 1694.8,582.0 1696.1,582.3 1697.4,581.9 1698.7,580.3 1700.0,582.4 1701.3,580.2 1702.6,579.1 1703.9,577.3 1705.2,577.5 1706.5,581.0 1707.8,576.9 1709.1,578.8 1710.4,577.3 1711.7,578.3 1713.0,578.1 1714.3,575.9 1715.6,576.4 1716.9,576.7 1718.2,576.5 1719.5,576.0 1720.8,575.3 1722.1,576.4 1723.4,577.2 1724.7,575.8 1726.0,573.6 1727.3,574.9 1728.6,574.1 1729.9,574.3 1731.2,576.0 1732.5,572.5 1733.8,572.3 1735.1,570.5 1736.4,570.8 1737.7,569.8 1739.0,572.4 1740.3,569.8 1741.6,567.7 1742.9,570.7 1744.2,564.9 1745.5,567.3 1746.8,566.4 1748.1,564.4 1749.4,561.7 1750.7,560.4 1752.0,558.4 1753.3,558.4 1754.6,551.6 1755.9,552.5 1757.2,551.5 1758.5,548.1 1759.8,543.4 1761.1,542.9 1762.4,538.8 1763.7,537.8 1765.0,535.2 1766.3,529.4 1767.6,522.4 1768.9,521.4 1770.2,516.0 1771.5,514.4 1772.8,511.9 1774.1,505.3 1775.4,504.0 1776.7,498.9 1778.0,493.3 1779.3,486.5 1780.6,484.1 1781.9,477.4 1783.2,477.1 1784.5,471.0 1785.8,469.2 1787.1,464.7 1788.4,459.2 1789.7,462.1 1791.0,461.4 1792.3,461.9 1793.6,456.9 1794.9,457.4 1796.2,460.0 1797.5,459.4 1798.8,460.3 1800.1,462.4 1801.4,470.9 1802.7,467.5 1804.0,469.5 1805.3,473.4 1806.6,477.4 1807.9,483.2 1809.2,486.7 1810.5,490.7 1811.8,493.6 1813.1,497.9 1814.4,500.5 1815.7,503.1 1817.0,513.9 1818.3,513.0 1819.6,519.0 1820.9,518.9 1822.2,521.5 1823.5,523.2 1824.8,522.5 1826.1,526.5 1827.4,528.9 1828.7,531.2 1830.0,532.0 1831.3,534.6 1832.6,534.7 1833.9,535.6 1835.2,533.2 1836.5,537.3 1837.8,542.7 1839.1,540.9 1840.4,543.1 1841.7,541.7 1843.0,541.3 1844.3,547.3 1845.6,544.4 1846.9,547.1 1848.2,545.5 1849.5,544.2 1850.8,540.5 1852.1,545.7 1853.4,542.6 1854.7,541.6 1856.0,549.3 1857.3,548.7 1858.6,549.0 1859.9,548.2 1861.2,548.5 1862.5,549.9 1863.8,549.8 1865.1,550.0 1866.4,551.8 1867.7,545.1 1869.0,552.6 1870.3,549.4 1871.6,552.7 1872.9,553.4 1874.2,548.9 1875.5,552.4 1876.8,552.2 1878.1,548.6 1879.4,548.8 1880.7,549.9 1882.0,544.4 1883.3,548.1 1884.6,549.2 1885.9,547.5 1887.2,544.5 1888.5,547.0 1889.8,551.1 1891.1,550.4 1892.4,546.8 1893.7,545.0 1895.0,546.6 1896.3,546.5 1897.6,544.8 1898.9,545.6 1900.2,547.7 1901.5,548.4 1902.8,540.4 1904.1,548.5 1905.4,546.4 1906.7,548.8 1908.0,546.0 1909.3,547.0 1910.6,549.9 1911.9,538.7 1913.2,549.8 1914.5,546.3 1915.8,541.3 1917.1,539.2 1918.4,546.5 1919.7,543.2 1921.0,548.2 1922.3,546.2 1923.6,545.3 1924.9,548.1 1926.2,546.0 1927.5,547.3 1928.8,547.5 1930.1,546.1 1931.4,547.2 1932.7,547.1 1934.0,541.4 1935.3,544.0 1936.6,544.2 1937.9,543.3 1939.2,539.9 1940.5,542.3 1941.8,544.4 1943.1,543.7 1944.4,546.9 1945.7,540.8 1947.0,540.9 1948.3,540.2 1949.6,540.4 1950.9,539.2 1952.2,535.4 1953.5,540.9 1954.8,542.2 1956.1,542.1 1957.4,535.6 1958.7,537.6 1960.0,542.7 1961.3,536.8 1962.6,537.6 1963.9,535.7 1965.2,538.3 1966.5,537.6 1967.8,540.8 1969.1,534.9 1970.4,533.9 1971.7,528.4 1973.0,529.9 1974.3,528.2 1975.6,528.4 1976.9,524.6 1978.2,531.1 1979.5,523.6 1980.8,526.6 1982.1,521.3 1983.4,525.2 1984.7,528.2 1986.0,520.2 1987.3,522.9 1988.6,520.9 1989.9,521.2 1991.2,520.9 1992.5,517.0 1993.8,517.6 1995.1,515.7 1996.4,514.2 1997.7,512.2 1999.0,518.1 2000.3,512.1 2001.6,515.6 2002.9,514.4 2004.2,508.8 2005.5,514.2 2006.8,507.3 2008.1,511.0 2009.4,512.5 2010.7,504.6 2012.0,502.7 2013.3,501.5 2014.6,510.6 2015.9,500.8 2017.2,496.7 2018.5,502.1 2019.8,497.7 2021.1,496.9 2022.4,492.6 2023.7,487.3 2025.0,491.0 2026.3,488.8 2027.6,485.8 2028.9,486.5 2030.2,485.8 2031.5,490.5 2032.8,489.0 2034.1,487.2 2035.4,482.5 2036.7,478.9 2038.0,483.0 2039.3,482.5 2040.6,483.3 2041.9,478.8 2043.2,477.5 2044.5,478.2 2045.8,473.2 2047.1,472.9 2048.4,477.3 2049.7,470.3 2051.0,474.0 2052.3,476.6 2053.6,474.3 2054.9,474.6 2056.2,468.9 2057.5,472.0 2058.8,471.2 2060.1,474.0 2061.4,473.0 2062.7,471.4 2064.0,477.9 2065.3,472.9 2066.6,469.7 2067.9,468.4 2069.2,470.5 2070.5,468.5 2071.8,476.5 2073.1,472.7 2074.4,469.6 2075.7,468.5 2077.0,467.2 2078.3,470.4 2079.6,476.6 2080.9,475.1 2082.2,472.1 2083.5,473.2 2084.8,466.1 2086.1,476.3 2087.4,473.0 2088.7,479.5 2090.0,474.0 2091.3,473.2 2092.6,476.2 2093.9,473.3 2095.2,481.2 2096.5,477.5 2097.8,478.0 2099.1,478.1 2100.4,475.6 2101.7,479.0 2103.0,477.9 2104.3,484.1 2105.6,477.4 2106.9,478.6 2108.2,475.2 2109.5,475.5 2110.8,475.6 2112.1,481.9 2113.4,476.9 2114.7,480.3 2116.0,475.2 2117.3,474.6 2118.6,468.0 2119.9,479.1 2121.2,484.0 2122.5,474.4 2123.8,481.1 2125.1,478.5 2126.4,472.0 2127.7,477.8 2129.0,470.8 2130.3,473.1 2131.6,479.4 2132.9,474.9 2134.2,469.2 2135.5,480.1 2136.8,469.5 2138.1,473.5 2139.4,472.8 2140.7,473.7 2142.0,470.8 2143.3,467.6 2144.6,482.9 2145.9,471.0 2147.2,471.5 2148.5,464.9 2149.8,476.2 2151.1,481.7 2152.4,482.5 2153.7,488.8 2155.0,483.5 2156.3,478.9 2157.6,477.5 2158.9,484.0 2160.2,477.7 2161.5,478.9 2162.8,473.9 2164.1,478.8 2165.4,487.4 2166.7,478.2 2168.0,480.4 2169.3,467.6 2170.6,484.5 2171.9,479.8 2173.2,484.1 2174.5,478.1 2175.8,472.3 2177.1,469.1 2178.4,476.8 2179.7,473.4 2181.0,467.9 2182.3,471.1 2183.6,467.4 2184.9,472.7 2186.2,466.3 2187.5,461.4 2188.8,465.9 2190.1,462.8 2191.4,471.7 2192.7,461.6 2194.0,456.7 2195.3,461.9 2196.6,460.2 2197.9,461.9 2199.2,460.9 2200.5,454.0 2201.8,458.0 2203.1,456.9 2204.4,450.7 2205.7,453.0 2207.0,456.0 2208.3,446.3 2209.6,447.9 2210.9,450.2 2212.2,451.2 2213.5,453.3 2214.8,443.0 2216.1,450.5 2217.4,451.3 2218.7,455.1 2220.0,444.2 2221.3,440.7 2222.6,436.7 2223.9,446.4 2225.2,449.3 2226.5,438.2 2227.8,443.1 2229.1,444.4 2230.4,444.0 2231.7,436.0 2233.0,440.5 2234.3,436.0 2235.6,430.3 2236.9,435.7 2238.2,435.3 2239.5,427.3 2240.8,433.7 2242.1,440.9 2243.4,421.3" fill="none" stroke="#F28A1E" stroke-width="3.6" stroke-linejoin="round" stroke-linecap="round"/>
<polyline points="1440.0,778.1 1442.0,776.4 1444.0,776.2 1446.0,778.6 1448.0,779.1 1450.0,779.7 1452.0,780.3 1454.0,780.4 1456.0,779.2 1458.0,779.9 1460.0,780.9 1462.0,780.6 1464.0,780.5 1466.0,781.5 1468.0,782.5 1470.0,782.0 1472.0,781.7 1474.0,781.2 1476.0,783.0 1478.0,784.5 1480.0,784.7 1482.0,785.6 1484.0,786.4 1486.0,787.6 1488.0,786.9 1490.0,787.1 1492.0,786.5 1494.0,786.5 1496.0,786.3 1498.0,785.7 1500.0,787.5 1502.0,787.3 1504.0,786.1 1506.0,785.2 1508.0,784.9 1510.0,786.0 1512.0,786.6 1514.0,785.2 1516.0,783.3 1518.0,783.5 1520.0,782.9 1522.0,781.5 1524.0,781.5 1526.0,781.5 1528.0,780.9 1530.0,779.2 1532.0,777.6 1534.0,775.2 1536.0,773.9 1538.0,774.4 1540.0,773.2 1542.0,772.2 1544.0,771.8 1546.0,771.7 1548.0,772.1 1550.0,771.7 1552.0,771.2 1554.0,771.6 1556.0,770.9 1558.0,769.2 1560.0,768.8 1562.0,769.4 1564.0,769.2 1566.0,768.1 1568.0,769.0 1570.0,770.3 1572.0,770.0 1574.0,766.6 1576.0,765.2 1578.0,766.2 1580.0,765.8 1582.0,766.1 1584.0,768.3 1586.0,768.1 1588.0,765.7 1590.0,766.3 1592.0,766.7 1594.0,766.0 1596.0,765.1 1598.0,764.7 1600.0,765.4 1602.0,763.5 1604.0,761.5 1606.0,763.8 1608.0,765.7 1610.0,764.0 1612.0,762.2 1614.0,762.3 1616.0,761.9 1618.0,761.5 1620.0,763.8 1622.0,764.0 1624.0,763.4 1626.0,762.9 1628.0,762.0 1630.0,763.3 1632.0,761.6 1634.0,759.9 1636.0,760.7 1638.0,761.1 1640.0,762.5 1642.0,762.6 1644.0,759.7 1646.0,758.6 1648.0,758.9 1650.0,758.1 1652.0,760.6 1654.0,760.2 1656.0,758.3 1658.0,758.4 1660.0,758.7 1662.0,759.4 1664.0,758.4 1666.0,757.8 1668.0,758.4 1670.0,757.3 1672.0,755.3 1674.0,754.8 1676.0,756.4 1678.0,756.9 1680.0,754.4 1682.0,754.0 1684.0,757.1 1686.0,757.2 1688.0,755.4 1690.0,755.7 1692.0,754.7 1694.0,753.4 1696.0,752.8 1698.0,752.9 1700.0,750.7 1702.0,753.0 1704.0,755.3 1706.0,751.8 1708.0,749.6 1710.0,747.4 1712.0,747.2 1714.0,746.5 1716.0,744.8 1718.0,742.2 1720.0,740.6 1722.0,742.4 1724.0,740.0 1726.0,737.0 1728.0,735.2 1730.0,733.2 1732.0,731.6 1734.0,727.5 1736.0,722.3 1738.0,718.0 1740.0,712.3 1742.0,705.2 1744.0,700.1 1746.0,695.6 1748.0,687.9 1750.0,679.6 1752.0,675.0 1754.0,667.6 1756.0,656.1 1758.0,650.4 1760.0,643.4 1762.0,633.2 1764.0,629.4 1766.0,629.1 1768.0,631.3 1770.0,635.2 1772.0,634.8 1774.0,638.2 1776.0,645.1 1778.0,650.1 1780.0,656.0 1782.0,659.9 1784.0,665.2 1786.0,673.3 1788.0,679.8 1790.0,686.6 1792.0,694.3 1794.0,698.6 1796.0,703.3 1798.0,706.0 1800.0,706.0 1802.0,708.5 1804.0,709.6 1806.0,707.8 1808.0,706.4 1810.0,710.6 1812.0,714.9 1814.0,715.5 1816.0,715.5 1818.0,715.9 1820.0,719.5 1822.0,720.4 1824.0,717.8 1826.0,717.6 1828.0,721.0 1830.0,720.6 1832.0,716.3 1834.0,715.2 1836.0,716.9 1838.0,720.7 1840.0,722.6 1842.0,720.9 1844.0,719.5 1846.0,720.4 1848.0,721.8 1850.0,721.4 1852.0,721.3 1854.0,721.1 1856.0,723.5 1858.0,721.6 1860.0,719.5 1862.0,720.9 1864.0,721.5 1866.0,722.2 1868.0,721.6 1870.0,722.2 1872.0,721.8 1874.0,722.1 1876.0,719.9 1878.0,719.6 1880.0,720.7 1882.0,719.8 1884.0,721.7 1886.0,722.4 1888.0,722.7 1890.0,718.3 1892.0,714.5 1894.0,718.2 1896.0,717.8 1898.0,716.1 1900.0,719.4 1902.0,720.5 1904.0,716.9 1906.0,716.1 1908.0,717.9 1910.0,717.1 1912.0,715.9 1914.0,715.7 1916.0,713.6 1918.0,713.2 1920.0,713.5 1922.0,713.4 1924.0,714.7 1926.0,712.6 1928.0,712.3 1930.0,713.3 1932.0,711.8 1934.0,711.6 1936.0,710.6 1938.0,708.6 1940.0,708.4 1942.0,708.0 1944.0,708.6 1946.0,704.8 1948.0,702.2 1950.0,701.9 1952.0,700.8 1954.0,703.0 1956.0,702.9 1958.0,703.1 1960.0,702.8 1962.0,697.1 1964.0,694.5 1966.0,699.3 1968.0,702.0 1970.0,699.1 1972.0,694.0 1974.0,695.6 1976.0,693.4 1978.0,689.3 1980.0,690.2 1982.0,688.3 1984.0,685.1 1986.0,682.7 1988.0,684.3 1990.0,682.7 1992.0,677.9 1994.0,677.2 1996.0,677.8 1998.0,676.3 2000.0,673.7 2002.0,673.3 2004.0,672.8 2006.0,669.1 2008.0,668.1 2010.0,668.0 2012.0,666.3 2014.0,662.2 2016.0,659.2 2018.0,660.6 2020.0,661.5 2022.0,660.0 2024.0,657.8 2026.0,657.5 2028.0,658.1 2030.0,659.1 2032.0,658.0 2034.0,654.3 2036.0,654.0 2038.0,651.8 2040.0,651.0 2042.0,653.1 2044.0,653.0 2046.0,654.8 2048.0,655.7 2050.0,654.0 2052.0,654.6 2054.0,656.8 2056.0,658.7 2058.0,661.6 2060.0,661.4 2062.0,663.0 2064.0,667.4 2066.0,667.1 2068.0,667.4 2070.0,666.8 2072.0,666.1 2074.0,670.7 2076.0,669.9 2078.0,668.6 2080.0,670.7 2082.0,673.7 2084.0,677.2 2086.0,675.1 2088.0,674.0 2090.0,671.5 2092.0,673.0 2094.0,677.9 2096.0,679.0 2098.0,675.2 2100.0,674.0 2102.0,677.3 2104.0,673.0 2106.0,672.6 2108.0,676.4 2110.0,678.6 2112.0,678.7 2114.0,676.3 2116.0,676.2 2118.0,676.1 2120.0,673.8 2122.0,671.6 2124.0,672.0 2126.0,673.0 2128.0,674.7 2130.0,673.0 2132.0,671.9 2134.0,672.5 2136.0,671.3 2138.0,668.9 2140.0,665.3 2142.0,665.8 2144.0,668.2 2146.0,668.6 2148.0,668.0 2150.0,667.9 2152.0,668.0 2154.0,667.5 2156.0,664.7 2158.0,664.9 2160.0,665.4 2162.0,667.0 2164.0,666.1 2166.0,663.1 2168.0,662.3 2170.0,663.4 2172.0,664.6 2174.0,663.0 2176.0,658.7 2178.0,654.3 2180.0,655.7 2182.0,658.3 2184.0,659.1 2186.0,653.9 2188.0,650.1 2190.0,649.0 2192.0,646.5 2194.0,647.7 2196.0,649.5 2198.0,647.8 2200.0,643.8 2202.0,642.9 2204.0,644.9 2206.0,648.0 2208.0,642.0 2210.0,636.1 2212.0,636.5 2214.0,637.4 2216.0,637.3 2218.0,636.5 2220.0,632.7 2222.0,628.8 2224.0,628.5 2226.0,625.3 2228.0,624.6 2230.0,623.2 2232.0,625.8 2234.0,627.3 2236.0,620.8 2238.0,617.9 2240.0,621.4 2242.0,620.5 2244.0,617.6" fill="none" stroke="#8000FF" stroke-width="6" stroke-linejoin="round" stroke-linecap="round"/>
<polyline points="1440.0,947.3 1442.0,946.4 1444.0,944.9 1446.0,943.5 1448.0,943.9 1450.0,946.1 1452.0,946.1 1454.0,945.5 1456.0,945.9 1458.0,944.9 1460.0,945.7 1462.0,945.6 1464.0,944.1 1466.0,946.2 1468.0,945.8 1470.0,944.1 1472.0,943.8 1474.0,943.9 1476.0,942.9 1478.0,942.3 1480.0,944.7 1482.0,945.2 1484.0,944.1 1486.0,944.3 1488.0,944.8 1490.0,944.8 1492.0,945.0 1494.0,944.0 1496.0,944.2 1498.0,945.0 1500.0,945.3 1502.0,945.9 1504.0,945.0 1506.0,945.2 1508.0,945.4 1510.0,946.3 1512.0,947.1 1514.0,947.2 1516.0,946.6 1518.0,947.3 1520.0,948.0 1522.0,948.0 1524.0,948.9 1526.0,947.4 1528.0,947.2 1530.0,947.8 1532.0,948.0 1534.0,949.5 1536.0,949.8 1538.0,949.7 1540.0,948.6 1542.0,948.2 1544.0,949.4 1546.0,950.2 1548.0,949.7 1550.0,949.5 1552.0,950.4 1554.0,949.1 1556.0,948.2 1558.0,949.8 1560.0,949.8 1562.0,948.8 1564.0,950.5 1566.0,951.7 1568.0,951.1 1570.0,951.1 1572.0,951.2 1574.0,950.9 1576.0,951.0 1578.0,951.9 1580.0,953.4 1582.0,953.1 1584.0,952.3 1586.0,952.7 1588.0,952.1 1590.0,952.7 1592.0,954.6 1594.0,954.0 1596.0,954.3 1598.0,954.7 1600.0,955.2 1602.0,956.8 1604.0,955.8 1606.0,953.5 1608.0,953.6 1610.0,954.2 1612.0,953.5 1614.0,954.4 1616.0,956.5 1618.0,956.6 1620.0,955.3 1622.0,953.9 1624.0,953.5 1626.0,953.8 1628.0,954.6 1630.0,955.2 1632.0,954.6 1634.0,954.9 1636.0,954.7 1638.0,955.3 1640.0,955.8 1642.0,954.6 1644.0,954.2 1646.0,954.8 1648.0,955.6 1650.0,955.1 1652.0,955.0 1654.0,954.3 1656.0,952.7 1658.0,951.8 1660.0,952.5 1662.0,952.6 1664.0,950.8 1666.0,952.1 1668.0,952.2 1670.0,950.5 1672.0,951.4 1674.0,951.3 1676.0,950.7 1678.0,949.9 1680.0,948.9 1682.0,949.3 1684.0,947.7 1686.0,947.2 1688.0,945.5 1690.0,942.3 1692.0,940.7 1694.0,938.8 1696.0,934.8 1698.0,929.6 1700.0,925.8 1702.0,922.5 1704.0,916.5 1706.0,908.0 1708.0,900.8 1710.0,895.0 1712.0,887.9 1714.0,881.0 1716.0,873.1 1718.0,866.2 1720.0,861.4 1722.0,855.4 1724.0,850.0 1726.0,846.8 1728.0,843.1 1730.0,841.7 1732.0,841.4 1734.0,841.8 1736.0,846.4 1738.0,850.1 1740.0,850.4 1742.0,853.5 1744.0,857.8 1746.0,859.6 1748.0,865.1 1750.0,875.4 1752.0,882.8 1754.0,886.0 1756.0,888.9 1758.0,895.0 1760.0,898.2 1762.0,903.6 1764.0,911.1 1766.0,913.3 1768.0,915.5 1770.0,918.6 1772.0,920.5 1774.0,921.7 1776.0,923.7 1778.0,924.4 1780.0,926.0 1782.0,928.6 1784.0,930.8 1786.0,930.0 1788.0,928.7 1790.0,930.2 1792.0,931.0 1794.0,933.3 1796.0,932.7 1798.0,930.9 1800.0,930.1 1802.0,931.8 1804.0,934.9 1806.0,935.9 1808.0,934.7 1810.0,932.6 1812.0,932.2 1814.0,931.7 1816.0,930.4 1818.0,933.1 1820.0,934.4 1822.0,933.7 1824.0,933.7 1826.0,934.7 1828.0,936.5 1830.0,934.4 1832.0,932.5 1834.0,932.6 1836.0,934.4 1838.0,936.4 1840.0,934.7 1842.0,935.8 1844.0,936.2 1846.0,932.4 1848.0,930.1 1850.0,931.1 1852.0,933.5 1854.0,932.8 1856.0,932.7 1858.0,934.3 1860.0,933.6 1862.0,932.9 1864.0,934.4 1866.0,933.7 1868.0,930.9 1870.0,930.5 1872.0,931.3 1874.0,932.8 1876.0,931.3 1878.0,926.8 1880.0,927.2 1882.0,928.9 1884.0,927.7 1886.0,927.5 1888.0,927.9 1890.0,928.2 1892.0,926.4 1894.0,923.8 1896.0,924.1 1898.0,923.8 1900.0,924.6 1902.0,925.2 1904.0,923.2 1906.0,923.6 1908.0,923.5 1910.0,922.3 1912.0,922.0 1914.0,920.0 1916.0,918.2 1918.0,917.8 1920.0,916.0 1922.0,915.0 1924.0,916.6 1926.0,916.8 1928.0,914.1 1930.0,915.8 1932.0,915.1 1934.0,912.4 1936.0,913.7 1938.0,913.6 1940.0,910.9 1942.0,908.4 1944.0,908.0 1946.0,908.0 1948.0,907.3 1950.0,904.8 1952.0,903.3 1954.0,903.4 1956.0,901.8 1958.0,898.7 1960.0,894.9 1962.0,892.9 1964.0,890.7 1966.0,889.1 1968.0,888.9 1970.0,884.6 1972.0,881.0 1974.0,879.9 1976.0,879.4 1978.0,876.8 1980.0,874.1 1982.0,872.1 1984.0,869.4 1986.0,867.1 1988.0,865.8 1990.0,865.6 1992.0,864.4 1994.0,860.8 1996.0,861.2 1998.0,862.9 2000.0,860.1 2002.0,859.5 2004.0,858.8 2006.0,856.3 2008.0,855.7 2010.0,858.4 2012.0,859.2 2014.0,857.2 2016.0,856.7 2018.0,855.2 2020.0,855.0 2022.0,855.5 2024.0,856.5 2026.0,853.8 2028.0,852.7 2030.0,854.5 2032.0,851.9 2034.0,855.8 2036.0,864.0 2038.0,866.8 2040.0,865.8 2042.0,865.1 2044.0,862.6 2046.0,863.2 2048.0,866.3 2050.0,864.9 2052.0,865.1 2054.0,865.7 2056.0,868.6 2058.0,868.0 2060.0,864.0 2062.0,863.0 2064.0,863.8 2066.0,867.1 2068.0,867.8 2070.0,867.0 2072.0,868.4 2074.0,869.8 2076.0,870.4 2078.0,870.0 2080.0,866.2 2082.0,866.2 2084.0,867.3 2086.0,868.6 2088.0,868.9 2090.0,866.4 2092.0,865.5 2094.0,861.8 2096.0,859.2 2098.0,860.4 2100.0,858.3 2102.0,855.5 2104.0,855.7 2106.0,854.5 2108.0,853.4 2110.0,854.5 2112.0,854.0 2114.0,853.2 2116.0,853.5 2118.0,852.0 2120.0,850.6 2122.0,855.1 2124.0,859.3 2126.0,856.9 2128.0,856.8 2130.0,859.0 2132.0,859.4 2134.0,857.6 2136.0,854.3 2138.0,853.0 2140.0,854.6 2142.0,858.2 2144.0,860.5 2146.0,858.0 2148.0,854.9 2150.0,856.6 2152.0,859.6 2154.0,856.1 2156.0,853.2 2158.0,854.2 2160.0,852.4 2162.0,851.0 2164.0,850.3 2166.0,849.9 2168.0,847.3 2170.0,846.3 2172.0,848.0 2174.0,847.0 2176.0,844.3 2178.0,840.8 2180.0,836.9 2182.0,834.5 2184.0,828.4 2186.0,823.2 2188.0,826.8 2190.0,829.6 2192.0,828.2 2194.0,828.6 2196.0,831.1 2198.0,832.6 2200.0,833.1 2202.0,834.8 2204.0,835.9 2206.0,833.8 2208.0,830.2 2210.0,828.7 2212.0,828.1 2214.0,827.0 2216.0,821.7 2218.0,815.3 2220.0,815.6 2222.0,811.7 2224.0,807.8 2226.0,807.8 2228.0,805.4 2230.0,801.6 2232.0,799.6 2234.0,796.8 2236.0,796.6 2238.0,796.2 2240.0,792.7" fill="none" stroke="#0000EE" stroke-width="5.5" stroke-linejoin="round" stroke-linecap="round"/>
<polyline points="1440.0,1104.9 1441.3,1105.4 1442.6,1106.9 1443.9,1106.0 1445.2,1107.2 1446.5,1107.5 1447.8,1105.4 1449.1,1107.9 1450.4,1106.4 1451.7,1109.2 1453.0,1107.9 1454.3,1106.7 1455.6,1107.5 1456.9,1107.6 1458.2,1107.8 1459.5,1108.9 1460.8,1108.1 1462.1,1109.4 1463.4,1108.4 1464.7,1107.6 1466.0,1106.3 1467.3,1106.4 1468.6,1108.2 1469.9,1108.8 1471.2,1109.6 1472.5,1107.6 1473.8,1108.4 1475.1,1107.5 1476.4,1108.0 1477.7,1106.1 1479.0,1109.3 1480.3,1107.8 1481.6,1108.6 1482.9,1109.2 1484.2,1109.1 1485.5,1107.4 1486.8,1110.4 1488.1,1109.7 1489.4,1109.5 1490.7,1108.3 1492.0,1107.3 1493.3,1107.3 1494.6,1108.9 1495.9,1109.3 1497.2,1108.4 1498.5,1111.2 1499.8,1109.6 1501.1,1110.4 1502.4,1110.3 1503.7,1108.2 1505.0,1110.5 1506.3,1109.9 1507.6,1108.1 1508.9,1110.3 1510.2,1110.7 1511.5,1110.6 1512.8,1110.7 1514.1,1108.0 1515.4,1109.4 1516.7,1109.1 1518.0,1109.8 1519.3,1109.8 1520.6,1111.0 1521.9,1110.6 1523.2,1108.9 1524.5,1110.9 1525.8,1111.7 1527.1,1110.2 1528.4,1108.2 1529.7,1109.2 1531.0,1109.8 1532.3,1108.1 1533.6,1109.8 1534.9,1108.5 1536.2,1111.0 1537.5,1110.9 1538.8,1110.0 1540.1,1108.6 1541.4,1110.5 1542.7,1109.4 1544.0,1109.3 1545.3,1111.5 1546.6,1109.3 1547.9,1108.5 1549.2,1111.1 1550.5,1112.3 1551.8,1112.1 1553.1,1111.1 1554.4,1112.7 1555.7,1109.8 1557.0,1112.9 1558.3,1112.8 1559.6,1109.8 1560.9,1110.7 1562.2,1108.6 1563.5,1108.9 1564.8,1110.9 1566.1,1108.7 1567.4,1110.5 1568.7,1110.8 1570.0,1110.4 1571.3,1111.4 1572.6,1112.7 1573.9,1110.4 1575.2,1111.5 1576.5,1112.1 1577.8,1109.6 1579.1,1109.4 1580.4,1107.1 1581.7,1110.8 1583.0,1111.6 1584.3,1110.8 1585.6,1113.0 1586.9,1112.2 1588.2,1111.3 1589.5,1110.2 1590.8,1109.1 1592.1,1110.4 1593.4,1110.9 1594.7,1110.2 1596.0,1109.8 1597.3,1109.7 1598.6,1111.2 1599.9,1107.9 1601.2,1109.8 1602.5,1110.3 1603.8,1111.2 1605.1,1111.2 1606.4,1109.9 1607.7,1109.4 1609.0,1108.6 1610.3,1111.9 1611.6,1111.1 1612.9,1110.5 1614.2,1109.2 1615.5,1108.7 1616.8,1111.9 1618.1,1110.2 1619.4,1110.9 1620.7,1112.8 1622.0,1108.1 1623.3,1109.1 1624.6,1110.8 1625.9,1111.1 1627.2,1108.7 1628.5,1110.1 1629.8,1109.4 1631.1,1109.4 1632.4,1110.8 1633.7,1110.5 1635.0,1112.0 1636.3,1111.1 1637.6,1112.5 1638.9,1109.0 1640.2,1110.9 1641.5,1108.1 1642.8,1107.7 1644.1,1108.0 1645.4,1111.1 1646.7,1110.3 1648.0,1107.3 1649.3,1111.7 1650.6,1111.0 1651.9,1109.1 1653.2,1108.8 1654.5,1108.9 1655.8,1106.8 1657.1,1112.1 1658.4,1107.5 1659.7,1107.6 1661.0,1107.1 1662.3,1106.2 1663.6,1105.4 1664.9,1106.5 1666.2,1102.9 1667.5,1101.9 1668.8,1100.8 1670.1,1101.8 1671.4,1097.1 1672.7,1094.8 1674.0,1094.3 1675.3,1089.2 1676.6,1087.7 1677.9,1086.6 1679.2,1082.5 1680.5,1078.4 1681.8,1077.5 1683.1,1071.0 1684.4,1067.4 1685.7,1062.2 1687.0,1062.3 1688.3,1060.5 1689.6,1055.7 1690.9,1057.5 1692.2,1054.0 1693.5,1052.0 1694.8,1046.6 1696.1,1047.4 1697.4,1046.1 1698.7,1040.9 1700.0,1043.9 1701.3,1043.5 1702.6,1040.8 1703.9,1044.7 1705.2,1047.5 1706.5,1045.2 1707.8,1042.7 1709.1,1044.5 1710.4,1047.9 1711.7,1045.5 1713.0,1048.7 1714.3,1049.4 1715.6,1051.1 1716.9,1055.3 1718.2,1051.2 1719.5,1057.7 1720.8,1057.9 1722.1,1059.4 1723.4,1058.7 1724.7,1064.4 1726.0,1064.9 1727.3,1061.7 1728.6,1065.9 1729.9,1067.5 1731.2,1068.9 1732.5,1070.8 1733.8,1071.4 1735.1,1076.9 1736.4,1077.0 1737.7,1075.9 1739.0,1079.8 1740.3,1082.3 1741.6,1080.2 1742.9,1077.7 1744.2,1082.1 1745.5,1085.1 1746.8,1081.4 1748.1,1084.3 1749.4,1087.1 1750.7,1088.6 1752.0,1088.9 1753.3,1089.0 1754.6,1088.9 1755.9,1089.0 1757.2,1093.0 1758.5,1093.6 1759.8,1091.5 1761.1,1091.7 1762.4,1096.1 1763.7,1096.2 1765.0,1093.1 1766.3,1091.8 1767.6,1095.9 1768.9,1097.7 1770.2,1098.4 1771.5,1098.5 1772.8,1093.9 1774.1,1097.3 1775.4,1096.6 1776.7,1095.9 1778.0,1103.0 1779.3,1097.5 1780.6,1098.1 1781.9,1097.0 1783.2,1099.1 1784.5,1100.1 1785.8,1097.1 1787.1,1097.6 1788.4,1096.8 1789.7,1095.6 1791.0,1097.4 1792.3,1098.6 1793.6,1097.9 1794.9,1097.4 1796.2,1093.9 1797.5,1098.8 1798.8,1098.5 1800.1,1101.6 1801.4,1096.9 1802.7,1095.3 1804.0,1094.2 1805.3,1097.1 1806.6,1098.5 1807.9,1099.2 1809.2,1095.2 1810.5,1097.5 1811.8,1101.1 1813.1,1099.0 1814.4,1098.1 1815.7,1098.1 1817.0,1095.3 1818.3,1095.7 1819.6,1097.7 1820.9,1101.7 1822.2,1101.5 1823.5,1098.4 1824.8,1100.1 1826.1,1099.6 1827.4,1101.2 1828.7,1096.7 1830.0,1098.9 1831.3,1100.4 1832.6,1095.1 1833.9,1097.7 1835.2,1098.4 1836.5,1098.7 1837.8,1098.8 1839.1,1098.8 1840.4,1099.7 1841.7,1100.6 1843.0,1098.0 1844.3,1102.3 1845.6,1095.8 1846.9,1096.4 1848.2,1097.5 1849.5,1094.7 1850.8,1092.9 1852.1,1093.2 1853.4,1099.3 1854.7,1094.7 1856.0,1092.9 1857.3,1100.8 1858.6,1097.0 1859.9,1096.4 1861.2,1093.5 1862.5,1096.5 1863.8,1094.4 1865.1,1096.2 1866.4,1095.4 1867.7,1094.8 1869.0,1095.8 1870.3,1092.8 1871.6,1093.9 1872.9,1092.9 1874.2,1095.8 1875.5,1096.5 1876.8,1096.6 1878.1,1089.4 1879.4,1098.7 1880.7,1093.5 1882.0,1093.6 1883.3,1093.6 1884.6,1093.4 1885.9,1096.6 1887.2,1093.4 1888.5,1093.6 1889.8,1095.1 1891.1,1095.7 1892.4,1089.2 1893.7,1088.3 1895.0,1086.1 1896.3,1085.8 1897.6,1091.4 1898.9,1090.4 1900.2,1089.7 1901.5,1090.3 1902.8,1089.9 1904.1,1091.9 1905.4,1093.0 1906.7,1085.7 1908.0,1091.6 1909.3,1090.1 1910.6,1084.5 1911.9,1086.9 1913.2,1084.8 1914.5,1080.8 1915.8,1085.2 1917.1,1080.1 1918.4,1084.4 1919.7,1080.9 1921.0,1082.4 1922.3,1085.2 1923.6,1082.7 1924.9,1079.6 1926.2,1082.1 1927.5,1082.9 1928.8,1083.2 1930.1,1077.4 1931.4,1082.6 1932.7,1078.2 1934.0,1076.5 1935.3,1080.8 1936.6,1078.5 1937.9,1078.0 1939.2,1075.7 1940.5,1069.3 1941.8,1075.2 1943.1,1074.8 1944.4,1072.0 1945.7,1076.7 1947.0,1071.3 1948.3,1075.3 1949.6,1073.2 1950.9,1067.0 1952.2,1065.9 1953.5,1066.9 1954.8,1067.1 1956.1,1068.9 1957.4,1064.5 1958.7,1062.7 1960.0,1072.0 1961.3,1065.1 1962.6,1065.5 1963.9,1069.5 1965.2,1064.1 1966.5,1056.1 1967.8,1064.4 1969.1,1060.6 1970.4,1065.2 1971.7,1056.1 1973.0,1062.0 1974.3,1063.6 1975.6,1065.3 1976.9,1063.6 1978.2,1063.2 1979.5,1060.0 1980.8,1059.8 1982.1,1056.5 1983.4,1062.6 1984.7,1064.4 1986.0,1061.2 1987.3,1056.4 1988.6,1054.6 1989.9,1057.3 1991.2,1064.0 1992.5,1059.4 1993.8,1055.6 1995.1,1057.5 1996.4,1061.3 1997.7,1056.4 1999.0,1056.9 2000.3,1056.7 2001.6,1055.5 2002.9,1064.8 2004.2,1055.7 2005.5,1059.3 2006.8,1062.3 2008.1,1058.1 2009.4,1057.2 2010.7,1058.2 2012.0,1058.9 2013.3,1058.5 2014.6,1058.0 2015.9,1058.5 2017.2,1060.5 2018.5,1066.5 2019.8,1059.5 2021.1,1064.0 2022.4,1061.0 2023.7,1058.7 2025.0,1058.5 2026.3,1063.9 2027.6,1058.6 2028.9,1065.0 2030.2,1062.6 2031.5,1070.0 2032.8,1060.7 2034.1,1068.4 2035.4,1069.6 2036.7,1067.7 2038.0,1063.0 2039.3,1066.1 2040.6,1065.4 2041.9,1064.4 2043.2,1068.1 2044.5,1064.6 2045.8,1065.7 2047.1,1068.6 2048.4,1064.3 2049.7,1063.3 2051.0,1065.3 2052.3,1062.7 2053.6,1056.0 2054.9,1062.5 2056.2,1063.6 2057.5,1059.8 2058.8,1057.2 2060.1,1065.6 2061.4,1061.4 2062.7,1066.0 2064.0,1065.3 2065.3,1069.1 2066.6,1065.5 2067.9,1066.6 2069.2,1068.2 2070.5,1061.6 2071.8,1066.9 2073.1,1067.1 2074.4,1055.7 2075.7,1058.3 2077.0,1062.8 2078.3,1068.5 2079.6,1060.6 2080.9,1056.9 2082.2,1055.5 2083.5,1062.6 2084.8,1062.0 2086.1,1058.5 2087.4,1061.9 2088.7,1059.1 2090.0,1064.6 2091.3,1054.5 2092.6,1057.8 2093.9,1063.7 2095.2,1056.6 2096.5,1055.3 2097.8,1057.2 2099.1,1065.2 2100.4,1058.7 2101.7,1062.8 2103.0,1053.3 2104.3,1055.8 2105.6,1058.9 2106.9,1056.8 2108.2,1053.3 2109.5,1046.1 2110.8,1056.8 2112.1,1057.3 2113.4,1055.8 2114.7,1046.6 2116.0,1047.3 2117.3,1050.3 2118.6,1048.2 2119.9,1056.2 2121.2,1047.1 2122.5,1049.9 2123.8,1046.4 2125.1,1043.4 2126.4,1054.4 2127.7,1050.6 2129.0,1046.8 2130.3,1049.5 2131.6,1040.0 2132.9,1055.3 2134.2,1044.2 2135.5,1040.3 2136.8,1043.5 2138.1,1048.6 2139.4,1047.4 2140.7,1049.9 2142.0,1049.8 2143.3,1046.7 2144.6,1050.6 2145.9,1038.2 2147.2,1047.6 2148.5,1047.3 2149.8,1046.5 2151.1,1044.0 2152.4,1042.1 2153.7,1041.4 2155.0,1036.4 2156.3,1041.1 2157.6,1047.6 2158.9,1048.8 2160.2,1040.1 2161.5,1039.4 2162.8,1039.1 2164.1,1040.2 2165.4,1040.4 2166.7,1042.0 2168.0,1045.7 2169.3,1030.0 2170.6,1033.7 2171.9,1035.8 2173.2,1037.1 2174.5,1038.7 2175.8,1044.3 2177.1,1031.7 2178.4,1038.1 2179.7,1034.3 2181.0,1034.4 2182.3,1035.0 2183.6,1036.9 2184.9,1033.0 2186.2,1026.9 2187.5,1033.4 2188.8,1032.9 2190.1,1023.0 2191.4,1031.4 2192.7,1028.4 2194.0,1027.3 2195.3,1027.8 2196.6,1034.7 2197.9,1018.3 2199.2,1026.1 2200.5,1015.8 2201.8,1023.8 2203.1,1027.2 2204.4,1013.8 2205.7,1026.8 2207.0,1023.0 2208.3,1019.5 2209.6,1018.5 2210.9,1018.6 2212.2,1018.3 2213.5,1017.2 2214.8,1021.8 2216.1,1020.1 2217.4,1011.5 2218.7,1020.4 2220.0,1023.5 2221.3,1022.0 2222.6,1015.2 2223.9,1005.7 2225.2,1010.3 2226.5,1011.6 2227.8,1011.2 2229.1,1003.9 2230.4,1013.4 2231.7,1014.1 2233.0,1002.5 2234.3,1004.6 2235.6,1002.5 2236.9,1006.8 2238.2,1011.2 2239.5,994.3 2240.8,1011.3 2242.1,1007.2 2243.4,994.8" fill="none" stroke="#178017" stroke-width="3.4" stroke-linejoin="round" stroke-linecap="round"/>
<polyline points="1441.9,1358.9 1443.2,1360.1 1444.5,1360.5 1445.8,1360.5 1447.1,1361.3 1448.4,1359.0 1449.7,1359.9 1451.0,1359.0 1452.3,1357.9 1453.6,1358.5 1454.9,1359.3 1456.2,1358.2 1457.5,1358.9 1458.8,1360.1 1460.1,1359.5 1461.4,1359.4 1462.7,1359.1 1464.0,1358.5 1465.3,1356.7 1466.6,1359.5 1467.9,1356.9 1469.2,1358.5 1470.5,1358.1 1471.8,1358.3 1473.1,1358.3 1474.4,1357.6 1475.7,1358.8 1477.0,1356.4 1478.3,1358.5 1479.6,1355.8 1480.9,1358.6 1482.2,1356.7 1483.5,1357.5 1484.8,1358.5 1486.1,1354.5 1487.4,1356.2 1488.7,1357.0 1490.0,1357.1 1491.3,1357.4 1492.6,1356.3 1493.9,1356.0 1495.2,1355.3 1496.5,1355.2 1497.8,1354.8 1499.1,1355.5 1500.4,1354.3 1501.7,1354.6 1503.0,1355.3 1504.3,1354.6 1505.6,1352.6 1506.9,1352.6 1508.2,1353.2 1509.5,1351.4 1510.8,1349.8 1512.1,1350.5 1513.4,1351.9 1514.7,1350.8 1516.0,1350.4 1517.3,1351.3 1518.6,1349.1 1519.9,1352.6 1521.2,1349.8 1522.5,1349.2 1523.8,1351.6 1525.1,1347.8 1526.4,1348.3 1527.7,1348.6 1529.0,1347.4 1530.3,1347.9 1531.6,1348.9 1532.9,1348.2 1534.2,1347.8 1535.5,1348.9 1536.8,1349.8 1538.1,1349.3 1539.4,1344.8 1540.7,1348.8 1542.0,1347.9 1543.3,1347.4 1544.6,1345.6 1545.9,1346.1 1547.2,1346.2 1548.5,1344.6 1549.8,1347.7 1551.1,1347.1 1552.4,1345.9 1553.7,1344.6 1555.0,1347.2 1556.3,1346.2 1557.6,1346.6 1558.9,1344.6 1560.2,1347.9 1561.5,1344.5 1562.8,1346.9 1564.1,1341.8 1565.4,1344.4 1566.7,1343.9 1568.0,1340.4 1569.3,1342.5 1570.6,1341.5 1571.9,1341.0 1573.2,1341.5 1574.5,1340.6 1575.8,1342.2 1577.1,1342.1 1578.4,1341.5 1579.7,1339.7 1581.0,1339.7 1582.3,1342.1 1583.6,1339.0 1584.9,1339.0 1586.2,1337.8 1587.5,1338.7 1588.8,1338.7 1590.1,1338.0 1591.4,1336.9 1592.7,1336.4 1594.0,1334.3 1595.3,1334.4 1596.6,1331.2 1597.9,1331.7 1599.2,1331.7 1600.5,1328.3 1601.8,1329.9 1603.1,1328.5 1604.4,1325.7 1605.7,1324.3 1607.0,1323.6 1608.3,1323.7 1609.6,1324.9 1610.9,1324.0 1612.2,1324.5 1613.5,1325.0 1614.8,1320.1 1616.1,1316.7 1617.4,1316.1 1618.7,1313.8 1620.0,1314.1 1621.3,1312.6 1622.6,1313.3 1623.9,1307.3 1625.2,1307.0 1626.5,1304.9 1627.8,1302.5 1629.1,1299.0 1630.4,1299.9 1631.7,1293.4 1633.0,1290.7 1634.3,1289.1 1635.6,1285.9 1636.9,1285.8 1638.2,1279.1 1639.5,1278.3 1640.8,1275.5 1642.1,1273.8 1643.4,1272.8 1644.7,1268.2 1646.0,1263.7 1647.3,1264.2 1648.6,1259.5 1649.9,1258.2 1651.2,1252.3 1652.5,1251.6 1653.8,1248.6 1655.1,1246.0 1656.4,1247.6 1657.7,1248.5 1659.0,1246.8 1660.3,1246.5 1661.6,1246.2 1662.9,1246.1 1664.2,1245.5 1665.5,1249.3 1666.8,1248.4 1668.1,1245.8 1669.4,1251.1 1670.7,1251.3 1672.0,1254.0 1673.3,1256.5 1674.6,1260.8 1675.9,1257.3 1677.2,1263.1 1678.5,1266.2 1679.8,1267.2 1681.1,1266.7 1682.4,1269.3 1683.7,1273.7 1685.0,1277.7 1686.3,1273.8 1687.6,1277.9 1688.9,1281.2 1690.2,1282.8 1691.5,1285.0 1692.8,1287.6 1694.1,1288.5 1695.4,1286.0 1696.7,1289.4 1698.0,1289.3 1699.3,1292.5 1700.6,1296.4 1701.9,1296.7 1703.2,1300.1 1704.5,1299.6 1705.8,1300.1 1707.1,1301.0 1708.4,1298.9 1709.7,1300.8 1711.0,1303.1 1712.3,1304.3 1713.6,1304.8 1714.9,1302.8 1716.2,1303.2 1717.5,1303.7 1718.8,1309.8 1720.1,1306.8 1721.4,1309.2 1722.7,1308.1 1724.0,1308.5 1725.3,1308.9 1726.6,1309.1 1727.9,1310.3 1729.2,1312.0 1730.5,1308.2 1731.8,1310.9 1733.1,1310.3 1734.4,1310.0 1735.7,1312.1 1737.0,1314.0 1738.3,1308.3 1739.6,1311.2 1740.9,1313.1 1742.2,1312.6 1743.5,1307.8 1744.8,1312.0 1746.1,1310.2 1747.4,1310.1 1748.7,1312.4 1750.0,1308.7 1751.3,1311.0 1752.6,1312.0 1753.9,1308.8 1755.2,1307.8 1756.5,1313.9 1757.8,1307.4 1759.1,1312.0 1760.4,1307.9 1761.7,1309.7 1763.0,1308.3 1764.3,1309.7 1765.6,1309.7 1766.9,1307.2 1768.2,1309.2 1769.5,1311.5 1770.8,1308.0 1772.1,1305.0 1773.4,1310.3 1774.7,1308.0 1776.0,1310.6 1777.3,1309.1 1778.6,1308.3 1779.9,1309.5 1781.2,1310.9 1782.5,1310.8 1783.8,1307.3 1785.1,1307.2 1786.4,1307.5 1787.7,1312.7 1789.0,1310.6 1790.3,1308.1 1791.6,1309.5 1792.9,1312.9 1794.2,1307.4 1795.5,1308.8 1796.8,1311.3 1798.1,1311.2 1799.4,1310.9 1800.7,1307.3 1802.0,1309.2 1803.3,1303.6 1804.6,1308.0 1805.9,1307.3 1807.2,1307.1 1808.5,1311.0 1809.8,1307.6 1811.1,1307.3 1812.4,1309.2 1813.7,1311.5 1815.0,1305.2 1816.3,1308.5 1817.6,1305.9 1818.9,1302.6 1820.2,1304.6 1821.5,1306.5 1822.8,1304.8 1824.1,1304.0 1825.4,1304.7 1826.7,1303.7 1828.0,1303.4 1829.3,1301.2 1830.6,1304.8 1831.9,1297.5 1833.2,1303.1 1834.5,1300.4 1835.8,1303.7 1837.1,1298.6 1838.4,1295.2 1839.7,1301.7 1841.0,1302.4 1842.3,1294.9 1843.6,1299.9 1844.9,1299.0 1846.2,1295.2 1847.5,1298.6 1848.8,1294.3 1850.1,1298.4 1851.4,1298.2 1852.7,1293.5 1854.0,1293.0 1855.3,1293.3 1856.6,1287.6 1857.9,1290.1 1859.2,1291.0 1860.5,1296.0 1861.8,1292.7 1863.1,1289.5 1864.4,1285.8 1865.7,1288.3 1867.0,1286.7 1868.3,1282.1 1869.6,1284.1 1870.9,1280.3 1872.2,1281.5 1873.5,1273.2 1874.8,1284.6 1876.1,1278.4 1877.4,1275.8 1878.7,1275.9 1880.0,1272.1 1881.3,1275.0 1882.6,1278.0 1883.9,1274.0 1885.2,1271.2 1886.5,1270.7 1887.8,1270.3 1889.1,1267.9 1890.4,1266.3 1891.7,1267.0 1893.0,1266.7 1894.3,1263.5 1895.6,1265.0 1896.9,1260.0 1898.2,1257.5 1899.5,1256.4 1900.8,1261.8 1902.1,1257.8 1903.4,1258.9 1904.7,1256.0 1906.0,1256.2 1907.3,1256.9 1908.6,1251.5 1909.9,1252.8 1911.2,1258.0 1912.5,1258.6 1913.8,1252.6 1915.1,1252.0 1916.4,1248.9 1917.7,1246.8 1919.0,1251.6 1920.3,1252.3 1921.6,1249.6 1922.9,1249.3 1924.2,1245.2 1925.5,1250.4 1926.8,1247.6 1928.1,1244.7 1929.4,1249.6 1930.7,1244.0 1932.0,1243.5 1933.3,1246.9 1934.6,1243.4 1935.9,1243.3 1937.2,1248.4 1938.5,1247.1 1939.8,1245.1 1941.1,1248.5 1942.4,1247.1 1943.7,1249.1 1945.0,1249.2 1946.3,1249.2 1947.6,1243.4 1948.9,1249.5 1950.2,1246.9 1951.5,1248.3 1952.8,1247.1 1954.1,1249.4 1955.4,1246.5 1956.7,1245.5 1958.0,1248.9 1959.3,1246.0 1960.6,1243.5 1961.9,1246.5 1963.2,1246.2 1964.5,1246.1 1965.8,1246.8 1967.1,1245.2 1968.4,1245.1 1969.7,1256.7 1971.0,1244.6 1972.3,1248.6 1973.6,1248.2 1974.9,1245.6 1976.2,1246.0 1977.5,1244.3 1978.8,1243.9 1980.1,1253.5 1981.4,1244.7 1982.7,1245.5 1984.0,1251.7 1985.3,1244.2 1986.6,1253.5 1987.9,1248.9 1989.2,1254.0 1990.5,1246.6 1991.8,1247.5 1993.1,1252.5 1994.4,1248.9 1995.7,1247.8 1997.0,1253.6 1998.3,1250.4 1999.6,1247.9 2000.9,1250.9 2002.2,1252.8 2003.5,1250.4 2004.8,1259.2 2006.1,1253.4 2007.4,1251.3 2008.7,1252.3 2010.0,1255.0 2011.3,1249.9 2012.6,1250.7 2013.9,1251.7 2015.2,1250.6 2016.5,1250.1 2017.8,1241.1 2019.1,1248.5 2020.4,1250.2 2021.7,1253.7 2023.0,1246.6 2024.3,1249.5 2025.6,1247.9 2026.9,1248.8 2028.2,1254.6 2029.5,1252.9 2030.8,1253.0 2032.1,1242.7 2033.4,1242.7 2034.7,1247.5 2036.0,1240.6 2037.3,1247.3 2038.6,1255.7 2039.9,1238.6 2041.2,1245.8 2042.5,1242.1 2043.8,1242.9 2045.1,1239.8 2046.4,1233.6 2047.7,1237.6 2049.0,1235.7 2050.3,1233.5 2051.6,1237.6 2052.9,1238.6 2054.2,1233.5 2055.5,1239.0 2056.8,1236.7 2058.1,1237.8 2059.4,1237.1 2060.7,1232.9 2062.0,1243.8 2063.3,1236.5 2064.6,1237.5 2065.9,1232.3 2067.2,1233.1 2068.5,1235.8 2069.8,1229.0 2071.1,1232.7 2072.4,1237.1 2073.7,1229.5 2075.0,1230.8 2076.3,1225.1 2077.6,1229.7 2078.9,1230.0 2080.2,1228.0 2081.5,1229.4 2082.8,1225.4 2084.1,1225.3 2085.4,1229.8 2086.7,1228.3 2088.0,1225.2 2089.3,1230.3 2090.6,1222.3 2091.9,1221.3 2093.2,1223.6 2094.5,1229.3 2095.8,1217.8 2097.1,1217.1 2098.4,1216.4 2099.7,1214.1 2101.0,1210.7 2102.3,1217.2 2103.6,1217.6 2104.9,1215.0 2106.2,1213.2 2107.5,1209.0 2108.8,1212.4 2110.1,1209.9 2111.4,1205.2 2112.7,1207.8 2114.0,1201.8 2115.3,1203.8 2116.6,1200.9 2117.9,1206.3 2119.2,1199.3 2120.5,1203.0 2121.8,1194.4 2123.1,1200.1 2124.4,1201.0 2125.7,1196.9 2127.0,1192.8 2128.3,1192.3 2129.6,1194.9 2130.9,1192.9 2132.2,1190.1 2133.5,1185.0 2134.8,1183.8 2136.1,1187.0 2137.4,1184.3 2138.7,1187.7 2140.0,1188.7 2141.3,1185.0 2142.6,1181.1 2143.9,1181.4 2145.2,1184.2 2146.5,1173.7 2147.8,1183.2 2149.1,1181.9 2150.4,1175.3 2151.7,1177.1 2153.0,1176.0 2154.3,1180.1 2155.6,1176.7 2156.9,1169.9 2158.2,1158.1 2159.5,1180.1 2160.8,1173.8 2162.1,1166.8 2163.4,1160.8 2164.7,1164.7 2166.0,1161.0 2167.3,1171.3 2168.6,1167.6 2169.9,1155.1 2171.2,1164.7 2172.5,1158.7 2173.8,1161.5 2175.1,1155.5 2176.4,1148.7 2177.7,1149.3 2179.0,1155.4 2180.3,1158.3 2181.6,1159.9 2182.9,1158.7 2184.2,1150.9 2185.5,1151.4 2186.8,1151.9 2188.1,1147.8 2189.4,1153.0 2190.7,1144.3 2192.0,1147.2 2193.3,1145.2 2194.6,1145.4 2195.9,1150.0 2197.2,1143.6 2198.5,1144.8 2199.8,1141.8 2201.1,1140.5 2202.4,1145.5 2203.7,1135.8 2205.0,1136.9 2206.3,1140.5 2207.6,1138.4 2208.9,1135.7 2210.2,1133.7 2211.5,1127.9 2212.8,1134.8 2214.1,1130.9 2215.4,1138.2 2216.7,1134.8 2218.0,1121.2 2219.3,1133.2 2220.6,1135.3 2221.9,1130.7 2223.2,1132.2 2224.5,1132.4 2225.8,1132.9 2227.1,1125.3 2228.4,1131.2 2229.7,1136.4 2231.0,1123.1 2232.3,1132.2 2233.6,1118.3 2234.9,1132.2 2236.2,1137.2 2237.5,1137.1 2238.8,1127.4 2240.1,1146.7 2241.4,1140.0" fill="none" stroke="#820000" stroke-width="3.4" stroke-linejoin="round" stroke-linecap="round"/>
<polyline points="1445.0,1499.6 1447.2,1499.8 1449.4,1498.9 1451.6,1498.0 1453.8,1497.2 1456.0,1497.9 1458.2,1498.5 1460.4,1498.0 1462.6,1498.4 1464.8,1498.9 1467.0,1497.7 1469.2,1498.3 1471.4,1498.5 1473.6,1499.1 1475.8,1500.7 1478.0,1499.3 1480.2,1499.8 1482.4,1500.2 1484.6,1499.8 1486.8,1499.9 1489.0,1500.2 1491.2,1500.9 1493.4,1499.7 1495.6,1498.8 1497.8,1499.6 1500.0,1499.9 1502.2,1498.3 1504.4,1499.7 1506.6,1499.8 1508.8,1497.3 1511.0,1497.9 1513.2,1499.5 1515.4,1501.5 1517.6,1501.0 1519.8,1499.6 1522.0,1499.7 1524.2,1499.6 1526.4,1499.3 1528.6,1498.6 1530.8,1498.6 1533.0,1499.2 1535.2,1497.1 1537.4,1496.4 1539.6,1497.7 1541.8,1497.7 1544.0,1496.6 1546.2,1495.0 1548.4,1494.5 1550.6,1495.2 1552.8,1494.7 1555.0,1493.2 1557.2,1493.8 1559.4,1492.9 1561.6,1490.6 1563.8,1489.8 1566.0,1488.9 1568.2,1487.8 1570.4,1485.1 1572.6,1481.2 1574.8,1479.2 1577.0,1477.7 1579.2,1473.5 1581.4,1469.1 1583.6,1466.1 1585.8,1461.5 1588.0,1455.8 1590.2,1449.0 1592.4,1441.5 1594.6,1433.5 1596.8,1427.9 1599.0,1422.1 1601.2,1417.2 1603.4,1413.0 1605.6,1410.2 1607.8,1406.9 1610.0,1405.0 1612.2,1405.8 1614.4,1405.2 1616.6,1406.6 1618.8,1409.2 1621.0,1415.4 1623.2,1421.5 1625.4,1425.3 1627.6,1431.9 1629.8,1439.0 1632.0,1442.2 1634.2,1445.8 1636.4,1450.2 1638.6,1454.1 1640.8,1458.1 1643.0,1460.7 1645.2,1462.1 1647.4,1464.6 1649.6,1466.7 1651.8,1466.3 1654.0,1466.9 1656.2,1468.8 1658.4,1470.0 1660.6,1472.9 1662.8,1473.7 1665.0,1473.2 1667.2,1475.5 1669.4,1476.3 1671.6,1476.2 1673.8,1477.7 1676.0,1478.4 1678.2,1478.4 1680.4,1479.6 1682.6,1480.5 1684.8,1480.1 1687.0,1479.4 1689.2,1480.3 1691.4,1482.7 1693.6,1483.0 1695.8,1483.1 1698.0,1483.8 1700.2,1482.9 1702.4,1480.6 1704.6,1480.8 1706.8,1482.3 1709.0,1480.6 1711.2,1480.8 1713.4,1481.5 1715.6,1480.9 1717.8,1479.9 1720.0,1479.2 1722.2,1478.8 1724.4,1478.9 1726.6,1478.9 1728.8,1476.6 1731.0,1476.3 1733.2,1477.2 1735.4,1476.5 1737.6,1475.1 1739.8,1475.8 1742.0,1476.0 1744.2,1476.2 1746.4,1476.0 1748.6,1474.5 1750.8,1474.7 1753.0,1474.6 1755.2,1476.4 1757.4,1475.7 1759.6,1475.0 1761.8,1475.6 1764.0,1473.1 1766.2,1473.4 1768.4,1474.3 1770.6,1473.8 1772.8,1471.8 1775.0,1471.1 1777.2,1471.6 1779.4,1470.8 1781.6,1470.8 1783.8,1470.6 1786.0,1471.7 1788.2,1471.7 1790.4,1468.6 1792.6,1468.9 1794.8,1470.1 1797.0,1468.8 1799.2,1466.8 1801.4,1466.5 1803.6,1467.0 1805.8,1466.7 1808.0,1466.7 1810.2,1465.6 1812.4,1464.0 1814.6,1460.8 1816.8,1460.8 1819.0,1461.5 1821.2,1459.3 1823.4,1457.3 1825.6,1455.6 1827.8,1453.2 1830.0,1451.4 1832.2,1451.3 1834.4,1452.0 1836.6,1450.8 1838.8,1449.1 1841.0,1446.2 1843.2,1444.3 1845.4,1443.1 1847.6,1441.5 1849.8,1441.1 1852.0,1438.0 1854.2,1435.1 1856.4,1434.3 1858.6,1431.7 1860.8,1427.0 1863.0,1426.8 1865.2,1429.0 1867.4,1425.2 1869.6,1421.9 1871.8,1421.0 1874.0,1419.1 1876.2,1418.0 1878.4,1417.9 1880.6,1417.5 1882.8,1416.1 1885.0,1415.3 1887.2,1415.8 1889.4,1416.0 1891.6,1414.8 1893.8,1414.9 1896.0,1413.8 1898.2,1413.7 1900.4,1413.4 1902.6,1413.1 1904.8,1414.3 1907.0,1414.1 1909.2,1414.1 1911.4,1413.9 1913.6,1414.6 1915.8,1415.3 1918.0,1414.6 1920.2,1414.6 1922.4,1414.6 1924.6,1415.0 1926.8,1415.5 1929.0,1414.2 1931.2,1416.2 1933.4,1417.6 1935.6,1415.6 1937.8,1416.4 1940.0,1415.2 1942.2,1414.5 1944.4,1416.6 1946.6,1416.6 1948.8,1416.2 1951.0,1415.9 1953.2,1415.2 1955.4,1415.3 1957.6,1415.4 1959.8,1414.1 1962.0,1413.8 1964.2,1414.7 1966.4,1413.5 1968.6,1412.2 1970.8,1412.5 1973.0,1413.7 1975.2,1414.2 1977.4,1411.8 1979.6,1409.6 1981.8,1409.2 1984.0,1409.4 1986.2,1409.0 1988.4,1408.2 1990.6,1408.8 1992.8,1408.0 1995.0,1406.5 1997.2,1406.0 1999.4,1404.3 2001.6,1403.3 2003.8,1403.2 2006.0,1402.3 2008.2,1403.4 2010.4,1403.7 2012.6,1399.0 2014.8,1396.8 2017.0,1398.4 2019.2,1397.8 2021.4,1395.2 2023.6,1392.6 2025.8,1390.5 2028.0,1387.8 2030.2,1386.3 2032.4,1384.6 2034.6,1381.7 2036.8,1380.4 2039.0,1380.6 2041.2,1380.2 2043.4,1380.3 2045.6,1382.9 2047.8,1385.4 2050.0,1383.2 2052.2,1385.2 2054.4,1386.9 2056.6,1383.0 2058.8,1378.2 2061.0,1373.4 2063.2,1370.6 2065.4,1367.1 2067.6,1364.8 2069.8,1362.8 2072.0,1362.3 2074.2,1360.3 2076.4,1357.8 2078.6,1356.7 2080.8,1353.7 2083.0,1352.5 2085.2,1352.6 2087.4,1350.6 2089.6,1347.8 2091.8,1346.3 2094.0,1345.7 2096.2,1343.8 2098.4,1341.2 2100.6,1334.5 2102.8,1326.6 2105.0,1327.7 2107.2,1328.3 2109.4,1329.1 2111.6,1331.1 2113.8,1332.7 2116.0,1333.6 2118.2,1333.7 2120.4,1330.0 2122.6,1321.8 2124.8,1314.1 2127.0,1312.1 2129.2,1312.3 2131.4,1311.3 2133.6,1308.0 2135.8,1307.6 2138.0,1309.0 2140.2,1310.2 2142.4,1308.7 2144.6,1306.8 2146.8,1310.4 2149.0,1308.6 2151.2,1306.6 2153.4,1309.9 2155.6,1311.7 2157.8,1315.8 2160.0,1318.2 2162.2,1314.8 2164.4,1313.6 2166.6,1313.1 2168.8,1312.8 2171.0,1312.4 2173.2,1308.7 2175.4,1308.4 2177.6,1314.0 2179.8,1317.5 2182.0,1320.8 2184.2,1328.3 2186.4,1334.0 2188.6,1335.6 2190.8,1333.9 2193.0,1333.8 2195.2,1334.0 2197.4,1332.9 2199.6,1334.9 2201.8,1334.7 2204.0,1333.1 2206.2,1322.0 2208.4,1316.9 2210.6,1319.5 2212.8,1323.8 2215.0,1329.2 2217.2,1332.5 2219.4,1337.7 2221.6,1341.8 2223.8,1340.5 2226.0,1333.3 2228.2,1326.3 2230.4,1325.1 2232.6,1326.0 2234.8,1327.1 2237.0,1330.2 2239.2,1334.2" fill="none" stroke="#000000" stroke-width="6" stroke-linejoin="round" stroke-linecap="round"/>
<rect x="1439.2" y="166.8" width="808.5" height="1463.7" fill="none" stroke="#000" stroke-width="11.8"/>
<line x1="1507.0" y1="1626" x2="1507.0" y2="1606.6" stroke="#000" stroke-width="11.5"/>
<line x1="1574.4" y1="1626" x2="1574.4" y2="1582" stroke="#000" stroke-width="11.5"/>
<line x1="1641.8" y1="1626" x2="1641.8" y2="1606.6" stroke="#000" stroke-width="11.5"/>
<line x1="1709.1" y1="1626" x2="1709.1" y2="1582" stroke="#000" stroke-width="11.5"/>
<line x1="1776.5" y1="1626" x2="1776.5" y2="1606.6" stroke="#000" stroke-width="11.5"/>
<line x1="1843.8" y1="1626" x2="1843.8" y2="1582" stroke="#000" stroke-width="11.5"/>
<line x1="1911.2" y1="1626" x2="1911.2" y2="1606.6" stroke="#000" stroke-width="11.5"/>
<line x1="1978.6" y1="1626" x2="1978.6" y2="1582" stroke="#000" stroke-width="11.5"/>
<line x1="2045.9" y1="1626" x2="2045.9" y2="1606.6" stroke="#000" stroke-width="11.5"/>
<line x1="2113.3" y1="1626" x2="2113.3" y2="1582" stroke="#000" stroke-width="11.5"/>
<line x1="2180.6" y1="1626" x2="2180.6" y2="1606.6" stroke="#000" stroke-width="11.5"/>
<text x="1396.14" y="1709.20" style="font-family:'Liberation Sans', Arial, sans-serif;font-weight:bold;font-size:72.38px" fill="#000" textLength="85.19" lengthAdjust="spacingAndGlyphs">1.4</text>
<text x="1530.49" y="1708.51" style="font-family:'Liberation Sans', Arial, sans-serif;font-weight:bold;font-size:70.34px" fill="#000" textLength="88.40" lengthAdjust="spacingAndGlyphs">1.6</text>
<text x="1665.37" y="1708.51" style="font-family:'Liberation Sans', Arial, sans-serif;font-weight:bold;font-size:70.34px" fill="#000" textLength="86.75" lengthAdjust="spacingAndGlyphs">1.8</text>
<text x="1798.99" y="1708.51" style="font-family:'Liberation Sans', Arial, sans-serif;font-weight:bold;font-size:70.34px" fill="#000" textLength="88.63" lengthAdjust="spacingAndGlyphs">2.0</text>
<text x="1934.29" y="1709.20" style="font-family:'Liberation Sans', Arial, sans-serif;font-weight:bold;font-size:71.32px" fill="#000" textLength="88.66" lengthAdjust="spacingAndGlyphs">2.2</text>
<text x="2069.72" y="1709.20" style="font-family:'Liberation Sans', Arial, sans-serif;font-weight:bold;font-size:71.32px" fill="#000" textLength="87.52" lengthAdjust="spacingAndGlyphs">2.4</text>
<text x="2204.31" y="1708.51" style="font-family:'Liberation Sans', Arial, sans-serif;font-weight:bold;font-size:70.34px" fill="#000" textLength="87.77" lengthAdjust="spacingAndGlyphs">2.6</text>
<text x="1536.58" y="1811.30" style="font-family:'Liberation Sans', Arial, sans-serif;font-weight:bold;font-size:105.09px" fill="#000" textLength="325.44" lengthAdjust="spacingAndGlyphs">Energy</text>
<text x="1917.42" y="1811.63" style="font-family:'Liberation Sans', Arial, sans-serif;font-weight:bold;font-size:102.99px" fill="#000" textLength="234.66" lengthAdjust="spacingAndGlyphs">( eV )</text>
<text x="0" y="0" transform="translate(1404.52,1382.40) rotate(-90)" style="font-family:'Liberation Sans', Arial, sans-serif;font-weight:bold;font-size:100.22px" fill="#000" textLength="626.10" lengthAdjust="spacingAndGlyphs">Absorbance</text>
<text x="0" y="0" transform="translate(1410.02,726.12) rotate(-90)" style="font-family:Carlito, Calibri, 'Liberation Sans', sans-serif;font-weight:bold;font-size:109.56px" fill="#000" textLength="248.15" lengthAdjust="spacingAndGlyphs">(a.u.)</text>
<text x="1294.65" y="97.66" style="font-family:Carlito, Calibri, 'Liberation Sans', sans-serif;font-weight:bold;font-size:91.43px" fill="#000" textLength="112.99" lengthAdjust="spacingAndGlyphs">(b)</text>
<text x="1829.72" y="234.00" style="font-family:'Liberation Sans', Arial, sans-serif;font-weight:normal;font-size:80.38px" fill="#000" textLength="49.85" lengthAdjust="spacingAndGlyphs">X</text>
<text x="1880.10" y="258.90" style="font-family:'Liberation Sans', Arial, sans-serif;font-weight:normal;font-size:56.69px" fill="#000" textLength="32.79" lengthAdjust="spacingAndGlyphs">A</text>
<text x="2091.12" y="229.60" style="font-family:'Liberation Sans', Arial, sans-serif;font-weight:normal;font-size:78.64px" fill="#000" textLength="49.85" lengthAdjust="spacingAndGlyphs">X</text>
<text x="2140.45" y="252.40" style="font-family:'Liberation Sans', Arial, sans-serif;font-weight:normal;font-size:53.63px" fill="#000" textLength="35.34" lengthAdjust="spacingAndGlyphs">B</text>
<text x="1482.14" y="378.80" style="font-family:Carlito, Calibri, 'Liberation Sans', sans-serif;font-weight:normal;font-size:61.88px" fill="#F00000" textLength="83.75" lengthAdjust="spacingAndGlyphs">WS</text>
<text x="1567.64" y="394.20" style="font-family:Carlito, Calibri, 'Liberation Sans', sans-serif;font-weight:normal;font-size:38.68px" fill="#F00000" textLength="21.03" lengthAdjust="spacingAndGlyphs">2</text>
<text x="1450.23" y="1427.10" style="font-family:Carlito, Calibri, 'Liberation Sans', sans-serif;font-weight:normal;font-size:58.76px" fill="#000000" textLength="115.73" lengthAdjust="spacingAndGlyphs">WSe</text>
<text x="1565.74" y="1442.60" style="font-family:Carlito, Calibri, 'Liberation Sans', sans-serif;font-weight:normal;font-size:38.68px" fill="#000000" textLength="21.03" lengthAdjust="spacingAndGlyphs">2</text>
<text x="1448.06" y="547.80" style="font-family:Carlito, Calibri, 'Liberation Sans', sans-serif;font-weight:bold;font-size:59.53px" fill="#EB821E" textLength="177.69" lengthAdjust="spacingAndGlyphs">Ts=120</text>
<text x="1641.69" y="529.12" style="font-family:Carlito, Calibri, 'Liberation Sans', sans-serif;font-weight:bold;font-size:38.00px" fill="#EB821E" textLength="21.41" lengthAdjust="spacingAndGlyphs">o</text>
<text x="1664.24" y="548.58" style="font-family:Carlito, Calibri, 'Liberation Sans', sans-serif;font-weight:bold;font-size:60.97px" fill="#EB821E" textLength="32.59" lengthAdjust="spacingAndGlyphs">C</text>
<text x="1448.06" y="731.80" style="font-family:Carlito, Calibri, 'Liberation Sans', sans-serif;font-weight:bold;font-size:60.45px" fill="#7030A0" textLength="177.69" lengthAdjust="spacingAndGlyphs">Ts=110</text>
<text x="1641.69" y="713.12" style="font-family:Carlito, Calibri, 'Liberation Sans', sans-serif;font-weight:bold;font-size:38.00px" fill="#7030A0" textLength="21.41" lengthAdjust="spacingAndGlyphs">o</text>
<text x="1664.24" y="732.58" style="font-family:Carlito, Calibri, 'Liberation Sans', sans-serif;font-weight:bold;font-size:61.88px" fill="#7030A0" textLength="32.59" lengthAdjust="spacingAndGlyphs">C</text>
<text x="1448.07" y="919.60" style="font-family:Carlito, Calibri, 'Liberation Sans', sans-serif;font-weight:bold;font-size:60.45px" fill="#0D0D8A" textLength="177.08" lengthAdjust="spacingAndGlyphs">Ts=100</text>
<text x="1640.07" y="902.88" style="font-family:Carlito, Calibri, 'Liberation Sans', sans-serif;font-weight:bold;font-size:29.40px" fill="#0D0D8A" textLength="16.57" lengthAdjust="spacingAndGlyphs">o</text>
<text x="1659.54" y="919.93" style="font-family:Carlito, Calibri, 'Liberation Sans', sans-serif;font-weight:bold;font-size:53.73px" fill="#0D0D8A" textLength="27.39" lengthAdjust="spacingAndGlyphs">C</text>
<text x="1448.07" y="1095.00" style="font-family:Carlito, Calibri, 'Liberation Sans', sans-serif;font-weight:bold;font-size:60.45px" fill="#148214" textLength="146.38" lengthAdjust="spacingAndGlyphs">Ts=90</text>
<text x="1609.76" y="1076.35" style="font-family:Carlito, Calibri, 'Liberation Sans', sans-serif;font-weight:bold;font-size:34.20px" fill="#148214" textLength="22.09" lengthAdjust="spacingAndGlyphs">o</text>
<text x="1633.69" y="1095.18" style="font-family:Carlito, Calibri, 'Liberation Sans', sans-serif;font-weight:bold;font-size:61.88px" fill="#148214" textLength="31.21" lengthAdjust="spacingAndGlyphs">C</text>
<text x="1448.07" y="1222.60" style="font-family:Carlito, Calibri, 'Liberation Sans', sans-serif;font-weight:bold;font-size:60.45px" fill="#820A0A" textLength="146.38" lengthAdjust="spacingAndGlyphs">Ts=80</text>
<text x="1609.76" y="1203.95" style="font-family:Carlito, Calibri, 'Liberation Sans', sans-serif;font-weight:bold;font-size:34.40px" fill="#820A0A" textLength="22.09" lengthAdjust="spacingAndGlyphs">o</text>
<text x="1633.69" y="1222.78" style="font-family:Carlito, Calibri, 'Liberation Sans', sans-serif;font-weight:bold;font-size:62.03px" fill="#820A0A" textLength="31.21" lengthAdjust="spacingAndGlyphs">C</text>
</svg></body></html>
